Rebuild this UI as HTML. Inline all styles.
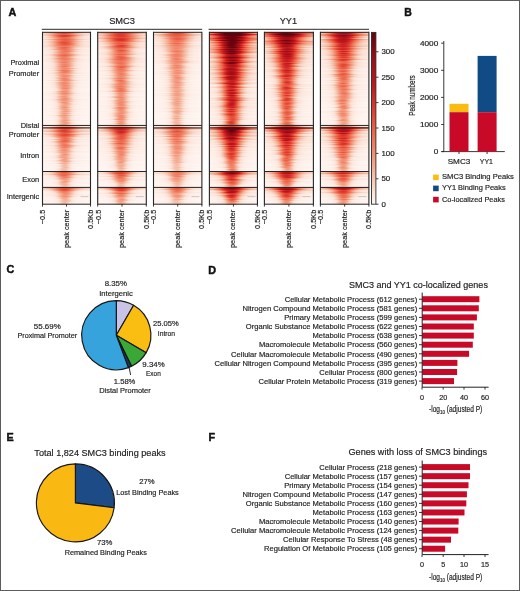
<!DOCTYPE html><html><head><meta charset="utf-8"><style>html,body{margin:0;padding:0;background:#fff;}svg{display:block;will-change:transform}</style></head><body><svg width="520" height="591" viewBox="0 0 520 591" font-family="Liberation Sans, sans-serif"><style>text{stroke:#1e1e1e;stroke-width:0.18px;paint-order:stroke}</style><defs><linearGradient id="g0" x1="0" x2="1" y1="0" y2="0"><stop offset="0.000" stop-color="#fff" stop-opacity="0.007"/><stop offset="0.050" stop-color="#fff" stop-opacity="0.018"/><stop offset="0.100" stop-color="#fff" stop-opacity="0.043"/><stop offset="0.150" stop-color="#fff" stop-opacity="0.093"/><stop offset="0.200" stop-color="#fff" stop-opacity="0.179"/><stop offset="0.250" stop-color="#fff" stop-opacity="0.310"/><stop offset="0.300" stop-color="#fff" stop-opacity="0.480"/><stop offset="0.350" stop-color="#fff" stop-opacity="0.670"/><stop offset="0.400" stop-color="#fff" stop-opacity="0.843"/><stop offset="0.450" stop-color="#fff" stop-opacity="0.961"/><stop offset="0.500" stop-color="#fff" stop-opacity="1.000"/><stop offset="0.550" stop-color="#fff" stop-opacity="0.961"/><stop offset="0.600" stop-color="#fff" stop-opacity="0.843"/><stop offset="0.650" stop-color="#fff" stop-opacity="0.670"/><stop offset="0.700" stop-color="#fff" stop-opacity="0.480"/><stop offset="0.750" stop-color="#fff" stop-opacity="0.310"/><stop offset="0.800" stop-color="#fff" stop-opacity="0.179"/><stop offset="0.850" stop-color="#fff" stop-opacity="0.093"/><stop offset="0.900" stop-color="#fff" stop-opacity="0.043"/><stop offset="0.950" stop-color="#fff" stop-opacity="0.018"/><stop offset="1.000" stop-color="#fff" stop-opacity="0.007"/></linearGradient><linearGradient id="g1" x1="0" x2="1" y1="0" y2="0"><stop offset="0.000" stop-color="#fff" stop-opacity="0.008"/><stop offset="0.050" stop-color="#fff" stop-opacity="0.022"/><stop offset="0.100" stop-color="#fff" stop-opacity="0.054"/><stop offset="0.150" stop-color="#fff" stop-opacity="0.116"/><stop offset="0.200" stop-color="#fff" stop-opacity="0.224"/><stop offset="0.250" stop-color="#fff" stop-opacity="0.387"/><stop offset="0.300" stop-color="#fff" stop-opacity="0.600"/><stop offset="0.350" stop-color="#fff" stop-opacity="0.837"/><stop offset="0.400" stop-color="#fff" stop-opacity="1.000"/><stop offset="0.450" stop-color="#fff" stop-opacity="1.000"/><stop offset="0.500" stop-color="#fff" stop-opacity="1.000"/><stop offset="0.550" stop-color="#fff" stop-opacity="1.000"/><stop offset="0.600" stop-color="#fff" stop-opacity="1.000"/><stop offset="0.650" stop-color="#fff" stop-opacity="0.837"/><stop offset="0.700" stop-color="#fff" stop-opacity="0.600"/><stop offset="0.750" stop-color="#fff" stop-opacity="0.387"/><stop offset="0.800" stop-color="#fff" stop-opacity="0.224"/><stop offset="0.850" stop-color="#fff" stop-opacity="0.116"/><stop offset="0.900" stop-color="#fff" stop-opacity="0.054"/><stop offset="0.950" stop-color="#fff" stop-opacity="0.022"/><stop offset="1.000" stop-color="#fff" stop-opacity="0.008"/></linearGradient><linearGradient id="g2" x1="0" x2="1" y1="0" y2="0"><stop offset="0.000" stop-color="#fff" stop-opacity="0.010"/><stop offset="0.050" stop-color="#fff" stop-opacity="0.027"/><stop offset="0.100" stop-color="#fff" stop-opacity="0.065"/><stop offset="0.150" stop-color="#fff" stop-opacity="0.140"/><stop offset="0.200" stop-color="#fff" stop-opacity="0.269"/><stop offset="0.250" stop-color="#fff" stop-opacity="0.465"/><stop offset="0.300" stop-color="#fff" stop-opacity="0.721"/><stop offset="0.350" stop-color="#fff" stop-opacity="1.000"/><stop offset="0.400" stop-color="#fff" stop-opacity="1.000"/><stop offset="0.450" stop-color="#fff" stop-opacity="1.000"/><stop offset="0.500" stop-color="#fff" stop-opacity="1.000"/><stop offset="0.550" stop-color="#fff" stop-opacity="1.000"/><stop offset="0.600" stop-color="#fff" stop-opacity="1.000"/><stop offset="0.650" stop-color="#fff" stop-opacity="1.000"/><stop offset="0.700" stop-color="#fff" stop-opacity="0.721"/><stop offset="0.750" stop-color="#fff" stop-opacity="0.465"/><stop offset="0.800" stop-color="#fff" stop-opacity="0.269"/><stop offset="0.850" stop-color="#fff" stop-opacity="0.140"/><stop offset="0.900" stop-color="#fff" stop-opacity="0.065"/><stop offset="0.950" stop-color="#fff" stop-opacity="0.027"/><stop offset="1.000" stop-color="#fff" stop-opacity="0.010"/></linearGradient><linearGradient id="g3" x1="0" x2="1" y1="0" y2="0"><stop offset="0.000" stop-color="#fff" stop-opacity="0.012"/><stop offset="0.050" stop-color="#fff" stop-opacity="0.032"/><stop offset="0.100" stop-color="#fff" stop-opacity="0.078"/><stop offset="0.150" stop-color="#fff" stop-opacity="0.167"/><stop offset="0.200" stop-color="#fff" stop-opacity="0.323"/><stop offset="0.250" stop-color="#fff" stop-opacity="0.558"/><stop offset="0.300" stop-color="#fff" stop-opacity="0.865"/><stop offset="0.350" stop-color="#fff" stop-opacity="1.000"/><stop offset="0.400" stop-color="#fff" stop-opacity="1.000"/><stop offset="0.450" stop-color="#fff" stop-opacity="1.000"/><stop offset="0.500" stop-color="#fff" stop-opacity="1.000"/><stop offset="0.550" stop-color="#fff" stop-opacity="1.000"/><stop offset="0.600" stop-color="#fff" stop-opacity="1.000"/><stop offset="0.650" stop-color="#fff" stop-opacity="1.000"/><stop offset="0.700" stop-color="#fff" stop-opacity="0.865"/><stop offset="0.750" stop-color="#fff" stop-opacity="0.558"/><stop offset="0.800" stop-color="#fff" stop-opacity="0.323"/><stop offset="0.850" stop-color="#fff" stop-opacity="0.167"/><stop offset="0.900" stop-color="#fff" stop-opacity="0.078"/><stop offset="0.950" stop-color="#fff" stop-opacity="0.032"/><stop offset="1.000" stop-color="#fff" stop-opacity="0.012"/></linearGradient><linearGradient id="g4" x1="0" x2="1" y1="0" y2="0"><stop offset="0.000" stop-color="#fff" stop-opacity="0.014"/><stop offset="0.050" stop-color="#fff" stop-opacity="0.039"/><stop offset="0.100" stop-color="#fff" stop-opacity="0.095"/><stop offset="0.150" stop-color="#fff" stop-opacity="0.205"/><stop offset="0.200" stop-color="#fff" stop-opacity="0.395"/><stop offset="0.250" stop-color="#fff" stop-opacity="0.682"/><stop offset="0.300" stop-color="#fff" stop-opacity="1.000"/><stop offset="0.350" stop-color="#fff" stop-opacity="1.000"/><stop offset="0.400" stop-color="#fff" stop-opacity="1.000"/><stop offset="0.450" stop-color="#fff" stop-opacity="1.000"/><stop offset="0.500" stop-color="#fff" stop-opacity="1.000"/><stop offset="0.550" stop-color="#fff" stop-opacity="1.000"/><stop offset="0.600" stop-color="#fff" stop-opacity="1.000"/><stop offset="0.650" stop-color="#fff" stop-opacity="1.000"/><stop offset="0.700" stop-color="#fff" stop-opacity="1.000"/><stop offset="0.750" stop-color="#fff" stop-opacity="0.682"/><stop offset="0.800" stop-color="#fff" stop-opacity="0.395"/><stop offset="0.850" stop-color="#fff" stop-opacity="0.205"/><stop offset="0.900" stop-color="#fff" stop-opacity="0.095"/><stop offset="0.950" stop-color="#fff" stop-opacity="0.039"/><stop offset="1.000" stop-color="#fff" stop-opacity="0.014"/></linearGradient><linearGradient id="g5" x1="0" x2="1" y1="0" y2="0"><stop offset="0.000" stop-color="#fff" stop-opacity="0.018"/><stop offset="0.050" stop-color="#fff" stop-opacity="0.050"/><stop offset="0.100" stop-color="#fff" stop-opacity="0.121"/><stop offset="0.150" stop-color="#fff" stop-opacity="0.260"/><stop offset="0.200" stop-color="#fff" stop-opacity="0.502"/><stop offset="0.250" stop-color="#fff" stop-opacity="0.868"/><stop offset="0.300" stop-color="#fff" stop-opacity="1.000"/><stop offset="0.350" stop-color="#fff" stop-opacity="1.000"/><stop offset="0.400" stop-color="#fff" stop-opacity="1.000"/><stop offset="0.450" stop-color="#fff" stop-opacity="1.000"/><stop offset="0.500" stop-color="#fff" stop-opacity="1.000"/><stop offset="0.550" stop-color="#fff" stop-opacity="1.000"/><stop offset="0.600" stop-color="#fff" stop-opacity="1.000"/><stop offset="0.650" stop-color="#fff" stop-opacity="1.000"/><stop offset="0.700" stop-color="#fff" stop-opacity="1.000"/><stop offset="0.750" stop-color="#fff" stop-opacity="0.868"/><stop offset="0.800" stop-color="#fff" stop-opacity="0.502"/><stop offset="0.850" stop-color="#fff" stop-opacity="0.260"/><stop offset="0.900" stop-color="#fff" stop-opacity="0.121"/><stop offset="0.950" stop-color="#fff" stop-opacity="0.050"/><stop offset="1.000" stop-color="#fff" stop-opacity="0.018"/></linearGradient><filter id="reds" color-interpolation-filters="sRGB" x="-0.1" y="-0.1" width="1.2" height="1.2"><feGaussianBlur stdDeviation="0.45 0.4"/><feComponentTransfer><feFuncR type="table" tableValues="1.000 0.984 0.965 0.949 0.925 0.878 0.757 0.620 0.404"/><feFuncG type="table" tableValues="0.965 0.878 0.729 0.561 0.404 0.227 0.094 0.055 0.008"/><feFuncB type="table" tableValues="0.949 0.831 0.639 0.455 0.298 0.173 0.118 0.082 0.051"/></feComponentTransfer></filter><clipPath id="cb0"><rect x="42.50" y="32.3" width="48.00" height="171.9"/></clipPath><clipPath id="cb1"><rect x="97.70" y="32.3" width="48.60" height="171.9"/></clipPath><clipPath id="cb2"><rect x="153.50" y="32.3" width="48.40" height="171.9"/></clipPath><clipPath id="cb3"><rect x="209.40" y="32.3" width="48.05" height="171.9"/></clipPath><clipPath id="cb4"><rect x="264.40" y="32.3" width="49.00" height="171.9"/></clipPath><clipPath id="cb5"><rect x="320.40" y="32.3" width="48.50" height="171.9"/></clipPath><linearGradient id="cbar" x1="0" y1="1" x2="0" y2="0"><stop offset="0.000" stop-color="#fff6f2"/><stop offset="0.074" stop-color="#fbe0d4"/><stop offset="0.177" stop-color="#f6baa3"/><stop offset="0.293" stop-color="#f28f74"/><stop offset="0.420" stop-color="#ec674c"/><stop offset="0.556" stop-color="#e03a2c"/><stop offset="0.698" stop-color="#c1181e"/><stop offset="0.846" stop-color="#9e0e15"/><stop offset="1.000" stop-color="#67020d"/></linearGradient></defs><rect width="520" height="591" fill="#fff"/><text x="8.50" y="15.90" font-size="10.80" font-weight="bold" style="stroke-width:0.45px;stroke:#111" fill="#111">A</text><text x="122.10" y="24.10" font-size="9.30" text-anchor="middle" fill="#1e1e1e">SMC3</text><text x="288.40" y="23.70" font-size="9.20" text-anchor="middle" fill="#1e1e1e">YY1</text><path d="M41.8 29.3H202.2M208.6 29.3H369" stroke="#2a2a2a" stroke-width="1.00" fill="none"/><g clip-path="url(#cb0)"><g filter="url(#reds)"><rect x="40.5" y="30.3" width="52.0" height="175.9" fill="#000"/><rect x="42.5" y="32" width="48.0" height="1" fill="#fff" opacity="0.0312"/><rect x="0.0" y="32" width="129.4" height="1" fill="url(#g0)" opacity="0.1"/><rect x="34.6" y="32" width="58.8" height="1" fill="url(#g0)" opacity="0.517"/><rect x="42.5" y="33" width="48.0" height="1" fill="#fff" opacity="0.0687"/><rect x="3.6" y="33" width="122.3" height="1" fill="url(#g0)" opacity="0.093"/><rect x="36.2" y="33" width="55.6" height="1" fill="url(#g0)" opacity="0.493"/><rect x="42.5" y="34" width="48.0" height="1" fill="#fff" opacity="0.101"/><rect x="4.4" y="34" width="120.5" height="1" fill="url(#g0)" opacity="0.091"/><rect x="36.6" y="34" width="54.8" height="1" fill="url(#g0)" opacity="0.41"/><rect x="42.5" y="35" width="48.0" height="1" fill="#fff" opacity="0.02"/><rect x="-4.8" y="35" width="139.1" height="1" fill="url(#g0)" opacity="0.1"/><rect x="33.2" y="35" width="63.2" height="1" fill="url(#g0)" opacity="0.578"/><rect x="42.5" y="36" width="48.0" height="1" fill="#fff" opacity="0.0354"/><rect x="8.2" y="36" width="113.1" height="1" fill="url(#g0)" opacity="0.083"/><rect x="38.7" y="36" width="51.4" height="1" fill="url(#g0)" opacity="0.571"/><rect x="42.5" y="37" width="48.0" height="1" fill="#fff" opacity="0.034"/><rect x="4.1" y="37" width="121.2" height="1" fill="url(#g0)" opacity="0.088"/><rect x="36.5" y="37" width="55.1" height="1" fill="url(#g0)" opacity="0.43"/><rect x="42.5" y="38" width="48.0" height="1" fill="#fff" opacity="0.0245"/><rect x="9.2" y="38" width="111.0" height="1" fill="url(#g0)" opacity="0.091"/><rect x="39.6" y="38" width="50.5" height="1" fill="url(#g0)" opacity="0.438"/><rect x="42.5" y="39" width="48.0" height="1" fill="#fff" opacity="0.0509"/><rect x="2.1" y="39" width="125.2" height="1" fill="url(#g0)" opacity="0.11"/><rect x="36.2" y="39" width="56.9" height="1" fill="url(#g0)" opacity="0.45"/><rect x="42.5" y="40" width="48.0" height="1" fill="#fff" opacity="0.03"/><rect x="8.5" y="40" width="112.5" height="1" fill="url(#g0)" opacity="0.074"/><rect x="39.5" y="40" width="51.1" height="1" fill="url(#g0)" opacity="0.459"/><rect x="42.5" y="41" width="48.0" height="1" fill="#fff" opacity="0.0465"/><rect x="4.6" y="41" width="120.3" height="1" fill="url(#g0)" opacity="0.079"/><rect x="37.7" y="41" width="54.7" height="1" fill="url(#g0)" opacity="0.471"/><rect x="42.5" y="42" width="48.0" height="1" fill="#fff" opacity="0.058"/><rect x="12.9" y="42" width="103.6" height="1" fill="url(#g0)" opacity="0.089"/><rect x="40.6" y="42" width="47.1" height="1" fill="url(#g0)" opacity="0.512"/><rect x="42.5" y="43" width="48.0" height="1" fill="#fff" opacity="0.0195"/><rect x="8.7" y="43" width="112.1" height="1" fill="url(#g0)" opacity="0.1"/><rect x="39.7" y="43" width="50.9" height="1" fill="url(#g0)" opacity="0.511"/><rect x="42.5" y="44" width="48.0" height="1" fill="#fff" opacity="0.04"/><rect x="11.6" y="44" width="106.2" height="1" fill="url(#g0)" opacity="0.099"/><rect x="40.7" y="44" width="48.3" height="1" fill="url(#g0)" opacity="0.486"/><rect x="42.5" y="45" width="48.0" height="1" fill="#fff" opacity="0.0291"/><rect x="4.0" y="45" width="121.4" height="1" fill="url(#g0)" opacity="0.093"/><rect x="37.1" y="45" width="55.2" height="1" fill="url(#g0)" opacity="0.429"/><rect x="42.5" y="46" width="48.0" height="1" fill="#fff" opacity="0.0603"/><rect x="7.5" y="46" width="114.3" height="1" fill="url(#g0)" opacity="0.07"/><rect x="38.4" y="46" width="52.0" height="1" fill="url(#g0)" opacity="0.363"/><rect x="42.5" y="47" width="48.0" height="1" fill="#fff" opacity="0.0566"/><rect x="19.5" y="47" width="90.4" height="1" fill="url(#g0)" opacity="0.093"/><rect x="43.9" y="47" width="41.1" height="1" fill="url(#g0)" opacity="0.429"/><rect x="42.5" y="48" width="48.0" height="1" fill="#fff" opacity="0.024"/><rect x="17.5" y="48" width="94.5" height="1" fill="url(#g0)" opacity="0.07"/><rect x="42.6" y="48" width="42.9" height="1" fill="url(#g0)" opacity="0.431"/><rect x="42.5" y="49" width="48.0" height="1" fill="#fff" opacity="0.0134"/><rect x="8.6" y="49" width="112.2" height="1" fill="url(#g0)" opacity="0.075"/><rect x="38.7" y="49" width="51.0" height="1" fill="url(#g0)" opacity="0.415"/><rect x="42.5" y="50" width="48.0" height="1" fill="#fff" opacity="0.0351"/><rect x="20.8" y="50" width="87.9" height="1" fill="url(#g0)" opacity="0.066"/><rect x="45.3" y="50" width="39.9" height="1" fill="url(#g0)" opacity="0.386"/><rect x="42.5" y="51" width="48.0" height="1" fill="#fff" opacity="0.0336"/><rect x="18.2" y="51" width="93.1" height="1" fill="url(#g0)" opacity="0.062"/><rect x="44.3" y="51" width="42.3" height="1" fill="url(#g0)" opacity="0.403"/><rect x="42.5" y="52" width="48.0" height="1" fill="#fff" opacity="0.0194"/><rect x="20.4" y="52" width="88.6" height="1" fill="url(#g0)" opacity="0.087"/><rect x="43.8" y="52" width="40.3" height="1" fill="url(#g0)" opacity="0.362"/><rect x="42.5" y="53" width="48.0" height="1" fill="#fff" opacity="0.0153"/><rect x="20.0" y="53" width="89.3" height="1" fill="url(#g0)" opacity="0.067"/><rect x="44.3" y="53" width="40.6" height="1" fill="url(#g0)" opacity="0.376"/><rect x="42.5" y="54" width="48.0" height="1" fill="#fff" opacity="0.00748"/><rect x="10.9" y="54" width="107.7" height="1" fill="url(#g0)" opacity="0.097"/><rect x="40.2" y="54" width="48.9" height="1" fill="url(#g0)" opacity="0.406"/><rect x="42.5" y="55" width="48.0" height="1" fill="#fff" opacity="0.0312"/><rect x="15.2" y="55" width="99.1" height="1" fill="url(#g0)" opacity="0.081"/><rect x="42.0" y="55" width="45.0" height="1" fill="url(#g0)" opacity="0.448"/><rect x="42.5" y="56" width="48.0" height="1" fill="#fff" opacity="0.018"/><rect x="19.5" y="56" width="90.4" height="1" fill="url(#g0)" opacity="0.063"/><rect x="43.5" y="56" width="41.1" height="1" fill="url(#g0)" opacity="0.405"/><rect x="42.5" y="57" width="48.0" height="1" fill="#fff" opacity="0.00705"/><rect x="20.7" y="57" width="87.9" height="1" fill="url(#g0)" opacity="0.073"/><rect x="44.1" y="57" width="40.0" height="1" fill="url(#g0)" opacity="0.364"/><rect x="42.5" y="58" width="48.0" height="1" fill="#fff" opacity="0.00691"/><rect x="12.7" y="58" width="103.9" height="1" fill="url(#g0)" opacity="0.064"/><rect x="40.4" y="58" width="47.2" height="1" fill="url(#g0)" opacity="0.412"/><rect x="42.5" y="59" width="48.0" height="1" fill="#fff" opacity="0.022"/><rect x="17.5" y="59" width="94.4" height="1" fill="url(#g0)" opacity="0.072"/><rect x="43.4" y="59" width="42.9" height="1" fill="url(#g0)" opacity="0.375"/><rect x="42.5" y="60" width="48.0" height="1" fill="#fff" opacity="0.0364"/><rect x="19.9" y="60" width="89.6" height="1" fill="url(#g0)" opacity="0.061"/><rect x="44.3" y="60" width="40.7" height="1" fill="url(#g0)" opacity="0.339"/><rect x="42.5" y="61" width="48.0" height="1" fill="#fff" opacity="0.0162"/><rect x="16.8" y="61" width="95.8" height="1" fill="url(#g0)" opacity="0.076"/><rect x="42.9" y="61" width="43.6" height="1" fill="url(#g0)" opacity="0.342"/><rect x="42.5" y="62" width="48.0" height="1" fill="#fff" opacity="0.0206"/><rect x="24.4" y="62" width="80.5" height="1" fill="url(#g0)" opacity="0.077"/><rect x="45.8" y="62" width="36.6" height="1" fill="url(#g0)" opacity="0.38"/><rect x="42.5" y="63" width="48.0" height="1" fill="#fff" opacity="0.00929"/><rect x="20.6" y="63" width="88.3" height="1" fill="url(#g0)" opacity="0.056"/><rect x="44.9" y="63" width="40.1" height="1" fill="url(#g0)" opacity="0.342"/><rect x="42.5" y="64" width="48.0" height="1" fill="#fff" opacity="0.0151"/><rect x="25.7" y="64" width="78.1" height="1" fill="url(#g0)" opacity="0.083"/><rect x="47.0" y="64" width="35.5" height="1" fill="url(#g0)" opacity="0.356"/><rect x="42.5" y="65" width="48.0" height="1" fill="#fff" opacity="0.0148"/><rect x="25.3" y="65" width="78.8" height="1" fill="url(#g0)" opacity="0.083"/><rect x="47.3" y="65" width="35.8" height="1" fill="url(#g0)" opacity="0.348"/><rect x="42.5" y="66" width="48.0" height="1" fill="#fff" opacity="0.0317"/><rect x="25.6" y="66" width="78.2" height="1" fill="url(#g0)" opacity="0.055"/><rect x="46.7" y="66" width="35.5" height="1" fill="url(#g0)" opacity="0.401"/><rect x="42.5" y="67" width="48.0" height="1" fill="#fff" opacity="0.0141"/><rect x="25.3" y="67" width="78.7" height="1" fill="url(#g0)" opacity="0.068"/><rect x="46.3" y="67" width="35.8" height="1" fill="url(#g0)" opacity="0.32"/><rect x="42.5" y="68" width="48.0" height="1" fill="#fff" opacity="0.0178"/><rect x="19.1" y="68" width="91.3" height="1" fill="url(#g0)" opacity="0.063"/><rect x="44.7" y="68" width="41.5" height="1" fill="url(#g0)" opacity="0.353"/><rect x="42.5" y="69" width="48.0" height="1" fill="#fff" opacity="0.0133"/><rect x="26.7" y="69" width="75.9" height="1" fill="url(#g0)" opacity="0.066"/><rect x="47.2" y="69" width="34.5" height="1" fill="url(#g0)" opacity="0.338"/><rect x="42.5" y="70" width="48.0" height="1" fill="#fff" opacity="0.00519"/><rect x="22.4" y="70" width="84.6" height="1" fill="url(#g0)" opacity="0.086"/><rect x="45.4" y="70" width="38.5" height="1" fill="url(#g0)" opacity="0.411"/><rect x="42.5" y="71" width="48.0" height="1" fill="#fff" opacity="0.00757"/><rect x="29.2" y="71" width="71.0" height="1" fill="url(#g0)" opacity="0.088"/><rect x="49.2" y="71" width="32.3" height="1" fill="url(#g0)" opacity="0.384"/><rect x="42.5" y="72" width="48.0" height="1" fill="#fff" opacity="0.00981"/><rect x="24.8" y="72" width="79.8" height="1" fill="url(#g0)" opacity="0.08"/><rect x="46.5" y="72" width="36.3" height="1" fill="url(#g0)" opacity="0.38"/><rect x="42.5" y="73" width="48.0" height="1" fill="#fff" opacity="0.0202"/><rect x="19.6" y="73" width="90.1" height="1" fill="url(#g0)" opacity="0.071"/><rect x="44.2" y="73" width="41.0" height="1" fill="url(#g0)" opacity="0.303"/><rect x="42.5" y="74" width="48.0" height="1" fill="#fff" opacity="0.00923"/><rect x="29.4" y="74" width="70.6" height="1" fill="url(#g0)" opacity="0.065"/><rect x="47.9" y="74" width="32.1" height="1" fill="url(#g0)" opacity="0.312"/><rect x="42.5" y="75" width="48.0" height="1" fill="#fff" opacity="0.0246"/><rect x="23.9" y="75" width="81.5" height="1" fill="url(#g0)" opacity="0.062"/><rect x="46.4" y="75" width="37.1" height="1" fill="url(#g0)" opacity="0.342"/><rect x="42.5" y="76" width="48.0" height="1" fill="#fff" opacity="0.00433"/><rect x="30.4" y="76" width="68.6" height="1" fill="url(#g0)" opacity="0.078"/><rect x="49.6" y="76" width="31.2" height="1" fill="url(#g0)" opacity="0.35"/><rect x="42.5" y="77" width="48.0" height="1" fill="#fff" opacity="0.00837"/><rect x="23.7" y="77" width="82.0" height="1" fill="url(#g0)" opacity="0.074"/><rect x="46.0" y="77" width="37.3" height="1" fill="url(#g0)" opacity="0.3"/><rect x="42.5" y="78" width="48.0" height="1" fill="#fff" opacity="0.0101"/><rect x="30.2" y="78" width="68.9" height="1" fill="url(#g0)" opacity="0.072"/><rect x="48.6" y="78" width="31.3" height="1" fill="url(#g0)" opacity="0.373"/><rect x="42.5" y="79" width="48.0" height="1" fill="#fff" opacity="0.0169"/><rect x="29.2" y="79" width="71.0" height="1" fill="url(#g0)" opacity="0.052"/><rect x="49.1" y="79" width="32.3" height="1" fill="url(#g0)" opacity="0.374"/><rect x="42.5" y="80" width="48.0" height="1" fill="#fff" opacity="0.0168"/><rect x="23.0" y="80" width="83.5" height="1" fill="url(#g0)" opacity="0.086"/><rect x="46.3" y="80" width="37.9" height="1" fill="url(#g0)" opacity="0.346"/><rect x="31.5" y="81" width="66.4" height="1" fill="url(#g0)" opacity="0.07"/><rect x="50.2" y="81" width="30.2" height="1" fill="url(#g0)" opacity="0.302"/><rect x="42.5" y="82" width="48.0" height="1" fill="#fff" opacity="0.00775"/><rect x="24.8" y="82" width="79.9" height="1" fill="url(#g0)" opacity="0.066"/><rect x="46.0" y="82" width="36.3" height="1" fill="url(#g0)" opacity="0.349"/><rect x="42.5" y="83" width="48.0" height="1" fill="#fff" opacity="0.0125"/><rect x="27.4" y="83" width="74.6" height="1" fill="url(#g0)" opacity="0.07"/><rect x="48.0" y="83" width="33.9" height="1" fill="url(#g0)" opacity="0.353"/><rect x="25.2" y="84" width="79.0" height="1" fill="url(#g0)" opacity="0.056"/><rect x="46.3" y="84" width="35.9" height="1" fill="url(#g0)" opacity="0.343"/><rect x="28.3" y="85" width="72.7" height="1" fill="url(#g0)" opacity="0.086"/><rect x="48.6" y="85" width="33.1" height="1" fill="url(#g0)" opacity="0.349"/><rect x="42.5" y="86" width="48.0" height="1" fill="#fff" opacity="0.00934"/><rect x="27.4" y="86" width="74.6" height="1" fill="url(#g0)" opacity="0.062"/><rect x="48.1" y="86" width="33.9" height="1" fill="url(#g0)" opacity="0.328"/><rect x="42.5" y="87" width="48.0" height="1" fill="#fff" opacity="0.00925"/><rect x="29.0" y="87" width="71.3" height="1" fill="url(#g0)" opacity="0.08"/><rect x="48.8" y="87" width="32.4" height="1" fill="url(#g0)" opacity="0.323"/><rect x="42.5" y="88" width="48.0" height="1" fill="#fff" opacity="0.00917"/><rect x="31.6" y="88" width="66.2" height="1" fill="url(#g0)" opacity="0.056"/><rect x="50.2" y="88" width="30.1" height="1" fill="url(#g0)" opacity="0.379"/><rect x="42.5" y="89" width="48.0" height="1" fill="#fff" opacity="0.00545"/><rect x="29.8" y="89" width="69.8" height="1" fill="url(#g0)" opacity="0.056"/><rect x="49.1" y="89" width="31.7" height="1" fill="url(#g0)" opacity="0.299"/><rect x="42.5" y="90" width="48.0" height="1" fill="#fff" opacity="0.0054"/><rect x="31.5" y="90" width="66.4" height="1" fill="url(#g0)" opacity="0.047"/><rect x="50.2" y="90" width="30.2" height="1" fill="url(#g0)" opacity="0.313"/><rect x="42.5" y="91" width="48.0" height="1" fill="#fff" opacity="0.00713"/><rect x="27.9" y="91" width="73.6" height="1" fill="url(#g0)" opacity="0.052"/><rect x="47.6" y="91" width="33.4" height="1" fill="url(#g0)" opacity="0.355"/><rect x="42.5" y="92" width="48.0" height="1" fill="#fff" opacity="0.00529"/><rect x="27.2" y="92" width="75.0" height="1" fill="url(#g0)" opacity="0.062"/><rect x="47.5" y="92" width="34.1" height="1" fill="url(#g0)" opacity="0.323"/><rect x="42.5" y="93" width="48.0" height="1" fill="#fff" opacity="0.00699"/><rect x="26.5" y="93" width="76.3" height="1" fill="url(#g0)" opacity="0.091"/><rect x="47.7" y="93" width="34.7" height="1" fill="url(#g0)" opacity="0.351"/><rect x="42.5" y="94" width="48.0" height="1" fill="#fff" opacity="0.0112"/><rect x="31.0" y="94" width="67.4" height="1" fill="url(#g0)" opacity="0.069"/><rect x="49.1" y="94" width="30.6" height="1" fill="url(#g0)" opacity="0.305"/><rect x="42.5" y="95" width="48.0" height="1" fill="#fff" opacity="0.0188"/><rect x="29.8" y="95" width="69.7" height="1" fill="url(#g0)" opacity="0.051"/><rect x="49.2" y="95" width="31.7" height="1" fill="url(#g0)" opacity="0.274"/><rect x="42.5" y="96" width="48.0" height="1" fill="#fff" opacity="0.00509"/><rect x="32.7" y="96" width="64.0" height="1" fill="url(#g0)" opacity="0.078"/><rect x="49.5" y="96" width="29.1" height="1" fill="url(#g0)" opacity="0.31"/><rect x="42.5" y="97" width="48.0" height="1" fill="#fff" opacity="0.00503"/><rect x="27.0" y="97" width="75.5" height="1" fill="url(#g0)" opacity="0.042"/><rect x="47.2" y="97" width="34.3" height="1" fill="url(#g0)" opacity="0.308"/><rect x="42.5" y="98" width="48.0" height="1" fill="#fff" opacity="0.00664"/><rect x="33.3" y="98" width="62.8" height="1" fill="url(#g0)" opacity="0.08"/><rect x="50.9" y="98" width="28.5" height="1" fill="url(#g0)" opacity="0.33"/><rect x="42.5" y="99" width="48.0" height="1" fill="#fff" opacity="0.014"/><rect x="26.7" y="99" width="76.0" height="1" fill="url(#g0)" opacity="0.08"/><rect x="46.9" y="99" width="34.5" height="1" fill="url(#g0)" opacity="0.313"/><rect x="42.5" y="100" width="48.0" height="1" fill="#fff" opacity="0.00488"/><rect x="29.4" y="100" width="70.6" height="1" fill="url(#g0)" opacity="0.073"/><rect x="48.3" y="100" width="32.1" height="1" fill="url(#g0)" opacity="0.313"/><rect x="42.5" y="101" width="48.0" height="1" fill="#fff" opacity="0.00805"/><rect x="27.7" y="101" width="74.1" height="1" fill="url(#g0)" opacity="0.061"/><rect x="48.6" y="101" width="33.7" height="1" fill="url(#g0)" opacity="0.282"/><rect x="42.5" y="102" width="48.0" height="1" fill="#fff" opacity="0.00796"/><rect x="35.9" y="102" width="57.6" height="1" fill="url(#g0)" opacity="0.079"/><rect x="50.9" y="102" width="26.2" height="1" fill="url(#g0)" opacity="0.325"/><rect x="42.5" y="103" width="48.0" height="1" fill="#fff" opacity="0.0134"/><rect x="33.6" y="103" width="62.3" height="1" fill="url(#g0)" opacity="0.051"/><rect x="51.2" y="103" width="28.3" height="1" fill="url(#g0)" opacity="0.307"/><rect x="42.5" y="104" width="48.0" height="1" fill="#fff" opacity="0.00779"/><rect x="31.9" y="104" width="65.6" height="1" fill="url(#g0)" opacity="0.07"/><rect x="50.5" y="104" width="29.8" height="1" fill="url(#g0)" opacity="0.265"/><rect x="42.5" y="105" width="48.0" height="1" fill="#fff" opacity="0.0077"/><rect x="35.5" y="105" width="58.4" height="1" fill="url(#g0)" opacity="0.058"/><rect x="51.6" y="105" width="26.6" height="1" fill="url(#g0)" opacity="0.286"/><rect x="42.5" y="106" width="48.0" height="1" fill="#fff" opacity="0.00609"/><rect x="33.1" y="106" width="63.2" height="1" fill="url(#g0)" opacity="0.065"/><rect x="50.0" y="106" width="28.7" height="1" fill="url(#g0)" opacity="0.274"/><rect x="37.2" y="107" width="55.0" height="1" fill="url(#g0)" opacity="0.069"/><rect x="52.6" y="107" width="25.0" height="1" fill="url(#g0)" opacity="0.345"/><rect x="42.5" y="108" width="48.0" height="1" fill="#fff" opacity="0.0164"/><rect x="33.2" y="108" width="63.0" height="1" fill="url(#g0)" opacity="0.065"/><rect x="49.8" y="108" width="28.6" height="1" fill="url(#g0)" opacity="0.262"/><rect x="42.5" y="109" width="48.0" height="1" fill="#fff" opacity="0.0125"/><rect x="33.2" y="109" width="62.9" height="1" fill="url(#g0)" opacity="0.051"/><rect x="51.1" y="109" width="28.6" height="1" fill="url(#g0)" opacity="0.297"/><rect x="42.5" y="110" width="48.0" height="1" fill="#fff" opacity="0.00727"/><rect x="35.9" y="110" width="57.6" height="1" fill="url(#g0)" opacity="0.061"/><rect x="52.1" y="110" width="26.2" height="1" fill="url(#g0)" opacity="0.271"/><rect x="42.5" y="111" width="48.0" height="1" fill="#fff" opacity="0.00934"/><rect x="34.5" y="111" width="60.5" height="1" fill="url(#g0)" opacity="0.073"/><rect x="51.7" y="111" width="27.5" height="1" fill="url(#g0)" opacity="0.298"/><rect x="42.5" y="112" width="48.0" height="1" fill="#fff" opacity="0.0071"/><rect x="32.6" y="112" width="64.2" height="1" fill="url(#g0)" opacity="0.038"/><rect x="50.0" y="112" width="29.2" height="1" fill="url(#g0)" opacity="0.269"/><rect x="42.5" y="113" width="48.0" height="1" fill="#fff" opacity="0.00702"/><rect x="35.1" y="113" width="59.3" height="1" fill="url(#g0)" opacity="0.067"/><rect x="51.4" y="113" width="26.9" height="1" fill="url(#g0)" opacity="0.303"/><rect x="42.5" y="114" width="48.0" height="1" fill="#fff" opacity="0.00693"/><rect x="37.1" y="114" width="55.3" height="1" fill="url(#g0)" opacity="0.044"/><rect x="52.0" y="114" width="25.1" height="1" fill="url(#g0)" opacity="0.264"/><rect x="42.5" y="115" width="48.0" height="1" fill="#fff" opacity="0.0089"/><rect x="30.1" y="115" width="69.3" height="1" fill="url(#g0)" opacity="0.082"/><rect x="48.6" y="115" width="31.5" height="1" fill="url(#g0)" opacity="0.314"/><rect x="35.9" y="116" width="57.7" height="1" fill="url(#g0)" opacity="0.041"/><rect x="51.3" y="116" width="26.2" height="1" fill="url(#g0)" opacity="0.29"/><rect x="42.5" y="117" width="48.0" height="1" fill="#fff" opacity="0.00667"/><rect x="33.4" y="117" width="62.7" height="1" fill="url(#g0)" opacity="0.038"/><rect x="50.5" y="117" width="28.5" height="1" fill="url(#g0)" opacity="0.285"/><rect x="42.5" y="118" width="48.0" height="1" fill="#fff" opacity="0.0112"/><rect x="38.6" y="118" width="52.1" height="1" fill="url(#g0)" opacity="0.05"/><rect x="53.0" y="118" width="23.7" height="1" fill="url(#g0)" opacity="0.27"/><rect x="34.0" y="119" width="61.4" height="1" fill="url(#g0)" opacity="0.055"/><rect x="50.9" y="119" width="27.9" height="1" fill="url(#g0)" opacity="0.273"/><rect x="42.5" y="120" width="48.0" height="1" fill="#fff" opacity="0.0109"/><rect x="34.0" y="120" width="61.4" height="1" fill="url(#g0)" opacity="0.068"/><rect x="51.2" y="120" width="27.9" height="1" fill="url(#g0)" opacity="0.296"/><rect x="42.5" y="121" width="48.0" height="1" fill="#fff" opacity="0.00506"/><rect x="37.5" y="121" width="54.5" height="1" fill="url(#g0)" opacity="0.067"/><rect x="51.6" y="121" width="24.8" height="1" fill="url(#g0)" opacity="0.277"/><rect x="42.5" y="122" width="48.0" height="1" fill="#fff" opacity="0.00499"/><rect x="34.7" y="122" width="60.1" height="1" fill="url(#g0)" opacity="0.07"/><rect x="51.7" y="122" width="27.3" height="1" fill="url(#g0)" opacity="0.307"/><rect x="33.3" y="123" width="62.9" height="1" fill="url(#g0)" opacity="0.059"/><rect x="50.9" y="123" width="28.6" height="1" fill="url(#g0)" opacity="0.288"/><rect x="42.5" y="124" width="48.0" height="1" fill="#fff" opacity="0.00607"/><rect x="34.6" y="124" width="60.2" height="1" fill="url(#g0)" opacity="0.044"/><rect x="50.4" y="124" width="27.4" height="1" fill="url(#g0)" opacity="0.322"/><rect x="42.5" y="125" width="48.0" height="1" fill="#fff" opacity="0.0102"/><rect x="32.4" y="125" width="64.6" height="1" fill="url(#g0)" opacity="0.059"/><rect x="50.6" y="125" width="29.4" height="1" fill="url(#g0)" opacity="0.285"/><rect x="42.5" y="125" width="48.0" height="1" fill="#fff" opacity="0.013"/><rect x="10.8" y="125" width="107.8" height="1" fill="url(#g0)" opacity="0.041"/><rect x="40.2" y="125" width="49.0" height="1" fill="url(#g0)" opacity="0.305"/><rect x="42.5" y="126" width="48.0" height="1" fill="#fff" opacity="0.00782"/><rect x="8.9" y="126" width="111.6" height="1" fill="url(#g0)" opacity="0.045"/><rect x="39.6" y="126" width="50.7" height="1" fill="url(#g0)" opacity="0.321"/><rect x="42.5" y="127" width="48.0" height="1" fill="#fff" opacity="0.00782"/><rect x="16.6" y="127" width="96.2" height="1" fill="url(#g0)" opacity="0.05"/><rect x="43.4" y="127" width="43.7" height="1" fill="url(#g0)" opacity="0.311"/><rect x="42.5" y="127" width="48.0" height="1" fill="#fff" opacity="0.264"/><rect x="10.1" y="127" width="109.2" height="1" fill="url(#g0)" opacity="0.12"/><rect x="39.9" y="127" width="49.6" height="1" fill="url(#g0)" opacity="0.624"/><rect x="42.5" y="128" width="48.0" height="1" fill="#fff" opacity="0.0404"/><rect x="4.7" y="128" width="120.1" height="1" fill="url(#g0)" opacity="0.12"/><rect x="37.6" y="128" width="54.6" height="1" fill="url(#g0)" opacity="0.609"/><rect x="42.5" y="129" width="48.0" height="1" fill="#fff" opacity="0.0821"/><rect x="16.1" y="129" width="97.3" height="1" fill="url(#g0)" opacity="0.11"/><rect x="42.8" y="129" width="44.2" height="1" fill="url(#g0)" opacity="0.477"/><rect x="42.5" y="130" width="48.0" height="1" fill="#fff" opacity="0.15"/><rect x="18.1" y="130" width="93.2" height="1" fill="url(#g0)" opacity="0.092"/><rect x="42.8" y="130" width="42.4" height="1" fill="url(#g0)" opacity="0.517"/><rect x="42.5" y="131" width="48.0" height="1" fill="#fff" opacity="0.138"/><rect x="10.7" y="131" width="108.1" height="1" fill="url(#g0)" opacity="0.11"/><rect x="39.8" y="131" width="49.1" height="1" fill="url(#g0)" opacity="0.506"/><rect x="42.5" y="132" width="48.0" height="1" fill="#fff" opacity="0.0344"/><rect x="15.4" y="132" width="98.6" height="1" fill="url(#g0)" opacity="0.1"/><rect x="43.1" y="132" width="44.8" height="1" fill="url(#g0)" opacity="0.51"/><rect x="42.5" y="133" width="48.0" height="1" fill="#fff" opacity="0.114"/><rect x="22.2" y="133" width="85.0" height="1" fill="url(#g0)" opacity="0.089"/><rect x="44.6" y="133" width="38.7" height="1" fill="url(#g0)" opacity="0.428"/><rect x="42.5" y="134" width="48.0" height="1" fill="#fff" opacity="0.102"/><rect x="10.8" y="134" width="107.9" height="1" fill="url(#g0)" opacity="0.094"/><rect x="41.0" y="134" width="49.0" height="1" fill="url(#g0)" opacity="0.5"/><rect x="42.5" y="135" width="48.0" height="1" fill="#fff" opacity="0.0247"/><rect x="12.7" y="135" width="103.9" height="1" fill="url(#g0)" opacity="0.079"/><rect x="41.2" y="135" width="47.2" height="1" fill="url(#g0)" opacity="0.544"/><rect x="42.5" y="136" width="48.0" height="1" fill="#fff" opacity="0.0286"/><rect x="13.9" y="136" width="101.7" height="1" fill="url(#g0)" opacity="0.096"/><rect x="41.8" y="136" width="46.2" height="1" fill="url(#g0)" opacity="0.458"/><rect x="42.5" y="137" width="48.0" height="1" fill="#fff" opacity="0.0395"/><rect x="26.3" y="137" width="76.9" height="1" fill="url(#g0)" opacity="0.1"/><rect x="46.8" y="137" width="35.0" height="1" fill="url(#g0)" opacity="0.397"/><rect x="42.5" y="138" width="48.0" height="1" fill="#fff" opacity="0.01"/><rect x="28.5" y="138" width="72.4" height="1" fill="url(#g0)" opacity="0.092"/><rect x="49.0" y="138" width="32.9" height="1" fill="url(#g0)" opacity="0.432"/><rect x="42.5" y="139" width="48.0" height="1" fill="#fff" opacity="0.0408"/><rect x="20.3" y="139" width="88.8" height="1" fill="url(#g0)" opacity="0.071"/><rect x="44.3" y="139" width="40.4" height="1" fill="url(#g0)" opacity="0.407"/><rect x="42.5" y="140" width="48.0" height="1" fill="#fff" opacity="0.03"/><rect x="29.9" y="140" width="69.5" height="1" fill="url(#g0)" opacity="0.067"/><rect x="49.4" y="140" width="31.6" height="1" fill="url(#g0)" opacity="0.462"/><rect x="42.5" y="141" width="48.0" height="1" fill="#fff" opacity="0.0221"/><rect x="21.9" y="141" width="85.5" height="1" fill="url(#g0)" opacity="0.065"/><rect x="44.9" y="141" width="38.9" height="1" fill="url(#g0)" opacity="0.468"/><rect x="42.5" y="142" width="48.0" height="1" fill="#fff" opacity="0.0127"/><rect x="20.8" y="142" width="87.8" height="1" fill="url(#g0)" opacity="0.072"/><rect x="44.5" y="142" width="39.9" height="1" fill="url(#g0)" opacity="0.393"/><rect x="42.5" y="143" width="48.0" height="1" fill="#fff" opacity="0.0121"/><rect x="31.1" y="143" width="67.1" height="1" fill="url(#g0)" opacity="0.079"/><rect x="48.7" y="143" width="30.5" height="1" fill="url(#g0)" opacity="0.366"/><rect x="42.5" y="144" width="48.0" height="1" fill="#fff" opacity="0.0192"/><rect x="30.6" y="144" width="68.2" height="1" fill="url(#g0)" opacity="0.069"/><rect x="49.1" y="144" width="31.0" height="1" fill="url(#g0)" opacity="0.401"/><rect x="42.5" y="145" width="48.0" height="1" fill="#fff" opacity="0.0309"/><rect x="24.1" y="145" width="81.3" height="1" fill="url(#g0)" opacity="0.093"/><rect x="46.8" y="145" width="36.9" height="1" fill="url(#g0)" opacity="0.384"/><rect x="42.5" y="146" width="48.0" height="1" fill="#fff" opacity="0.0172"/><rect x="23.4" y="146" width="82.6" height="1" fill="url(#g0)" opacity="0.054"/><rect x="46.3" y="146" width="37.6" height="1" fill="url(#g0)" opacity="0.392"/><rect x="42.5" y="147" width="48.0" height="1" fill="#fff" opacity="0.013"/><rect x="29.2" y="147" width="71.1" height="1" fill="url(#g0)" opacity="0.065"/><rect x="48.8" y="147" width="32.3" height="1" fill="url(#g0)" opacity="0.389"/><rect x="42.5" y="148" width="48.0" height="1" fill="#fff" opacity="0.0122"/><rect x="24.8" y="148" width="79.8" height="1" fill="url(#g0)" opacity="0.058"/><rect x="46.0" y="148" width="36.3" height="1" fill="url(#g0)" opacity="0.311"/><rect x="42.5" y="149" width="48.0" height="1" fill="#fff" opacity="0.0143"/><rect x="32.5" y="149" width="64.3" height="1" fill="url(#g0)" opacity="0.054"/><rect x="49.9" y="149" width="29.2" height="1" fill="url(#g0)" opacity="0.328"/><rect x="42.5" y="150" width="48.0" height="1" fill="#fff" opacity="0.00799"/><rect x="29.0" y="150" width="71.5" height="1" fill="url(#g0)" opacity="0.052"/><rect x="47.9" y="150" width="32.5" height="1" fill="url(#g0)" opacity="0.345"/><rect x="42.5" y="151" width="48.0" height="1" fill="#fff" opacity="0.0271"/><rect x="27.3" y="151" width="74.8" height="1" fill="url(#g0)" opacity="0.058"/><rect x="47.8" y="151" width="34.0" height="1" fill="url(#g0)" opacity="0.291"/><rect x="42.5" y="152" width="48.0" height="1" fill="#fff" opacity="0.0193"/><rect x="29.5" y="152" width="70.4" height="1" fill="url(#g0)" opacity="0.049"/><rect x="48.1" y="152" width="32.0" height="1" fill="url(#g0)" opacity="0.306"/><rect x="42.5" y="153" width="48.0" height="1" fill="#fff" opacity="0.00623"/><rect x="34.3" y="153" width="60.9" height="1" fill="url(#g0)" opacity="0.051"/><rect x="50.6" y="153" width="27.7" height="1" fill="url(#g0)" opacity="0.283"/><rect x="36.1" y="154" width="57.2" height="1" fill="url(#g0)" opacity="0.061"/><rect x="52.1" y="154" width="26.0" height="1" fill="url(#g0)" opacity="0.335"/><rect x="42.5" y="155" width="48.0" height="1" fill="#fff" opacity="0.0162"/><rect x="33.5" y="155" width="62.5" height="1" fill="url(#g0)" opacity="0.066"/><rect x="50.1" y="155" width="28.4" height="1" fill="url(#g0)" opacity="0.279"/><rect x="42.5" y="156" width="48.0" height="1" fill="#fff" opacity="0.012"/><rect x="33.4" y="156" width="62.6" height="1" fill="url(#g0)" opacity="0.057"/><rect x="49.9" y="156" width="28.4" height="1" fill="url(#g0)" opacity="0.288"/><rect x="42.5" y="157" width="48.0" height="1" fill="#fff" opacity="0.00898"/><rect x="31.2" y="157" width="67.0" height="1" fill="url(#g0)" opacity="0.072"/><rect x="48.8" y="157" width="30.4" height="1" fill="url(#g0)" opacity="0.284"/><rect x="42.5" y="158" width="48.0" height="1" fill="#fff" opacity="0.0148"/><rect x="33.6" y="158" width="62.2" height="1" fill="url(#g0)" opacity="0.065"/><rect x="51.3" y="158" width="28.3" height="1" fill="url(#g0)" opacity="0.256"/><rect x="39.5" y="159" width="50.3" height="1" fill="url(#g0)" opacity="0.068"/><rect x="53.1" y="159" width="22.9" height="1" fill="url(#g0)" opacity="0.295"/><rect x="42.5" y="160" width="48.0" height="1" fill="#fff" opacity="0.0179"/><rect x="31.7" y="160" width="66.1" height="1" fill="url(#g0)" opacity="0.053"/><rect x="48.9" y="160" width="30.0" height="1" fill="url(#g0)" opacity="0.283"/><rect x="42.5" y="161" width="48.0" height="1" fill="#fff" opacity="0.0173"/><rect x="33.4" y="161" width="62.7" height="1" fill="url(#g0)" opacity="0.048"/><rect x="51.2" y="161" width="28.5" height="1" fill="url(#g0)" opacity="0.288"/><rect x="42.5" y="162" width="48.0" height="1" fill="#fff" opacity="0.00453"/><rect x="39.5" y="162" width="50.4" height="1" fill="url(#g0)" opacity="0.052"/><rect x="53.9" y="162" width="22.9" height="1" fill="url(#g0)" opacity="0.224"/><rect x="42.5" y="163" width="48.0" height="1" fill="#fff" opacity="0.016"/><rect x="34.8" y="163" width="59.8" height="1" fill="url(#g0)" opacity="0.059"/><rect x="50.4" y="163" width="27.2" height="1" fill="url(#g0)" opacity="0.243"/><rect x="40.5" y="164" width="48.5" height="1" fill="url(#g0)" opacity="0.037"/><rect x="53.9" y="164" width="22.0" height="1" fill="url(#g0)" opacity="0.216"/><rect x="42.5" y="165" width="48.0" height="1" fill="#fff" opacity="0.0114"/><rect x="39.8" y="165" width="49.8" height="1" fill="url(#g0)" opacity="0.033"/><rect x="53.7" y="165" width="22.6" height="1" fill="url(#g0)" opacity="0.216"/><rect x="42.5" y="166" width="48.0" height="1" fill="#fff" opacity="0.00642"/><rect x="38.0" y="166" width="53.4" height="1" fill="url(#g0)" opacity="0.034"/><rect x="52.4" y="166" width="24.3" height="1" fill="url(#g0)" opacity="0.208"/><rect x="42.5" y="167" width="48.0" height="1" fill="#fff" opacity="0.00614"/><rect x="42.5" y="167" width="44.5" height="1" fill="url(#g0)" opacity="0.039"/><rect x="55.4" y="167" width="20.2" height="1" fill="url(#g0)" opacity="0.232"/><rect x="42.5" y="168" width="48.0" height="1" fill="#fff" opacity="0.00585"/><rect x="36.4" y="168" width="56.5" height="1" fill="url(#g0)" opacity="0.035"/><rect x="51.8" y="168" width="25.7" height="1" fill="url(#g0)" opacity="0.211"/><rect x="42.5" y="169" width="48.0" height="1" fill="#fff" opacity="0.00557"/><rect x="36.0" y="169" width="57.5" height="1" fill="url(#g0)" opacity="0.032"/><rect x="50.9" y="169" width="26.1" height="1" fill="url(#g0)" opacity="0.202"/><rect x="38.8" y="170" width="51.9" height="1" fill="url(#g0)" opacity="0.049"/><rect x="52.5" y="170" width="23.6" height="1" fill="url(#g0)" opacity="0.222"/><rect x="42.3" y="171" width="44.8" height="1" fill="url(#g0)" opacity="0.049"/><rect x="54.8" y="171" width="20.4" height="1" fill="url(#g0)" opacity="0.217"/><rect x="42.5" y="171" width="48.0" height="1" fill="#fff" opacity="0.048"/><rect x="7.1" y="171" width="115.1" height="1" fill="url(#g0)" opacity="0.12"/><rect x="39.0" y="171" width="52.3" height="1" fill="url(#g0)" opacity="0.56"/><rect x="42.5" y="172" width="48.0" height="1" fill="#fff" opacity="0.0693"/><rect x="16.7" y="172" width="96.0" height="1" fill="url(#g0)" opacity="0.11"/><rect x="42.6" y="172" width="43.6" height="1" fill="url(#g0)" opacity="0.471"/><rect x="42.5" y="173" width="48.0" height="1" fill="#fff" opacity="0.0544"/><rect x="19.7" y="173" width="90.1" height="1" fill="url(#g0)" opacity="0.09"/><rect x="43.6" y="173" width="40.9" height="1" fill="url(#g0)" opacity="0.409"/><rect x="42.5" y="174" width="48.0" height="1" fill="#fff" opacity="0.087"/><rect x="13.6" y="174" width="102.2" height="1" fill="url(#g0)" opacity="0.094"/><rect x="41.4" y="174" width="46.4" height="1" fill="url(#g0)" opacity="0.398"/><rect x="42.5" y="175" width="48.0" height="1" fill="#fff" opacity="0.0424"/><rect x="27.0" y="175" width="75.4" height="1" fill="url(#g0)" opacity="0.061"/><rect x="46.8" y="175" width="34.3" height="1" fill="url(#g0)" opacity="0.445"/><rect x="42.5" y="176" width="48.0" height="1" fill="#fff" opacity="0.00889"/><rect x="25.4" y="176" width="78.5" height="1" fill="url(#g0)" opacity="0.072"/><rect x="46.3" y="176" width="35.7" height="1" fill="url(#g0)" opacity="0.39"/><rect x="42.5" y="177" width="48.0" height="1" fill="#fff" opacity="0.0117"/><rect x="28.4" y="177" width="72.5" height="1" fill="url(#g0)" opacity="0.092"/><rect x="49.0" y="177" width="33.0" height="1" fill="url(#g0)" opacity="0.363"/><rect x="42.5" y="178" width="48.0" height="1" fill="#fff" opacity="0.0371"/><rect x="31.6" y="178" width="66.1" height="1" fill="url(#g0)" opacity="0.069"/><rect x="48.9" y="178" width="30.1" height="1" fill="url(#g0)" opacity="0.295"/><rect x="42.5" y="179" width="48.0" height="1" fill="#fff" opacity="0.0184"/><rect x="31.4" y="179" width="66.6" height="1" fill="url(#g0)" opacity="0.046"/><rect x="49.5" y="179" width="30.3" height="1" fill="url(#g0)" opacity="0.307"/><rect x="42.5" y="180" width="48.0" height="1" fill="#fff" opacity="0.0195"/><rect x="36.1" y="180" width="57.2" height="1" fill="url(#g0)" opacity="0.04"/><rect x="52.4" y="180" width="26.0" height="1" fill="url(#g0)" opacity="0.261"/><rect x="42.5" y="181" width="48.0" height="1" fill="#fff" opacity="0.0125"/><rect x="36.3" y="181" width="56.8" height="1" fill="url(#g0)" opacity="0.053"/><rect x="52.2" y="181" width="25.8" height="1" fill="url(#g0)" opacity="0.31"/><rect x="42.5" y="182" width="48.0" height="1" fill="#fff" opacity="0.0195"/><rect x="38.4" y="182" width="52.6" height="1" fill="url(#g0)" opacity="0.056"/><rect x="52.3" y="182" width="23.9" height="1" fill="url(#g0)" opacity="0.269"/><rect x="42.5" y="183" width="48.0" height="1" fill="#fff" opacity="0.0177"/><rect x="37.4" y="183" width="54.7" height="1" fill="url(#g0)" opacity="0.045"/><rect x="51.5" y="183" width="24.9" height="1" fill="url(#g0)" opacity="0.232"/><rect x="34.8" y="184" width="59.9" height="1" fill="url(#g0)" opacity="0.048"/><rect x="50.9" y="184" width="27.2" height="1" fill="url(#g0)" opacity="0.248"/><rect x="42.5" y="185" width="48.0" height="1" fill="#fff" opacity="0.00649"/><rect x="41.6" y="185" width="46.2" height="1" fill="url(#g0)" opacity="0.056"/><rect x="54.6" y="185" width="21.0" height="1" fill="url(#g0)" opacity="0.218"/><rect x="41.0" y="186" width="47.4" height="1" fill="url(#g0)" opacity="0.042"/><rect x="53.5" y="186" width="21.6" height="1" fill="url(#g0)" opacity="0.185"/><rect x="41.9" y="187" width="45.6" height="1" fill="url(#g0)" opacity="0.037"/><rect x="54.7" y="187" width="20.7" height="1" fill="url(#g0)" opacity="0.173"/><rect x="42.5" y="187" width="48.0" height="1" fill="#fff" opacity="0.069"/><rect x="-1.9" y="187" width="133.2" height="1" fill="url(#g0)" opacity="0.1"/><rect x="33.7" y="187" width="60.6" height="1" fill="url(#g0)" opacity="0.67"/><rect x="42.5" y="188" width="48.0" height="1" fill="#fff" opacity="0.117"/><rect x="5.0" y="188" width="119.4" height="1" fill="url(#g0)" opacity="0.12"/><rect x="38.0" y="188" width="54.3" height="1" fill="url(#g0)" opacity="0.461"/><rect x="42.5" y="189" width="48.0" height="1" fill="#fff" opacity="0.12"/><rect x="20.9" y="189" width="87.5" height="1" fill="url(#g0)" opacity="0.12"/><rect x="44.3" y="189" width="39.8" height="1" fill="url(#g0)" opacity="0.474"/><rect x="42.5" y="190" width="48.0" height="1" fill="#fff" opacity="0.0324"/><rect x="14.4" y="190" width="100.6" height="1" fill="url(#g0)" opacity="0.083"/><rect x="42.0" y="190" width="45.7" height="1" fill="url(#g0)" opacity="0.485"/><rect x="42.5" y="191" width="48.0" height="1" fill="#fff" opacity="0.0158"/><rect x="23.9" y="191" width="81.6" height="1" fill="url(#g0)" opacity="0.072"/><rect x="46.2" y="191" width="37.1" height="1" fill="url(#g0)" opacity="0.403"/><rect x="42.5" y="192" width="48.0" height="1" fill="#fff" opacity="0.00908"/><rect x="25.2" y="192" width="79.0" height="1" fill="url(#g0)" opacity="0.072"/><rect x="46.7" y="192" width="35.9" height="1" fill="url(#g0)" opacity="0.363"/><rect x="42.5" y="193" width="48.0" height="1" fill="#fff" opacity="0.0121"/><rect x="26.7" y="193" width="75.9" height="1" fill="url(#g0)" opacity="0.058"/><rect x="48.2" y="193" width="34.5" height="1" fill="url(#g0)" opacity="0.349"/><rect x="42.5" y="194" width="48.0" height="1" fill="#fff" opacity="0.0387"/><rect x="32.2" y="194" width="65.1" height="1" fill="url(#g0)" opacity="0.08"/><rect x="50.7" y="194" width="29.6" height="1" fill="url(#g0)" opacity="0.283"/><rect x="42.5" y="195" width="48.0" height="1" fill="#fff" opacity="0.0331"/><rect x="33.3" y="195" width="62.7" height="1" fill="url(#g0)" opacity="0.067"/><rect x="50.6" y="195" width="28.5" height="1" fill="url(#g0)" opacity="0.285"/><rect x="42.5" y="196" width="48.0" height="1" fill="#fff" opacity="0.0075"/><rect x="27.8" y="196" width="73.8" height="1" fill="url(#g0)" opacity="0.057"/><rect x="48.4" y="196" width="33.6" height="1" fill="url(#g0)" opacity="0.343"/><rect x="42.5" y="197" width="48.0" height="1" fill="#fff" opacity="0.00999"/><rect x="35.2" y="197" width="58.9" height="1" fill="url(#g0)" opacity="0.045"/><rect x="51.7" y="197" width="26.8" height="1" fill="url(#g0)" opacity="0.284"/><rect x="42.5" y="198" width="48.0" height="1" fill="#fff" opacity="0.00739"/><rect x="36.5" y="198" width="56.5" height="1" fill="url(#g0)" opacity="0.064"/><rect x="51.5" y="198" width="25.7" height="1" fill="url(#g0)" opacity="0.25"/><rect x="42.5" y="199" width="48.0" height="1" fill="#fff" opacity="0.0085"/><rect x="39.1" y="199" width="51.3" height="1" fill="url(#g0)" opacity="0.048"/><rect x="53.8" y="199" width="23.3" height="1" fill="url(#g0)" opacity="0.24"/><rect x="42.5" y="200" width="48.0" height="1" fill="#fff" opacity="0.0171"/><rect x="33.7" y="200" width="62.1" height="1" fill="url(#g0)" opacity="0.035"/><rect x="51.4" y="200" width="28.2" height="1" fill="url(#g0)" opacity="0.23"/><rect x="42.5" y="201" width="48.0" height="1" fill="#fff" opacity="0.0154"/><rect x="34.7" y="201" width="59.9" height="1" fill="url(#g0)" opacity="0.033"/><rect x="51.7" y="201" width="27.2" height="1" fill="url(#g0)" opacity="0.232"/><rect x="42.5" y="202" width="48.0" height="1" fill="#fff" opacity="0.00626"/><rect x="41.4" y="202" width="46.5" height="1" fill="url(#g0)" opacity="0.049"/><rect x="54.3" y="202" width="21.1" height="1" fill="url(#g0)" opacity="0.196"/><rect x="42.5" y="203" width="48.0" height="1" fill="#fff" opacity="0.00442"/><rect x="42.7" y="203" width="43.9" height="1" fill="url(#g0)" opacity="0.032"/><rect x="54.6" y="203" width="20.0" height="1" fill="url(#g0)" opacity="0.189"/><rect x="37.0" y="204" width="55.4" height="1" fill="url(#g0)" opacity="0.046"/><rect x="52.3" y="204" width="25.2" height="1" fill="url(#g0)" opacity="0.2"/></g></g><g clip-path="url(#cb1)"><g filter="url(#reds)"><rect x="95.7" y="30.3" width="52.6" height="175.9" fill="#000"/><rect x="97.7" y="32" width="48.6" height="1" fill="#fff" opacity="0.114"/><rect x="55.9" y="32" width="130.1" height="1" fill="url(#g0)" opacity="0.092"/><rect x="90.9" y="32" width="59.1" height="1" fill="url(#g0)" opacity="0.574"/><rect x="97.7" y="33" width="48.6" height="1" fill="#fff" opacity="0.0771"/><rect x="45.0" y="33" width="151.9" height="1" fill="url(#g0)" opacity="0.13"/><rect x="87.0" y="33" width="69.1" height="1" fill="url(#g0)" opacity="0.537"/><rect x="97.7" y="34" width="48.6" height="1" fill="#fff" opacity="0.0663"/><rect x="51.8" y="34" width="138.5" height="1" fill="url(#g0)" opacity="0.078"/><rect x="88.9" y="34" width="62.9" height="1" fill="url(#g0)" opacity="0.578"/><rect x="97.7" y="35" width="48.6" height="1" fill="#fff" opacity="0.0945"/><rect x="51.1" y="35" width="139.8" height="1" fill="url(#g0)" opacity="0.1"/><rect x="88.6" y="35" width="63.5" height="1" fill="url(#g0)" opacity="0.551"/><rect x="97.7" y="36" width="48.6" height="1" fill="#fff" opacity="0.0295"/><rect x="49.4" y="36" width="143.1" height="1" fill="url(#g0)" opacity="0.1"/><rect x="88.7" y="36" width="65.1" height="1" fill="url(#g0)" opacity="0.578"/><rect x="97.7" y="37" width="48.6" height="1" fill="#fff" opacity="0.0472"/><rect x="43.7" y="37" width="154.7" height="1" fill="url(#g0)" opacity="0.072"/><rect x="85.7" y="37" width="70.3" height="1" fill="url(#g0)" opacity="0.527"/><rect x="97.7" y="38" width="48.6" height="1" fill="#fff" opacity="0.0771"/><rect x="47.2" y="38" width="147.7" height="1" fill="url(#g0)" opacity="0.13"/><rect x="87.3" y="38" width="67.1" height="1" fill="url(#g0)" opacity="0.557"/><rect x="97.7" y="39" width="48.6" height="1" fill="#fff" opacity="0.0435"/><rect x="58.7" y="39" width="124.6" height="1" fill="url(#g0)" opacity="0.11"/><rect x="92.5" y="39" width="56.7" height="1" fill="url(#g0)" opacity="0.619"/><rect x="97.7" y="40" width="48.6" height="1" fill="#fff" opacity="0.0333"/><rect x="58.5" y="40" width="125.0" height="1" fill="url(#g0)" opacity="0.13"/><rect x="92.5" y="40" width="56.8" height="1" fill="url(#g0)" opacity="0.593"/><rect x="97.7" y="41" width="48.6" height="1" fill="#fff" opacity="0.0873"/><rect x="51.3" y="41" width="139.3" height="1" fill="url(#g0)" opacity="0.076"/><rect x="89.8" y="41" width="63.3" height="1" fill="url(#g0)" opacity="0.495"/><rect x="97.7" y="42" width="48.6" height="1" fill="#fff" opacity="0.0643"/><rect x="66.3" y="42" width="109.4" height="1" fill="url(#g0)" opacity="0.094"/><rect x="95.5" y="42" width="49.7" height="1" fill="url(#g0)" opacity="0.43"/><rect x="97.7" y="43" width="48.6" height="1" fill="#fff" opacity="0.0287"/><rect x="60.9" y="43" width="120.2" height="1" fill="url(#g0)" opacity="0.075"/><rect x="93.4" y="43" width="54.6" height="1" fill="url(#g0)" opacity="0.504"/><rect x="97.7" y="44" width="48.6" height="1" fill="#fff" opacity="0.0579"/><rect x="69.9" y="44" width="102.3" height="1" fill="url(#g0)" opacity="0.1"/><rect x="97.7" y="44" width="46.5" height="1" fill="url(#g0)" opacity="0.431"/><rect x="97.7" y="45" width="48.6" height="1" fill="#fff" opacity="0.0257"/><rect x="68.7" y="45" width="104.6" height="1" fill="url(#g0)" opacity="0.077"/><rect x="97.8" y="45" width="47.5" height="1" fill="url(#g0)" opacity="0.58"/><rect x="97.7" y="46" width="48.6" height="1" fill="#fff" opacity="0.0515"/><rect x="67.8" y="46" width="106.3" height="1" fill="url(#g0)" opacity="0.12"/><rect x="96.2" y="46" width="48.3" height="1" fill="url(#g0)" opacity="0.531"/><rect x="97.7" y="47" width="48.6" height="1" fill="#fff" opacity="0.0284"/><rect x="59.5" y="47" width="123.0" height="1" fill="url(#g0)" opacity="0.1"/><rect x="93.2" y="47" width="55.9" height="1" fill="url(#g0)" opacity="0.505"/><rect x="97.7" y="48" width="48.6" height="1" fill="#fff" opacity="0.0265"/><rect x="67.6" y="48" width="106.7" height="1" fill="url(#g0)" opacity="0.11"/><rect x="96.0" y="48" width="48.5" height="1" fill="url(#g0)" opacity="0.421"/><rect x="97.7" y="49" width="48.6" height="1" fill="#fff" opacity="0.0197"/><rect x="70.7" y="49" width="100.7" height="1" fill="url(#g0)" opacity="0.094"/><rect x="97.7" y="49" width="45.8" height="1" fill="url(#g0)" opacity="0.42"/><rect x="97.7" y="50" width="48.6" height="1" fill="#fff" opacity="0.0091"/><rect x="76.7" y="50" width="88.5" height="1" fill="url(#g0)" opacity="0.087"/><rect x="101.2" y="50" width="40.2" height="1" fill="url(#g0)" opacity="0.528"/><rect x="97.7" y="51" width="48.6" height="1" fill="#fff" opacity="0.0218"/><rect x="71.1" y="51" width="99.8" height="1" fill="url(#g0)" opacity="0.076"/><rect x="98.6" y="51" width="45.4" height="1" fill="url(#g0)" opacity="0.451"/><rect x="97.7" y="52" width="48.6" height="1" fill="#fff" opacity="0.0279"/><rect x="72.5" y="52" width="96.9" height="1" fill="url(#g0)" opacity="0.079"/><rect x="98.9" y="52" width="44.1" height="1" fill="url(#g0)" opacity="0.423"/><rect x="97.7" y="53" width="48.6" height="1" fill="#fff" opacity="0.0463"/><rect x="69.5" y="53" width="103.0" height="1" fill="url(#g0)" opacity="0.074"/><rect x="97.5" y="53" width="46.8" height="1" fill="url(#g0)" opacity="0.38"/><rect x="97.7" y="54" width="48.6" height="1" fill="#fff" opacity="0.0166"/><rect x="67.0" y="54" width="108.0" height="1" fill="url(#g0)" opacity="0.084"/><rect x="96.9" y="54" width="49.1" height="1" fill="url(#g0)" opacity="0.472"/><rect x="97.7" y="55" width="48.6" height="1" fill="#fff" opacity="0.0265"/><rect x="74.2" y="55" width="93.6" height="1" fill="url(#g0)" opacity="0.074"/><rect x="99.1" y="55" width="42.5" height="1" fill="url(#g0)" opacity="0.393"/><rect x="97.7" y="56" width="48.6" height="1" fill="#fff" opacity="0.016"/><rect x="79.2" y="56" width="83.5" height="1" fill="url(#g0)" opacity="0.098"/><rect x="101.3" y="56" width="38.0" height="1" fill="url(#g0)" opacity="0.442"/><rect x="97.7" y="57" width="48.6" height="1" fill="#fff" opacity="0.00785"/><rect x="72.8" y="57" width="96.4" height="1" fill="url(#g0)" opacity="0.11"/><rect x="99.5" y="57" width="43.8" height="1" fill="url(#g0)" opacity="0.472"/><rect x="97.7" y="58" width="48.6" height="1" fill="#fff" opacity="0.00771"/><rect x="69.4" y="58" width="103.3" height="1" fill="url(#g0)" opacity="0.11"/><rect x="98.1" y="58" width="46.9" height="1" fill="url(#g0)" opacity="0.45"/><rect x="97.7" y="59" width="48.6" height="1" fill="#fff" opacity="0.0189"/><rect x="69.4" y="59" width="103.2" height="1" fill="url(#g0)" opacity="0.11"/><rect x="96.9" y="59" width="46.9" height="1" fill="url(#g0)" opacity="0.454"/><rect x="97.7" y="60" width="48.6" height="1" fill="#fff" opacity="0.0148"/><rect x="69.9" y="60" width="102.2" height="1" fill="url(#g0)" opacity="0.09"/><rect x="98.1" y="60" width="46.4" height="1" fill="url(#g0)" opacity="0.405"/><rect x="97.7" y="61" width="48.6" height="1" fill="#fff" opacity="0.0182"/><rect x="70.1" y="61" width="101.9" height="1" fill="url(#g0)" opacity="0.096"/><rect x="97.3" y="61" width="46.3" height="1" fill="url(#g0)" opacity="0.387"/><rect x="97.7" y="62" width="48.6" height="1" fill="#fff" opacity="0.0143"/><rect x="70.8" y="62" width="100.4" height="1" fill="url(#g0)" opacity="0.1"/><rect x="97.8" y="62" width="45.7" height="1" fill="url(#g0)" opacity="0.391"/><rect x="97.7" y="63" width="48.6" height="1" fill="#fff" opacity="0.0175"/><rect x="74.3" y="63" width="93.4" height="1" fill="url(#g0)" opacity="0.059"/><rect x="99.5" y="63" width="42.5" height="1" fill="url(#g0)" opacity="0.439"/><rect x="97.7" y="64" width="48.6" height="1" fill="#fff" opacity="0.0171"/><rect x="80.5" y="64" width="80.9" height="1" fill="url(#g0)" opacity="0.093"/><rect x="102.9" y="64" width="36.8" height="1" fill="url(#g0)" opacity="0.376"/><rect x="97.7" y="65" width="48.6" height="1" fill="#fff" opacity="0.0101"/><rect x="72.6" y="65" width="96.8" height="1" fill="url(#g0)" opacity="0.054"/><rect x="99.4" y="65" width="44.0" height="1" fill="url(#g0)" opacity="0.401"/><rect x="97.7" y="66" width="48.6" height="1" fill="#fff" opacity="0.0361"/><rect x="70.6" y="66" width="100.7" height="1" fill="url(#g0)" opacity="0.092"/><rect x="98.2" y="66" width="45.8" height="1" fill="url(#g0)" opacity="0.448"/><rect x="97.7" y="67" width="48.6" height="1" fill="#fff" opacity="0.0273"/><rect x="82.4" y="67" width="77.1" height="1" fill="url(#g0)" opacity="0.081"/><rect x="103.9" y="67" width="35.1" height="1" fill="url(#g0)" opacity="0.46"/><rect x="97.7" y="68" width="48.6" height="1" fill="#fff" opacity="0.0126"/><rect x="79.4" y="68" width="83.2" height="1" fill="url(#g0)" opacity="0.09"/><rect x="101.9" y="68" width="37.8" height="1" fill="url(#g0)" opacity="0.394"/><rect x="97.7" y="69" width="48.6" height="1" fill="#fff" opacity="0.00613"/><rect x="82.3" y="69" width="77.5" height="1" fill="url(#g0)" opacity="0.079"/><rect x="103.1" y="69" width="35.2" height="1" fill="url(#g0)" opacity="0.411"/><rect x="97.7" y="70" width="48.6" height="1" fill="#fff" opacity="0.0195"/><rect x="72.6" y="70" width="96.8" height="1" fill="url(#g0)" opacity="0.086"/><rect x="99.4" y="70" width="44.0" height="1" fill="url(#g0)" opacity="0.378"/><rect x="97.7" y="71" width="48.6" height="1" fill="#fff" opacity="0.0248"/><rect x="81.6" y="71" width="78.8" height="1" fill="url(#g0)" opacity="0.067"/><rect x="103.0" y="71" width="35.8" height="1" fill="url(#g0)" opacity="0.373"/><rect x="97.7" y="72" width="48.6" height="1" fill="#fff" opacity="0.0057"/><rect x="79.5" y="72" width="83.0" height="1" fill="url(#g0)" opacity="0.049"/><rect x="101.4" y="72" width="37.7" height="1" fill="url(#g0)" opacity="0.374"/><rect x="97.7" y="73" width="48.6" height="1" fill="#fff" opacity="0.0181"/><rect x="84.7" y="73" width="72.7" height="1" fill="url(#g0)" opacity="0.071"/><rect x="104.5" y="73" width="33.0" height="1" fill="url(#g0)" opacity="0.386"/><rect x="97.7" y="74" width="48.6" height="1" fill="#fff" opacity="0.0176"/><rect x="84.7" y="74" width="72.6" height="1" fill="url(#g0)" opacity="0.072"/><rect x="104.7" y="74" width="33.0" height="1" fill="url(#g0)" opacity="0.376"/><rect x="97.7" y="75" width="48.6" height="1" fill="#fff" opacity="0.0132"/><rect x="75.4" y="75" width="91.3" height="1" fill="url(#g0)" opacity="0.068"/><rect x="100.6" y="75" width="41.5" height="1" fill="url(#g0)" opacity="0.359"/><rect x="97.7" y="76" width="48.6" height="1" fill="#fff" opacity="0.0128"/><rect x="85.3" y="76" width="71.3" height="1" fill="url(#g0)" opacity="0.058"/><rect x="104.6" y="76" width="32.4" height="1" fill="url(#g0)" opacity="0.354"/><rect x="97.7" y="77" width="48.6" height="1" fill="#fff" opacity="0.0162"/><rect x="79.8" y="77" width="82.4" height="1" fill="url(#g0)" opacity="0.07"/><rect x="102.4" y="77" width="37.5" height="1" fill="url(#g0)" opacity="0.335"/><rect x="97.7" y="78" width="48.6" height="1" fill="#fff" opacity="0.0266"/><rect x="81.7" y="78" width="78.5" height="1" fill="url(#g0)" opacity="0.096"/><rect x="102.7" y="78" width="35.7" height="1" fill="url(#g0)" opacity="0.378"/><rect x="97.7" y="79" width="48.6" height="1" fill="#fff" opacity="0.0202"/><rect x="81.8" y="79" width="78.3" height="1" fill="url(#g0)" opacity="0.053"/><rect x="102.7" y="79" width="35.6" height="1" fill="url(#g0)" opacity="0.343"/><rect x="97.7" y="80" width="48.6" height="1" fill="#fff" opacity="0.0118"/><rect x="87.0" y="80" width="68.0" height="1" fill="url(#g0)" opacity="0.067"/><rect x="105.0" y="80" width="30.9" height="1" fill="url(#g0)" opacity="0.438"/><rect x="97.7" y="81" width="48.6" height="1" fill="#fff" opacity="0.0198"/><rect x="82.6" y="81" width="76.9" height="1" fill="url(#g0)" opacity="0.061"/><rect x="104.0" y="81" width="35.0" height="1" fill="url(#g0)" opacity="0.4"/><rect x="97.7" y="82" width="48.6" height="1" fill="#fff" opacity="0.00461"/><rect x="85.1" y="82" width="71.7" height="1" fill="url(#g0)" opacity="0.08"/><rect x="105.5" y="82" width="32.6" height="1" fill="url(#g0)" opacity="0.361"/><rect x="97.7" y="83" width="48.6" height="1" fill="#fff" opacity="0.0194"/><rect x="82.6" y="83" width="76.8" height="1" fill="url(#g0)" opacity="0.084"/><rect x="104.1" y="83" width="34.9" height="1" fill="url(#g0)" opacity="0.366"/><rect x="97.7" y="84" width="48.6" height="1" fill="#fff" opacity="0.0248"/><rect x="80.5" y="84" width="80.9" height="1" fill="url(#g0)" opacity="0.094"/><rect x="102.1" y="84" width="36.8" height="1" fill="url(#g0)" opacity="0.352"/><rect x="97.7" y="85" width="48.6" height="1" fill="#fff" opacity="0.00668"/><rect x="81.9" y="85" width="78.3" height="1" fill="url(#g0)" opacity="0.079"/><rect x="102.9" y="85" width="35.6" height="1" fill="url(#g0)" opacity="0.349"/><rect x="97.7" y="86" width="48.6" height="1" fill="#fff" opacity="0.0044"/><rect x="79.8" y="86" width="82.3" height="1" fill="url(#g0)" opacity="0.079"/><rect x="101.9" y="86" width="37.4" height="1" fill="url(#g0)" opacity="0.399"/><rect x="97.7" y="87" width="48.6" height="1" fill="#fff" opacity="0.0109"/><rect x="80.7" y="87" width="80.6" height="1" fill="url(#g0)" opacity="0.09"/><rect x="102.4" y="87" width="36.6" height="1" fill="url(#g0)" opacity="0.355"/><rect x="97.7" y="88" width="48.6" height="1" fill="#fff" opacity="0.0043"/><rect x="88.7" y="88" width="64.6" height="1" fill="url(#g0)" opacity="0.098"/><rect x="105.8" y="88" width="29.4" height="1" fill="url(#g0)" opacity="0.405"/><rect x="97.7" y="89" width="48.6" height="1" fill="#fff" opacity="0.0085"/><rect x="87.6" y="89" width="66.8" height="1" fill="url(#g0)" opacity="0.07"/><rect x="106.2" y="89" width="30.4" height="1" fill="url(#g0)" opacity="0.413"/><rect x="97.7" y="90" width="48.6" height="1" fill="#fff" opacity="0.0105"/><rect x="86.4" y="90" width="69.1" height="1" fill="url(#g0)" opacity="0.095"/><rect x="105.1" y="90" width="31.4" height="1" fill="url(#g0)" opacity="0.398"/><rect x="97.7" y="91" width="48.6" height="1" fill="#fff" opacity="0.0228"/><rect x="79.5" y="91" width="82.9" height="1" fill="url(#g0)" opacity="0.08"/><rect x="102.1" y="91" width="37.7" height="1" fill="url(#g0)" opacity="0.403"/><rect x="97.7" y="92" width="48.6" height="1" fill="#fff" opacity="0.0102"/><rect x="90.1" y="92" width="61.8" height="1" fill="url(#g0)" opacity="0.055"/><rect x="107.1" y="92" width="28.1" height="1" fill="url(#g0)" opacity="0.323"/><rect x="97.7" y="93" width="48.6" height="1" fill="#fff" opacity="0.00606"/><rect x="83.9" y="93" width="74.3" height="1" fill="url(#g0)" opacity="0.053"/><rect x="104.2" y="93" width="33.8" height="1" fill="url(#g0)" opacity="0.349"/><rect x="97.7" y="94" width="48.6" height="1" fill="#fff" opacity="0.00798"/><rect x="89.5" y="94" width="62.9" height="1" fill="url(#g0)" opacity="0.049"/><rect x="106.5" y="94" width="28.6" height="1" fill="url(#g0)" opacity="0.329"/><rect x="90.5" y="95" width="61.0" height="1" fill="url(#g0)" opacity="0.071"/><rect x="107.4" y="95" width="27.7" height="1" fill="url(#g0)" opacity="0.314"/><rect x="97.7" y="96" width="48.6" height="1" fill="#fff" opacity="0.0126"/><rect x="84.9" y="96" width="72.3" height="1" fill="url(#g0)" opacity="0.08"/><rect x="104.1" y="96" width="32.8" height="1" fill="url(#g0)" opacity="0.304"/><rect x="97.7" y="97" width="48.6" height="1" fill="#fff" opacity="0.0163"/><rect x="84.3" y="97" width="73.4" height="1" fill="url(#g0)" opacity="0.058"/><rect x="103.7" y="97" width="33.3" height="1" fill="url(#g0)" opacity="0.367"/><rect x="97.7" y="98" width="48.6" height="1" fill="#fff" opacity="0.00567"/><rect x="91.1" y="98" width="59.8" height="1" fill="url(#g0)" opacity="0.068"/><rect x="107.9" y="98" width="27.2" height="1" fill="url(#g0)" opacity="0.319"/><rect x="97.7" y="99" width="48.6" height="1" fill="#fff" opacity="0.0056"/><rect x="90.6" y="99" width="60.8" height="1" fill="url(#g0)" opacity="0.071"/><rect x="107.7" y="99" width="27.6" height="1" fill="url(#g0)" opacity="0.334"/><rect x="97.7" y="100" width="48.6" height="1" fill="#fff" opacity="0.0092"/><rect x="88.4" y="100" width="65.3" height="1" fill="url(#g0)" opacity="0.056"/><rect x="105.4" y="100" width="29.7" height="1" fill="url(#g0)" opacity="0.342"/><rect x="97.7" y="101" width="48.6" height="1" fill="#fff" opacity="0.0118"/><rect x="84.7" y="101" width="72.6" height="1" fill="url(#g0)" opacity="0.075"/><rect x="105.1" y="101" width="33.0" height="1" fill="url(#g0)" opacity="0.323"/><rect x="97.7" y="102" width="48.6" height="1" fill="#fff" opacity="0.00894"/><rect x="87.3" y="102" width="67.3" height="1" fill="url(#g0)" opacity="0.05"/><rect x="105.9" y="102" width="30.6" height="1" fill="url(#g0)" opacity="0.374"/><rect x="97.7" y="103" width="48.6" height="1" fill="#fff" opacity="0.00529"/><rect x="88.0" y="103" width="66.1" height="1" fill="url(#g0)" opacity="0.075"/><rect x="105.7" y="103" width="30.0" height="1" fill="url(#g0)" opacity="0.338"/><rect x="97.7" y="104" width="48.6" height="1" fill="#fff" opacity="0.00521"/><rect x="90.4" y="104" width="61.2" height="1" fill="url(#g0)" opacity="0.06"/><rect x="107.2" y="104" width="27.8" height="1" fill="url(#g0)" opacity="0.36"/><rect x="97.7" y="105" width="48.6" height="1" fill="#fff" opacity="0.00855"/><rect x="87.5" y="105" width="67.0" height="1" fill="url(#g0)" opacity="0.085"/><rect x="106.2" y="105" width="30.4" height="1" fill="url(#g0)" opacity="0.327"/><rect x="97.7" y="106" width="48.6" height="1" fill="#fff" opacity="0.0185"/><rect x="88.0" y="106" width="65.9" height="1" fill="url(#g0)" opacity="0.07"/><rect x="106.3" y="106" width="30.0" height="1" fill="url(#g0)" opacity="0.284"/><rect x="97.7" y="107" width="48.6" height="1" fill="#fff" opacity="0.0083"/><rect x="87.3" y="107" width="67.5" height="1" fill="url(#g0)" opacity="0.059"/><rect x="105.8" y="107" width="30.7" height="1" fill="url(#g0)" opacity="0.397"/><rect x="97.7" y="108" width="48.6" height="1" fill="#fff" opacity="0.00817"/><rect x="84.1" y="108" width="73.8" height="1" fill="url(#g0)" opacity="0.055"/><rect x="104.2" y="108" width="33.6" height="1" fill="url(#g0)" opacity="0.382"/><rect x="97.7" y="109" width="48.6" height="1" fill="#fff" opacity="0.00482"/><rect x="92.7" y="109" width="56.7" height="1" fill="url(#g0)" opacity="0.062"/><rect x="108.3" y="109" width="25.8" height="1" fill="url(#g0)" opacity="0.359"/><rect x="97.7" y="110" width="48.6" height="1" fill="#fff" opacity="0.00475"/><rect x="89.8" y="110" width="62.3" height="1" fill="url(#g0)" opacity="0.07"/><rect x="106.7" y="110" width="28.3" height="1" fill="url(#g0)" opacity="0.328"/><rect x="97.7" y="111" width="48.6" height="1" fill="#fff" opacity="0.0132"/><rect x="90.9" y="111" width="60.2" height="1" fill="url(#g0)" opacity="0.064"/><rect x="108.0" y="111" width="27.4" height="1" fill="url(#g0)" opacity="0.322"/><rect x="97.7" y="112" width="48.6" height="1" fill="#fff" opacity="0.00765"/><rect x="85.6" y="112" width="70.8" height="1" fill="url(#g0)" opacity="0.049"/><rect x="105.6" y="112" width="32.2" height="1" fill="url(#g0)" opacity="0.335"/><rect x="87.7" y="113" width="66.7" height="1" fill="url(#g0)" opacity="0.06"/><rect x="105.6" y="113" width="30.3" height="1" fill="url(#g0)" opacity="0.351"/><rect x="97.7" y="114" width="48.6" height="1" fill="#fff" opacity="0.00961"/><rect x="86.4" y="114" width="69.1" height="1" fill="url(#g0)" opacity="0.057"/><rect x="104.8" y="114" width="31.4" height="1" fill="url(#g0)" opacity="0.303"/><rect x="97.7" y="115" width="48.6" height="1" fill="#fff" opacity="0.00581"/><rect x="89.1" y="115" width="63.7" height="1" fill="url(#g0)" opacity="0.075"/><rect x="106.3" y="115" width="29.0" height="1" fill="url(#g0)" opacity="0.353"/><rect x="97.7" y="116" width="48.6" height="1" fill="#fff" opacity="0.00714"/><rect x="90.0" y="116" width="62.0" height="1" fill="url(#g0)" opacity="0.075"/><rect x="106.6" y="116" width="28.2" height="1" fill="url(#g0)" opacity="0.342"/><rect x="97.7" y="117" width="48.6" height="1" fill="#fff" opacity="0.00561"/><rect x="93.5" y="117" width="55.0" height="1" fill="url(#g0)" opacity="0.079"/><rect x="109.3" y="117" width="25.0" height="1" fill="url(#g0)" opacity="0.353"/><rect x="97.7" y="118" width="48.6" height="1" fill="#fff" opacity="0.00688"/><rect x="91.9" y="118" width="58.2" height="1" fill="url(#g0)" opacity="0.053"/><rect x="107.5" y="118" width="26.5" height="1" fill="url(#g0)" opacity="0.344"/><rect x="97.7" y="119" width="48.6" height="1" fill="#fff" opacity="0.00405"/><rect x="88.6" y="119" width="64.7" height="1" fill="url(#g0)" opacity="0.077"/><rect x="105.8" y="119" width="29.4" height="1" fill="url(#g0)" opacity="0.364"/><rect x="97.7" y="120" width="48.6" height="1" fill="#fff" opacity="0.0053"/><rect x="94.1" y="120" width="53.8" height="1" fill="url(#g0)" opacity="0.066"/><rect x="109.2" y="120" width="24.5" height="1" fill="url(#g0)" opacity="0.293"/><rect x="93.9" y="121" width="54.3" height="1" fill="url(#g0)" opacity="0.076"/><rect x="108.3" y="121" width="24.7" height="1" fill="url(#g0)" opacity="0.308"/><rect x="97.7" y="122" width="48.6" height="1" fill="#fff" opacity="0.0108"/><rect x="95.7" y="122" width="50.6" height="1" fill="url(#g0)" opacity="0.062"/><rect x="109.8" y="122" width="23.0" height="1" fill="url(#g0)" opacity="0.315"/><rect x="97.7" y="123" width="48.6" height="1" fill="#fff" opacity="0.00499"/><rect x="91.9" y="123" width="58.2" height="1" fill="url(#g0)" opacity="0.073"/><rect x="107.4" y="123" width="26.5" height="1" fill="url(#g0)" opacity="0.325"/><rect x="97.7" y="124" width="48.6" height="1" fill="#fff" opacity="0.0104"/><rect x="94.0" y="124" width="53.9" height="1" fill="url(#g0)" opacity="0.057"/><rect x="109.1" y="124" width="24.5" height="1" fill="url(#g0)" opacity="0.271"/><rect x="97.7" y="125" width="48.6" height="1" fill="#fff" opacity="0.006"/><rect x="88.9" y="125" width="64.1" height="1" fill="url(#g0)" opacity="0.069"/><rect x="106.7" y="125" width="29.1" height="1" fill="url(#g0)" opacity="0.325"/><rect x="97.7" y="125" width="48.6" height="1" fill="#fff" opacity="0.00869"/><rect x="69.5" y="125" width="102.9" height="1" fill="url(#g0)" opacity="0.053"/><rect x="98.2" y="125" width="46.8" height="1" fill="url(#g0)" opacity="0.327"/><rect x="97.7" y="126" width="48.6" height="1" fill="#fff" opacity="0.0116"/><rect x="63.0" y="126" width="116.0" height="1" fill="url(#g0)" opacity="0.059"/><rect x="94.2" y="126" width="52.7" height="1" fill="url(#g0)" opacity="0.315"/><rect x="97.7" y="127" width="48.6" height="1" fill="#fff" opacity="0.0246"/><rect x="64.5" y="127" width="113.0" height="1" fill="url(#g0)" opacity="0.069"/><rect x="95.3" y="127" width="51.4" height="1" fill="url(#g0)" opacity="0.305"/><rect x="97.7" y="127" width="48.6" height="1" fill="#fff" opacity="0.156"/><rect x="54.6" y="127" width="132.9" height="1" fill="url(#g0)" opacity="0.13"/><rect x="91.2" y="127" width="60.4" height="1" fill="url(#g0)" opacity="0.791"/><rect x="97.7" y="128" width="48.6" height="1" fill="#fff" opacity="0.0404"/><rect x="56.0" y="128" width="130.0" height="1" fill="url(#g0)" opacity="0.1"/><rect x="91.1" y="128" width="59.1" height="1" fill="url(#g0)" opacity="0.691"/><rect x="97.7" y="129" width="48.6" height="1" fill="#fff" opacity="0.0821"/><rect x="59.2" y="129" width="123.5" height="1" fill="url(#g0)" opacity="0.095"/><rect x="93.0" y="129" width="56.2" height="1" fill="url(#g0)" opacity="0.678"/><rect x="97.7" y="130" width="48.6" height="1" fill="#fff" opacity="0.15"/><rect x="68.0" y="130" width="106.0" height="1" fill="url(#g0)" opacity="0.12"/><rect x="96.9" y="130" width="48.2" height="1" fill="url(#g0)" opacity="0.566"/><rect x="97.7" y="131" width="48.6" height="1" fill="#fff" opacity="0.107"/><rect x="69.6" y="131" width="102.8" height="1" fill="url(#g0)" opacity="0.12"/><rect x="98.0" y="131" width="46.7" height="1" fill="url(#g0)" opacity="0.621"/><rect x="97.7" y="132" width="48.6" height="1" fill="#fff" opacity="0.0344"/><rect x="75.9" y="132" width="90.2" height="1" fill="url(#g0)" opacity="0.13"/><rect x="100.9" y="132" width="41.0" height="1" fill="url(#g0)" opacity="0.653"/><rect x="97.7" y="133" width="48.6" height="1" fill="#fff" opacity="0.0883"/><rect x="76.1" y="133" width="89.9" height="1" fill="url(#g0)" opacity="0.077"/><rect x="100.4" y="133" width="40.9" height="1" fill="url(#g0)" opacity="0.569"/><rect x="97.7" y="134" width="48.6" height="1" fill="#fff" opacity="0.0605"/><rect x="74.8" y="134" width="92.3" height="1" fill="url(#g0)" opacity="0.077"/><rect x="100.1" y="134" width="42.0" height="1" fill="url(#g0)" opacity="0.526"/><rect x="97.7" y="135" width="48.6" height="1" fill="#fff" opacity="0.0411"/><rect x="76.3" y="135" width="89.3" height="1" fill="url(#g0)" opacity="0.12"/><rect x="101.5" y="135" width="40.6" height="1" fill="url(#g0)" opacity="0.474"/><rect x="97.7" y="136" width="48.6" height="1" fill="#fff" opacity="0.0215"/><rect x="80.7" y="136" width="80.5" height="1" fill="url(#g0)" opacity="0.1"/><rect x="103.2" y="136" width="36.6" height="1" fill="url(#g0)" opacity="0.502"/><rect x="97.7" y="137" width="48.6" height="1" fill="#fff" opacity="0.0304"/><rect x="76.7" y="137" width="88.6" height="1" fill="url(#g0)" opacity="0.073"/><rect x="101.4" y="137" width="40.3" height="1" fill="url(#g0)" opacity="0.497"/><rect x="97.7" y="138" width="48.6" height="1" fill="#fff" opacity="0.0425"/><rect x="74.6" y="138" width="92.9" height="1" fill="url(#g0)" opacity="0.083"/><rect x="99.8" y="138" width="42.2" height="1" fill="url(#g0)" opacity="0.497"/><rect x="97.7" y="139" width="48.6" height="1" fill="#fff" opacity="0.0529"/><rect x="84.1" y="139" width="73.8" height="1" fill="url(#g0)" opacity="0.11"/><rect x="104.0" y="139" width="33.5" height="1" fill="url(#g0)" opacity="0.446"/><rect x="97.7" y="140" width="48.6" height="1" fill="#fff" opacity="0.0231"/><rect x="81.6" y="140" width="78.7" height="1" fill="url(#g0)" opacity="0.092"/><rect x="103.9" y="140" width="35.8" height="1" fill="url(#g0)" opacity="0.422"/><rect x="97.7" y="141" width="48.6" height="1" fill="#fff" opacity="0.0221"/><rect x="77.1" y="141" width="87.7" height="1" fill="url(#g0)" opacity="0.094"/><rect x="100.8" y="141" width="39.9" height="1" fill="url(#g0)" opacity="0.442"/><rect x="97.7" y="142" width="48.6" height="1" fill="#fff" opacity="0.0127"/><rect x="81.7" y="142" width="78.6" height="1" fill="url(#g0)" opacity="0.074"/><rect x="103.4" y="142" width="35.7" height="1" fill="url(#g0)" opacity="0.427"/><rect x="97.7" y="143" width="48.6" height="1" fill="#fff" opacity="0.00805"/><rect x="78.1" y="143" width="85.9" height="1" fill="url(#g0)" opacity="0.095"/><rect x="100.8" y="143" width="39.0" height="1" fill="url(#g0)" opacity="0.487"/><rect x="97.7" y="144" width="48.6" height="1" fill="#fff" opacity="0.0249"/><rect x="77.8" y="144" width="86.4" height="1" fill="url(#g0)" opacity="0.055"/><rect x="101.6" y="144" width="39.3" height="1" fill="url(#g0)" opacity="0.412"/><rect x="97.7" y="145" width="48.6" height="1" fill="#fff" opacity="0.0182"/><rect x="78.5" y="145" width="85.0" height="1" fill="url(#g0)" opacity="0.053"/><rect x="101.3" y="145" width="38.6" height="1" fill="url(#g0)" opacity="0.368"/><rect x="97.7" y="146" width="48.6" height="1" fill="#fff" opacity="0.0379"/><rect x="87.2" y="146" width="67.6" height="1" fill="url(#g0)" opacity="0.056"/><rect x="105.4" y="146" width="30.7" height="1" fill="url(#g0)" opacity="0.36"/><rect x="97.7" y="147" width="48.6" height="1" fill="#fff" opacity="0.013"/><rect x="81.8" y="147" width="78.4" height="1" fill="url(#g0)" opacity="0.093"/><rect x="103.3" y="147" width="35.7" height="1" fill="url(#g0)" opacity="0.435"/><rect x="97.7" y="148" width="48.6" height="1" fill="#fff" opacity="0.0153"/><rect x="90.0" y="148" width="62.1" height="1" fill="url(#g0)" opacity="0.093"/><rect x="106.4" y="148" width="28.2" height="1" fill="url(#g0)" opacity="0.43"/><rect x="97.7" y="149" width="48.6" height="1" fill="#fff" opacity="0.0314"/><rect x="83.8" y="149" width="74.4" height="1" fill="url(#g0)" opacity="0.057"/><rect x="104.4" y="149" width="33.8" height="1" fill="url(#g0)" opacity="0.38"/><rect x="97.7" y="150" width="48.6" height="1" fill="#fff" opacity="0.0106"/><rect x="87.8" y="150" width="66.4" height="1" fill="url(#g0)" opacity="0.067"/><rect x="105.9" y="150" width="30.2" height="1" fill="url(#g0)" opacity="0.33"/><rect x="97.7" y="151" width="48.6" height="1" fill="#fff" opacity="0.0271"/><rect x="83.6" y="151" width="74.8" height="1" fill="url(#g0)" opacity="0.056"/><rect x="103.6" y="151" width="34.0" height="1" fill="url(#g0)" opacity="0.357"/><rect x="97.7" y="152" width="48.6" height="1" fill="#fff" opacity="0.00909"/><rect x="86.1" y="152" width="69.9" height="1" fill="url(#g0)" opacity="0.069"/><rect x="105.7" y="152" width="31.8" height="1" fill="url(#g0)" opacity="0.362"/><rect x="97.7" y="153" width="48.6" height="1" fill="#fff" opacity="0.0229"/><rect x="87.5" y="153" width="67.1" height="1" fill="url(#g0)" opacity="0.064"/><rect x="105.6" y="153" width="30.5" height="1" fill="url(#g0)" opacity="0.341"/><rect x="97.7" y="154" width="48.6" height="1" fill="#fff" opacity="0.0128"/><rect x="93.6" y="154" width="54.9" height="1" fill="url(#g0)" opacity="0.052"/><rect x="108.8" y="154" width="24.9" height="1" fill="url(#g0)" opacity="0.387"/><rect x="97.7" y="155" width="48.6" height="1" fill="#fff" opacity="0.0124"/><rect x="88.3" y="155" width="65.4" height="1" fill="url(#g0)" opacity="0.05"/><rect x="106.6" y="155" width="29.7" height="1" fill="url(#g0)" opacity="0.346"/><rect x="97.7" y="156" width="48.6" height="1" fill="#fff" opacity="0.00741"/><rect x="88.0" y="156" width="65.9" height="1" fill="url(#g0)" opacity="0.071"/><rect x="105.3" y="156" width="30.0" height="1" fill="url(#g0)" opacity="0.314"/><rect x="97.7" y="157" width="48.6" height="1" fill="#fff" opacity="0.0117"/><rect x="92.3" y="157" width="57.5" height="1" fill="url(#g0)" opacity="0.074"/><rect x="107.7" y="157" width="26.1" height="1" fill="url(#g0)" opacity="0.314"/><rect x="97.7" y="158" width="48.6" height="1" fill="#fff" opacity="0.00869"/><rect x="87.5" y="158" width="66.9" height="1" fill="url(#g0)" opacity="0.058"/><rect x="105.7" y="158" width="30.4" height="1" fill="url(#g0)" opacity="0.312"/><rect x="97.7" y="159" width="48.6" height="1" fill="#fff" opacity="0.00841"/><rect x="88.8" y="159" width="64.5" height="1" fill="url(#g0)" opacity="0.059"/><rect x="106.1" y="159" width="29.3" height="1" fill="url(#g0)" opacity="0.303"/><rect x="97.7" y="160" width="48.6" height="1" fill="#fff" opacity="0.0106"/><rect x="87.8" y="160" width="66.3" height="1" fill="url(#g0)" opacity="0.06"/><rect x="106.7" y="160" width="30.1" height="1" fill="url(#g0)" opacity="0.273"/><rect x="97.7" y="161" width="48.6" height="1" fill="#fff" opacity="0.0102"/><rect x="93.9" y="161" width="54.2" height="1" fill="url(#g0)" opacity="0.047"/><rect x="109.0" y="161" width="24.6" height="1" fill="url(#g0)" opacity="0.315"/><rect x="96.3" y="162" width="49.3" height="1" fill="url(#g0)" opacity="0.063"/><rect x="109.6" y="162" width="22.4" height="1" fill="url(#g0)" opacity="0.315"/><rect x="97.7" y="163" width="48.6" height="1" fill="#fff" opacity="0.0124"/><rect x="92.7" y="163" width="56.7" height="1" fill="url(#g0)" opacity="0.037"/><rect x="107.8" y="163" width="25.8" height="1" fill="url(#g0)" opacity="0.272"/><rect x="90.2" y="164" width="61.5" height="1" fill="url(#g0)" opacity="0.06"/><rect x="107.5" y="164" width="28.0" height="1" fill="url(#g0)" opacity="0.236"/><rect x="97.7" y="165" width="48.6" height="1" fill="#fff" opacity="0.00402"/><rect x="93.2" y="165" width="55.7" height="1" fill="url(#g0)" opacity="0.058"/><rect x="107.9" y="165" width="25.3" height="1" fill="url(#g0)" opacity="0.263"/><rect x="92.4" y="166" width="57.1" height="1" fill="url(#g0)" opacity="0.06"/><rect x="108.3" y="166" width="26.0" height="1" fill="url(#g0)" opacity="0.241"/><rect x="98.1" y="167" width="45.9" height="1" fill="url(#g0)" opacity="0.057"/><rect x="110.4" y="167" width="20.9" height="1" fill="url(#g0)" opacity="0.234"/><rect x="97.7" y="168" width="48.6" height="1" fill="#fff" opacity="0.00585"/><rect x="94.9" y="168" width="52.3" height="1" fill="url(#g0)" opacity="0.041"/><rect x="109.7" y="168" width="23.8" height="1" fill="url(#g0)" opacity="0.262"/><rect x="99.4" y="169" width="43.2" height="1" fill="url(#g0)" opacity="0.041"/><rect x="111.2" y="169" width="19.6" height="1" fill="url(#g0)" opacity="0.204"/><rect x="97.7" y="170" width="48.6" height="1" fill="#fff" opacity="0.00898"/><rect x="94.1" y="170" width="53.7" height="1" fill="url(#g0)" opacity="0.06"/><rect x="108.9" y="170" width="24.4" height="1" fill="url(#g0)" opacity="0.23"/><rect x="97.7" y="171" width="48.6" height="1" fill="#fff" opacity="0.0085"/><rect x="100.1" y="171" width="41.7" height="1" fill="url(#g0)" opacity="0.055"/><rect x="111.7" y="171" width="19.0" height="1" fill="url(#g0)" opacity="0.2"/><rect x="97.7" y="171" width="48.6" height="1" fill="#fff" opacity="0.204"/><rect x="67.7" y="171" width="106.5" height="1" fill="url(#g0)" opacity="0.095"/><rect x="96.9" y="171" width="48.4" height="1" fill="url(#g0)" opacity="0.642"/><rect x="97.7" y="172" width="48.6" height="1" fill="#fff" opacity="0.0277"/><rect x="62.1" y="172" width="117.8" height="1" fill="url(#g0)" opacity="0.073"/><rect x="94.1" y="172" width="53.5" height="1" fill="url(#g0)" opacity="0.568"/><rect x="97.7" y="173" width="48.6" height="1" fill="#fff" opacity="0.0327"/><rect x="64.7" y="173" width="112.6" height="1" fill="url(#g0)" opacity="0.079"/><rect x="94.9" y="173" width="51.2" height="1" fill="url(#g0)" opacity="0.549"/><rect x="97.7" y="174" width="48.6" height="1" fill="#fff" opacity="0.0395"/><rect x="78.4" y="174" width="85.1" height="1" fill="url(#g0)" opacity="0.1"/><rect x="101.6" y="174" width="38.7" height="1" fill="url(#g0)" opacity="0.454"/><rect x="97.7" y="175" width="48.6" height="1" fill="#fff" opacity="0.0199"/><rect x="80.5" y="175" width="81.0" height="1" fill="url(#g0)" opacity="0.069"/><rect x="103.0" y="175" width="36.8" height="1" fill="url(#g0)" opacity="0.5"/><rect x="97.7" y="176" width="48.6" height="1" fill="#fff" opacity="0.0489"/><rect x="78.2" y="176" width="85.6" height="1" fill="url(#g0)" opacity="0.1"/><rect x="101.8" y="176" width="38.9" height="1" fill="url(#g0)" opacity="0.395"/><rect x="97.7" y="177" width="48.6" height="1" fill="#fff" opacity="0.00782"/><rect x="87.8" y="177" width="66.5" height="1" fill="url(#g0)" opacity="0.059"/><rect x="105.1" y="177" width="30.2" height="1" fill="url(#g0)" opacity="0.452"/><rect x="97.7" y="178" width="48.6" height="1" fill="#fff" opacity="0.0101"/><rect x="81.0" y="178" width="79.9" height="1" fill="url(#g0)" opacity="0.066"/><rect x="102.7" y="178" width="36.3" height="1" fill="url(#g0)" opacity="0.389"/><rect x="97.7" y="179" width="48.6" height="1" fill="#fff" opacity="0.0311"/><rect x="81.6" y="179" width="78.7" height="1" fill="url(#g0)" opacity="0.061"/><rect x="103.3" y="179" width="35.8" height="1" fill="url(#g0)" opacity="0.345"/><rect x="97.7" y="180" width="48.6" height="1" fill="#fff" opacity="0.0252"/><rect x="86.1" y="180" width="69.9" height="1" fill="url(#g0)" opacity="0.055"/><rect x="105.4" y="180" width="31.8" height="1" fill="url(#g0)" opacity="0.361"/><rect x="97.7" y="181" width="48.6" height="1" fill="#fff" opacity="0.00771"/><rect x="91.1" y="181" width="59.8" height="1" fill="url(#g0)" opacity="0.06"/><rect x="107.6" y="181" width="27.2" height="1" fill="url(#g0)" opacity="0.328"/><rect x="97.7" y="182" width="48.6" height="1" fill="#fff" opacity="0.00885"/><rect x="88.4" y="182" width="65.2" height="1" fill="url(#g0)" opacity="0.056"/><rect x="106.6" y="182" width="29.6" height="1" fill="url(#g0)" opacity="0.272"/><rect x="97.7" y="183" width="48.6" height="1" fill="#fff" opacity="0.0105"/><rect x="95.9" y="183" width="50.1" height="1" fill="url(#g0)" opacity="0.057"/><rect x="110.2" y="183" width="22.8" height="1" fill="url(#g0)" opacity="0.243"/><rect x="97.7" y="184" width="48.6" height="1" fill="#fff" opacity="0.00728"/><rect x="96.2" y="184" width="49.7" height="1" fill="url(#g0)" opacity="0.056"/><rect x="109.9" y="184" width="22.6" height="1" fill="url(#g0)" opacity="0.206"/><rect x="97.7" y="185" width="48.6" height="1" fill="#fff" opacity="0.011"/><rect x="95.3" y="185" width="51.4" height="1" fill="url(#g0)" opacity="0.053"/><rect x="109.5" y="185" width="23.4" height="1" fill="url(#g0)" opacity="0.203"/><rect x="97.2" y="186" width="47.6" height="1" fill="url(#g0)" opacity="0.04"/><rect x="109.9" y="186" width="21.6" height="1" fill="url(#g0)" opacity="0.238"/><rect x="93.5" y="187" width="55.0" height="1" fill="url(#g0)" opacity="0.029"/><rect x="108.2" y="187" width="25.0" height="1" fill="url(#g0)" opacity="0.189"/><rect x="97.7" y="187" width="48.6" height="1" fill="#fff" opacity="0.092"/><rect x="53.6" y="187" width="134.9" height="1" fill="url(#g0)" opacity="0.17"/><rect x="90.0" y="187" width="61.3" height="1" fill="url(#g0)" opacity="0.743"/><rect x="97.7" y="188" width="48.6" height="1" fill="#fff" opacity="0.151"/><rect x="65.6" y="188" width="110.8" height="1" fill="url(#g0)" opacity="0.088"/><rect x="95.6" y="188" width="50.4" height="1" fill="url(#g0)" opacity="0.597"/><rect x="97.7" y="189" width="48.6" height="1" fill="#fff" opacity="0.0546"/><rect x="67.4" y="189" width="107.2" height="1" fill="url(#g0)" opacity="0.12"/><rect x="97.1" y="189" width="48.7" height="1" fill="url(#g0)" opacity="0.53"/><rect x="97.7" y="190" width="48.6" height="1" fill="#fff" opacity="0.0162"/><rect x="77.7" y="190" width="86.5" height="1" fill="url(#g0)" opacity="0.1"/><rect x="101.6" y="190" width="39.3" height="1" fill="url(#g0)" opacity="0.575"/><rect x="97.7" y="191" width="48.6" height="1" fill="#fff" opacity="0.0106"/><rect x="81.6" y="191" width="78.9" height="1" fill="url(#g0)" opacity="0.08"/><rect x="103.5" y="191" width="35.9" height="1" fill="url(#g0)" opacity="0.431"/><rect x="97.7" y="192" width="48.6" height="1" fill="#fff" opacity="0.0136"/><rect x="76.6" y="192" width="88.7" height="1" fill="url(#g0)" opacity="0.079"/><rect x="100.4" y="192" width="40.3" height="1" fill="url(#g0)" opacity="0.387"/><rect x="97.7" y="193" width="48.6" height="1" fill="#fff" opacity="0.0262"/><rect x="77.7" y="193" width="86.6" height="1" fill="url(#g0)" opacity="0.092"/><rect x="101.3" y="193" width="39.4" height="1" fill="url(#g0)" opacity="0.451"/><rect x="97.7" y="194" width="48.6" height="1" fill="#fff" opacity="0.0141"/><rect x="87.4" y="194" width="67.2" height="1" fill="url(#g0)" opacity="0.061"/><rect x="106.2" y="194" width="30.6" height="1" fill="url(#g0)" opacity="0.364"/><rect x="97.7" y="195" width="48.6" height="1" fill="#fff" opacity="0.012"/><rect x="87.3" y="195" width="67.5" height="1" fill="url(#g0)" opacity="0.091"/><rect x="105.3" y="195" width="30.7" height="1" fill="url(#g0)" opacity="0.363"/><rect x="97.7" y="196" width="48.6" height="1" fill="#fff" opacity="0.0162"/><rect x="83.9" y="196" width="74.2" height="1" fill="url(#g0)" opacity="0.079"/><rect x="104.3" y="196" width="33.7" height="1" fill="url(#g0)" opacity="0.333"/><rect x="97.7" y="197" width="48.6" height="1" fill="#fff" opacity="0.013"/><rect x="88.4" y="197" width="65.2" height="1" fill="url(#g0)" opacity="0.062"/><rect x="105.8" y="197" width="29.6" height="1" fill="url(#g0)" opacity="0.288"/><rect x="97.7" y="198" width="48.6" height="1" fill="#fff" opacity="0.0203"/><rect x="93.1" y="198" width="55.7" height="1" fill="url(#g0)" opacity="0.045"/><rect x="108.5" y="198" width="25.3" height="1" fill="url(#g0)" opacity="0.271"/><rect x="97.7" y="199" width="48.6" height="1" fill="#fff" opacity="0.0051"/><rect x="93.5" y="199" width="55.1" height="1" fill="url(#g0)" opacity="0.073"/><rect x="109.2" y="199" width="25.0" height="1" fill="url(#g0)" opacity="0.316"/><rect x="97.7" y="200" width="48.6" height="1" fill="#fff" opacity="0.00775"/><rect x="88.6" y="200" width="64.7" height="1" fill="url(#g0)" opacity="0.052"/><rect x="106.8" y="200" width="29.4" height="1" fill="url(#g0)" opacity="0.298"/><rect x="94.7" y="201" width="52.7" height="1" fill="url(#g0)" opacity="0.058"/><rect x="108.3" y="201" width="23.9" height="1" fill="url(#g0)" opacity="0.288"/><rect x="95.1" y="202" width="51.9" height="1" fill="url(#g0)" opacity="0.056"/><rect x="109.8" y="202" width="23.6" height="1" fill="url(#g0)" opacity="0.258"/><rect x="94.3" y="203" width="53.5" height="1" fill="url(#g0)" opacity="0.05"/><rect x="108.5" y="203" width="24.3" height="1" fill="url(#g0)" opacity="0.244"/><rect x="97.7" y="204" width="48.6" height="1" fill="#fff" opacity="0.0085"/><rect x="93.2" y="204" width="55.5" height="1" fill="url(#g0)" opacity="0.052"/><rect x="107.9" y="204" width="25.2" height="1" fill="url(#g0)" opacity="0.205"/></g></g><g clip-path="url(#cb2)"><g filter="url(#reds)"><rect x="151.5" y="30.3" width="52.4" height="175.9" fill="#000"/><rect x="153.5" y="32" width="48.4" height="1" fill="#fff" opacity="0.0684"/><rect x="110.4" y="32" width="133.0" height="1" fill="url(#g0)" opacity="0.11"/><rect x="146.1" y="32" width="60.5" height="1" fill="url(#g0)" opacity="0.429"/><rect x="153.5" y="33" width="48.4" height="1" fill="#fff" opacity="0.0241"/><rect x="115.7" y="33" width="122.3" height="1" fill="url(#g0)" opacity="0.073"/><rect x="149.6" y="33" width="55.6" height="1" fill="url(#g0)" opacity="0.547"/><rect x="153.5" y="34" width="48.4" height="1" fill="#fff" opacity="0.115"/><rect x="103.9" y="34" width="146.0" height="1" fill="url(#g0)" opacity="0.074"/><rect x="143.0" y="34" width="66.4" height="1" fill="url(#g0)" opacity="0.458"/><rect x="153.5" y="35" width="48.4" height="1" fill="#fff" opacity="0.0442"/><rect x="101.2" y="35" width="151.5" height="1" fill="url(#g0)" opacity="0.088"/><rect x="142.6" y="35" width="68.9" height="1" fill="url(#g0)" opacity="0.47"/><rect x="153.5" y="36" width="48.4" height="1" fill="#fff" opacity="0.0511"/><rect x="112.1" y="36" width="129.7" height="1" fill="url(#g0)" opacity="0.068"/><rect x="147.0" y="36" width="58.9" height="1" fill="url(#g0)" opacity="0.452"/><rect x="153.5" y="37" width="48.4" height="1" fill="#fff" opacity="0.0378"/><rect x="119.1" y="37" width="115.6" height="1" fill="url(#g0)" opacity="0.1"/><rect x="151.1" y="37" width="52.5" height="1" fill="url(#g0)" opacity="0.407"/><rect x="153.5" y="38" width="48.4" height="1" fill="#fff" opacity="0.0363"/><rect x="114.6" y="38" width="124.6" height="1" fill="url(#g0)" opacity="0.072"/><rect x="149.1" y="38" width="56.6" height="1" fill="url(#g0)" opacity="0.476"/><rect x="153.5" y="39" width="48.4" height="1" fill="#fff" opacity="0.0453"/><rect x="123.0" y="39" width="107.7" height="1" fill="url(#g0)" opacity="0.069"/><rect x="153.0" y="39" width="49.0" height="1" fill="url(#g0)" opacity="0.458"/><rect x="153.5" y="40" width="48.4" height="1" fill="#fff" opacity="0.0567"/><rect x="123.8" y="40" width="106.3" height="1" fill="url(#g0)" opacity="0.086"/><rect x="153.3" y="40" width="48.3" height="1" fill="url(#g0)" opacity="0.382"/><rect x="153.5" y="41" width="48.4" height="1" fill="#fff" opacity="0.0319"/><rect x="120.6" y="41" width="112.7" height="1" fill="url(#g0)" opacity="0.085"/><rect x="151.3" y="41" width="51.2" height="1" fill="url(#g0)" opacity="0.393"/><rect x="153.5" y="42" width="48.4" height="1" fill="#fff" opacity="0.0122"/><rect x="123.8" y="42" width="106.2" height="1" fill="url(#g0)" opacity="0.069"/><rect x="152.2" y="42" width="48.3" height="1" fill="url(#g0)" opacity="0.37"/><rect x="153.5" y="43" width="48.4" height="1" fill="#fff" opacity="0.0232"/><rect x="121.2" y="43" width="111.3" height="1" fill="url(#g0)" opacity="0.08"/><rect x="151.2" y="43" width="50.6" height="1" fill="url(#g0)" opacity="0.442"/><rect x="153.5" y="44" width="48.4" height="1" fill="#fff" opacity="0.0275"/><rect x="125.2" y="44" width="103.3" height="1" fill="url(#g0)" opacity="0.056"/><rect x="153.2" y="44" width="47.0" height="1" fill="url(#g0)" opacity="0.359"/><rect x="153.5" y="45" width="48.4" height="1" fill="#fff" opacity="0.0572"/><rect x="125.6" y="45" width="102.5" height="1" fill="url(#g0)" opacity="0.097"/><rect x="153.0" y="45" width="46.6" height="1" fill="url(#g0)" opacity="0.345"/><rect x="153.5" y="46" width="48.4" height="1" fill="#fff" opacity="0.0245"/><rect x="117.6" y="46" width="118.5" height="1" fill="url(#g0)" opacity="0.08"/><rect x="150.1" y="46" width="53.9" height="1" fill="url(#g0)" opacity="0.321"/><rect x="153.5" y="47" width="48.4" height="1" fill="#fff" opacity="0.0299"/><rect x="121.2" y="47" width="111.4" height="1" fill="url(#g0)" opacity="0.057"/><rect x="151.5" y="47" width="50.6" height="1" fill="url(#g0)" opacity="0.335"/><rect x="153.5" y="48" width="48.4" height="1" fill="#fff" opacity="0.0366"/><rect x="130.4" y="48" width="93.1" height="1" fill="url(#g0)" opacity="0.084"/><rect x="155.4" y="48" width="42.3" height="1" fill="url(#g0)" opacity="0.319"/><rect x="153.5" y="49" width="48.4" height="1" fill="#fff" opacity="0.0201"/><rect x="124.3" y="49" width="105.2" height="1" fill="url(#g0)" opacity="0.069"/><rect x="152.4" y="49" width="47.8" height="1" fill="url(#g0)" opacity="0.314"/><rect x="153.5" y="50" width="48.4" height="1" fill="#fff" opacity="0.0149"/><rect x="128.8" y="50" width="96.3" height="1" fill="url(#g0)" opacity="0.081"/><rect x="154.9" y="50" width="43.8" height="1" fill="url(#g0)" opacity="0.346"/><rect x="153.5" y="51" width="48.4" height="1" fill="#fff" opacity="0.0232"/><rect x="132.7" y="51" width="88.5" height="1" fill="url(#g0)" opacity="0.096"/><rect x="156.7" y="51" width="40.2" height="1" fill="url(#g0)" opacity="0.382"/><rect x="153.5" y="52" width="48.4" height="1" fill="#fff" opacity="0.014"/><rect x="129.0" y="52" width="95.8" height="1" fill="url(#g0)" opacity="0.065"/><rect x="155.7" y="52" width="43.5" height="1" fill="url(#g0)" opacity="0.327"/><rect x="153.5" y="53" width="48.4" height="1" fill="#fff" opacity="0.0104"/><rect x="134.9" y="53" width="83.9" height="1" fill="url(#g0)" opacity="0.079"/><rect x="158.4" y="53" width="38.1" height="1" fill="url(#g0)" opacity="0.318"/><rect x="153.5" y="54" width="48.4" height="1" fill="#fff" opacity="0.0136"/><rect x="127.2" y="54" width="99.4" height="1" fill="url(#g0)" opacity="0.077"/><rect x="153.8" y="54" width="45.2" height="1" fill="url(#g0)" opacity="0.369"/><rect x="153.5" y="55" width="48.4" height="1" fill="#fff" opacity="0.0167"/><rect x="127.0" y="55" width="99.9" height="1" fill="url(#g0)" opacity="0.053"/><rect x="153.7" y="55" width="45.4" height="1" fill="url(#g0)" opacity="0.378"/><rect x="153.5" y="56" width="48.4" height="1" fill="#fff" opacity="0.00656"/><rect x="132.9" y="56" width="88.0" height="1" fill="url(#g0)" opacity="0.065"/><rect x="156.9" y="56" width="40.0" height="1" fill="url(#g0)" opacity="0.376"/><rect x="153.5" y="57" width="48.4" height="1" fill="#fff" opacity="0.0354"/><rect x="130.2" y="57" width="93.5" height="1" fill="url(#g0)" opacity="0.06"/><rect x="155.0" y="57" width="42.5" height="1" fill="url(#g0)" opacity="0.31"/><rect x="153.5" y="58" width="48.4" height="1" fill="#fff" opacity="0.0158"/><rect x="137.3" y="58" width="79.1" height="1" fill="url(#g0)" opacity="0.074"/><rect x="158.5" y="58" width="36.0" height="1" fill="url(#g0)" opacity="0.362"/><rect x="153.5" y="59" width="48.4" height="1" fill="#fff" opacity="0.0202"/><rect x="139.0" y="59" width="75.9" height="1" fill="url(#g0)" opacity="0.09"/><rect x="159.8" y="59" width="34.5" height="1" fill="url(#g0)" opacity="0.368"/><rect x="153.5" y="60" width="48.4" height="1" fill="#fff" opacity="0.00915"/><rect x="127.6" y="60" width="98.6" height="1" fill="url(#g0)" opacity="0.072"/><rect x="153.9" y="60" width="44.8" height="1" fill="url(#g0)" opacity="0.32"/><rect x="153.5" y="61" width="48.4" height="1" fill="#fff" opacity="0.0194"/><rect x="128.9" y="61" width="96.0" height="1" fill="url(#g0)" opacity="0.086"/><rect x="155.5" y="61" width="43.6" height="1" fill="url(#g0)" opacity="0.348"/><rect x="153.5" y="62" width="48.4" height="1" fill="#fff" opacity="0.0147"/><rect x="128.9" y="62" width="95.9" height="1" fill="url(#g0)" opacity="0.084"/><rect x="155.7" y="62" width="43.6" height="1" fill="url(#g0)" opacity="0.324"/><rect x="153.5" y="63" width="48.4" height="1" fill="#fff" opacity="0.0115"/><rect x="134.3" y="63" width="85.2" height="1" fill="url(#g0)" opacity="0.083"/><rect x="156.8" y="63" width="38.7" height="1" fill="url(#g0)" opacity="0.316"/><rect x="153.5" y="64" width="48.4" height="1" fill="#fff" opacity="0.00846"/><rect x="138.9" y="64" width="76.1" height="1" fill="url(#g0)" opacity="0.062"/><rect x="159.3" y="64" width="34.6" height="1" fill="url(#g0)" opacity="0.304"/><rect x="153.5" y="65" width="48.4" height="1" fill="#fff" opacity="0.0138"/><rect x="141.3" y="65" width="71.3" height="1" fill="url(#g0)" opacity="0.085"/><rect x="160.3" y="65" width="32.4" height="1" fill="url(#g0)" opacity="0.354"/><rect x="153.5" y="66" width="48.4" height="1" fill="#fff" opacity="0.0135"/><rect x="136.1" y="66" width="81.6" height="1" fill="url(#g0)" opacity="0.05"/><rect x="158.7" y="66" width="37.1" height="1" fill="url(#g0)" opacity="0.345"/><rect x="153.5" y="67" width="48.4" height="1" fill="#fff" opacity="0.0053"/><rect x="133.4" y="67" width="87.0" height="1" fill="url(#g0)" opacity="0.067"/><rect x="156.8" y="67" width="39.5" height="1" fill="url(#g0)" opacity="0.358"/><rect x="153.5" y="68" width="48.4" height="1" fill="#fff" opacity="0.00777"/><rect x="133.3" y="68" width="87.2" height="1" fill="url(#g0)" opacity="0.06"/><rect x="156.5" y="68" width="39.6" height="1" fill="url(#g0)" opacity="0.331"/><rect x="153.5" y="69" width="48.4" height="1" fill="#fff" opacity="0.0127"/><rect x="135.8" y="69" width="82.3" height="1" fill="url(#g0)" opacity="0.059"/><rect x="157.6" y="69" width="37.4" height="1" fill="url(#g0)" opacity="0.282"/><rect x="153.5" y="70" width="48.4" height="1" fill="#fff" opacity="0.00495"/><rect x="141.3" y="70" width="71.3" height="1" fill="url(#g0)" opacity="0.061"/><rect x="161.4" y="70" width="32.4" height="1" fill="url(#g0)" opacity="0.342"/><rect x="153.5" y="71" width="48.4" height="1" fill="#fff" opacity="0.00484"/><rect x="133.7" y="71" width="86.5" height="1" fill="url(#g0)" opacity="0.076"/><rect x="157.1" y="71" width="39.3" height="1" fill="url(#g0)" opacity="0.297"/><rect x="153.5" y="72" width="48.4" height="1" fill="#fff" opacity="0.0118"/><rect x="139.9" y="72" width="73.9" height="1" fill="url(#g0)" opacity="0.073"/><rect x="160.6" y="72" width="33.6" height="1" fill="url(#g0)" opacity="0.326"/><rect x="153.5" y="73" width="48.4" height="1" fill="#fff" opacity="0.015"/><rect x="137.7" y="73" width="78.3" height="1" fill="url(#g0)" opacity="0.079"/><rect x="159.6" y="73" width="35.6" height="1" fill="url(#g0)" opacity="0.323"/><rect x="153.5" y="74" width="48.4" height="1" fill="#fff" opacity="0.0146"/><rect x="138.7" y="74" width="76.5" height="1" fill="url(#g0)" opacity="0.051"/><rect x="159.1" y="74" width="34.8" height="1" fill="url(#g0)" opacity="0.267"/><rect x="153.5" y="75" width="48.4" height="1" fill="#fff" opacity="0.00876"/><rect x="140.8" y="75" width="72.2" height="1" fill="url(#g0)" opacity="0.059"/><rect x="159.8" y="75" width="32.8" height="1" fill="url(#g0)" opacity="0.316"/><rect x="153.5" y="76" width="48.4" height="1" fill="#fff" opacity="0.00853"/><rect x="145.0" y="76" width="63.7" height="1" fill="url(#g0)" opacity="0.056"/><rect x="162.3" y="76" width="29.0" height="1" fill="url(#g0)" opacity="0.305"/><rect x="153.5" y="77" width="48.4" height="1" fill="#fff" opacity="0.00415"/><rect x="140.6" y="77" width="72.6" height="1" fill="url(#g0)" opacity="0.081"/><rect x="160.9" y="77" width="33.0" height="1" fill="url(#g0)" opacity="0.332"/><rect x="153.5" y="78" width="48.4" height="1" fill="#fff" opacity="0.0101"/><rect x="145.6" y="78" width="62.7" height="1" fill="url(#g0)" opacity="0.069"/><rect x="163.3" y="78" width="28.5" height="1" fill="url(#g0)" opacity="0.323"/><rect x="137.4" y="79" width="79.0" height="1" fill="url(#g0)" opacity="0.051"/><rect x="159.1" y="79" width="35.9" height="1" fill="url(#g0)" opacity="0.315"/><rect x="141.6" y="80" width="70.5" height="1" fill="url(#g0)" opacity="0.051"/><rect x="160.5" y="80" width="32.1" height="1" fill="url(#g0)" opacity="0.304"/><rect x="153.5" y="81" width="48.4" height="1" fill="#fff" opacity="0.00971"/><rect x="145.2" y="81" width="63.4" height="1" fill="url(#g0)" opacity="0.063"/><rect x="161.8" y="81" width="28.8" height="1" fill="url(#g0)" opacity="0.301"/><rect x="153.5" y="82" width="48.4" height="1" fill="#fff" opacity="0.00768"/><rect x="141.9" y="82" width="70.0" height="1" fill="url(#g0)" opacity="0.079"/><rect x="161.6" y="82" width="31.8" height="1" fill="url(#g0)" opacity="0.314"/><rect x="153.5" y="83" width="48.4" height="1" fill="#fff" opacity="0.0057"/><rect x="143.9" y="83" width="66.1" height="1" fill="url(#g0)" opacity="0.051"/><rect x="162.3" y="83" width="30.0" height="1" fill="url(#g0)" opacity="0.303"/><rect x="153.5" y="84" width="48.4" height="1" fill="#fff" opacity="0.00939"/><rect x="139.6" y="84" width="74.6" height="1" fill="url(#g0)" opacity="0.046"/><rect x="160.2" y="84" width="33.9" height="1" fill="url(#g0)" opacity="0.292"/><rect x="153.5" y="85" width="48.4" height="1" fill="#fff" opacity="0.00928"/><rect x="142.2" y="85" width="69.3" height="1" fill="url(#g0)" opacity="0.058"/><rect x="161.3" y="85" width="31.5" height="1" fill="url(#g0)" opacity="0.303"/><rect x="153.5" y="86" width="48.4" height="1" fill="#fff" opacity="0.00917"/><rect x="144.7" y="86" width="64.4" height="1" fill="url(#g0)" opacity="0.055"/><rect x="161.8" y="86" width="29.3" height="1" fill="url(#g0)" opacity="0.27"/><rect x="153.5" y="87" width="48.4" height="1" fill="#fff" opacity="0.0118"/><rect x="143.3" y="87" width="67.2" height="1" fill="url(#g0)" opacity="0.08"/><rect x="161.1" y="87" width="30.6" height="1" fill="url(#g0)" opacity="0.305"/><rect x="153.5" y="88" width="48.4" height="1" fill="#fff" opacity="0.00896"/><rect x="144.2" y="88" width="65.4" height="1" fill="url(#g0)" opacity="0.069"/><rect x="161.7" y="88" width="29.7" height="1" fill="url(#g0)" opacity="0.257"/><rect x="153.5" y="89" width="48.4" height="1" fill="#fff" opacity="0.00708"/><rect x="139.8" y="89" width="74.3" height="1" fill="url(#g0)" opacity="0.056"/><rect x="160.1" y="89" width="33.8" height="1" fill="url(#g0)" opacity="0.265"/><rect x="153.5" y="90" width="48.4" height="1" fill="#fff" opacity="0.0149"/><rect x="141.1" y="90" width="71.5" height="1" fill="url(#g0)" opacity="0.049"/><rect x="161.2" y="90" width="32.5" height="1" fill="url(#g0)" opacity="0.268"/><rect x="153.5" y="91" width="48.4" height="1" fill="#fff" opacity="0.00691"/><rect x="142.7" y="91" width="68.3" height="1" fill="url(#g0)" opacity="0.065"/><rect x="161.2" y="91" width="31.1" height="1" fill="url(#g0)" opacity="0.295"/><rect x="153.5" y="92" width="48.4" height="1" fill="#fff" opacity="0.00853"/><rect x="146.1" y="92" width="61.5" height="1" fill="url(#g0)" opacity="0.051"/><rect x="163.4" y="92" width="28.0" height="1" fill="url(#g0)" opacity="0.25"/><rect x="153.5" y="93" width="48.4" height="1" fill="#fff" opacity="0.0185"/><rect x="140.9" y="93" width="72.1" height="1" fill="url(#g0)" opacity="0.062"/><rect x="160.1" y="93" width="32.8" height="1" fill="url(#g0)" opacity="0.283"/><rect x="153.5" y="94" width="48.4" height="1" fill="#fff" opacity="0.0141"/><rect x="141.5" y="94" width="70.9" height="1" fill="url(#g0)" opacity="0.039"/><rect x="161.4" y="94" width="32.2" height="1" fill="url(#g0)" opacity="0.293"/><rect x="153.5" y="95" width="48.4" height="1" fill="#fff" opacity="0.018"/><rect x="142.8" y="95" width="68.1" height="1" fill="url(#g0)" opacity="0.075"/><rect x="161.2" y="95" width="31.0" height="1" fill="url(#g0)" opacity="0.273"/><rect x="153.5" y="96" width="48.4" height="1" fill="#fff" opacity="0.0081"/><rect x="140.4" y="96" width="73.0" height="1" fill="url(#g0)" opacity="0.052"/><rect x="160.9" y="96" width="33.2" height="1" fill="url(#g0)" opacity="0.244"/><rect x="153.5" y="97" width="48.4" height="1" fill="#fff" opacity="0.0176"/><rect x="144.5" y="97" width="64.8" height="1" fill="url(#g0)" opacity="0.047"/><rect x="161.8" y="97" width="29.4" height="1" fill="url(#g0)" opacity="0.259"/><rect x="153.5" y="98" width="48.4" height="1" fill="#fff" opacity="0.0134"/><rect x="144.0" y="98" width="65.8" height="1" fill="url(#g0)" opacity="0.036"/><rect x="162.2" y="98" width="29.9" height="1" fill="url(#g0)" opacity="0.267"/><rect x="153.5" y="99" width="48.4" height="1" fill="#fff" opacity="0.0132"/><rect x="139.6" y="99" width="74.5" height="1" fill="url(#g0)" opacity="0.046"/><rect x="159.9" y="99" width="33.9" height="1" fill="url(#g0)" opacity="0.29"/><rect x="153.5" y="100" width="48.4" height="1" fill="#fff" opacity="0.013"/><rect x="148.0" y="100" width="57.7" height="1" fill="url(#g0)" opacity="0.038"/><rect x="163.9" y="100" width="26.2" height="1" fill="url(#g0)" opacity="0.259"/><rect x="153.5" y="101" width="48.4" height="1" fill="#fff" opacity="0.00756"/><rect x="146.5" y="101" width="60.8" height="1" fill="url(#g0)" opacity="0.048"/><rect x="163.8" y="101" width="27.6" height="1" fill="url(#g0)" opacity="0.303"/><rect x="141.0" y="102" width="71.7" height="1" fill="url(#g0)" opacity="0.044"/><rect x="159.8" y="102" width="32.6" height="1" fill="url(#g0)" opacity="0.268"/><rect x="153.5" y="103" width="48.4" height="1" fill="#fff" opacity="0.00734"/><rect x="147.1" y="103" width="59.7" height="1" fill="url(#g0)" opacity="0.074"/><rect x="163.4" y="103" width="27.1" height="1" fill="url(#g0)" opacity="0.278"/><rect x="153.5" y="104" width="48.4" height="1" fill="#fff" opacity="0.0123"/><rect x="145.2" y="104" width="63.4" height="1" fill="url(#g0)" opacity="0.048"/><rect x="162.3" y="104" width="28.8" height="1" fill="url(#g0)" opacity="0.263"/><rect x="146.9" y="105" width="59.9" height="1" fill="url(#g0)" opacity="0.054"/><rect x="163.6" y="105" width="27.2" height="1" fill="url(#g0)" opacity="0.27"/><rect x="153.5" y="106" width="48.4" height="1" fill="#fff" opacity="0.0119"/><rect x="146.9" y="106" width="60.0" height="1" fill="url(#g0)" opacity="0.058"/><rect x="163.5" y="106" width="27.3" height="1" fill="url(#g0)" opacity="0.218"/><rect x="153.5" y="107" width="48.4" height="1" fill="#fff" opacity="0.0118"/><rect x="148.8" y="107" width="56.2" height="1" fill="url(#g0)" opacity="0.045"/><rect x="164.1" y="107" width="25.5" height="1" fill="url(#g0)" opacity="0.232"/><rect x="153.5" y="108" width="48.4" height="1" fill="#fff" opacity="0.00885"/><rect x="141.5" y="108" width="70.8" height="1" fill="url(#g0)" opacity="0.06"/><rect x="161.1" y="108" width="32.2" height="1" fill="url(#g0)" opacity="0.257"/><rect x="153.5" y="109" width="48.4" height="1" fill="#fff" opacity="0.00871"/><rect x="147.5" y="109" width="58.7" height="1" fill="url(#g0)" opacity="0.054"/><rect x="164.3" y="109" width="26.7" height="1" fill="url(#g0)" opacity="0.219"/><rect x="153.5" y="110" width="48.4" height="1" fill="#fff" opacity="0.00659"/><rect x="150.0" y="110" width="53.8" height="1" fill="url(#g0)" opacity="0.06"/><rect x="165.0" y="110" width="24.4" height="1" fill="url(#g0)" opacity="0.247"/><rect x="153.5" y="111" width="48.4" height="1" fill="#fff" opacity="0.011"/><rect x="143.1" y="111" width="67.6" height="1" fill="url(#g0)" opacity="0.057"/><rect x="161.8" y="111" width="30.7" height="1" fill="url(#g0)" opacity="0.282"/><rect x="153.5" y="112" width="48.4" height="1" fill="#fff" opacity="0.00638"/><rect x="149.5" y="112" width="54.9" height="1" fill="url(#g0)" opacity="0.04"/><rect x="164.3" y="112" width="24.9" height="1" fill="url(#g0)" opacity="0.283"/><rect x="150.5" y="113" width="52.7" height="1" fill="url(#g0)" opacity="0.036"/><rect x="165.2" y="113" width="24.0" height="1" fill="url(#g0)" opacity="0.269"/><rect x="145.3" y="114" width="63.2" height="1" fill="url(#g0)" opacity="0.041"/><rect x="163.2" y="114" width="28.7" height="1" fill="url(#g0)" opacity="0.221"/><rect x="151.7" y="115" width="50.5" height="1" fill="url(#g0)" opacity="0.044"/><rect x="164.9" y="115" width="22.9" height="1" fill="url(#g0)" opacity="0.224"/><rect x="153.5" y="116" width="48.4" height="1" fill="#fff" opacity="0.00476"/><rect x="149.6" y="116" width="54.6" height="1" fill="url(#g0)" opacity="0.047"/><rect x="164.6" y="116" width="24.8" height="1" fill="url(#g0)" opacity="0.253"/><rect x="150.7" y="117" width="52.3" height="1" fill="url(#g0)" opacity="0.033"/><rect x="164.3" y="117" width="23.8" height="1" fill="url(#g0)" opacity="0.232"/><rect x="153.5" y="118" width="48.4" height="1" fill="#fff" opacity="0.0126"/><rect x="148.0" y="118" width="57.8" height="1" fill="url(#g0)" opacity="0.064"/><rect x="163.9" y="118" width="26.3" height="1" fill="url(#g0)" opacity="0.26"/><rect x="153.5" y="119" width="48.4" height="1" fill="#fff" opacity="0.00731"/><rect x="152.3" y="119" width="49.2" height="1" fill="url(#g0)" opacity="0.036"/><rect x="165.2" y="119" width="22.3" height="1" fill="url(#g0)" opacity="0.219"/><rect x="152.3" y="120" width="49.2" height="1" fill="url(#g0)" opacity="0.057"/><rect x="166.3" y="120" width="22.4" height="1" fill="url(#g0)" opacity="0.219"/><rect x="153.5" y="121" width="48.4" height="1" fill="#fff" opacity="0.00919"/><rect x="151.1" y="121" width="51.6" height="1" fill="url(#g0)" opacity="0.035"/><rect x="164.4" y="121" width="23.4" height="1" fill="url(#g0)" opacity="0.215"/><rect x="146.4" y="122" width="60.9" height="1" fill="url(#g0)" opacity="0.049"/><rect x="163.0" y="122" width="27.7" height="1" fill="url(#g0)" opacity="0.232"/><rect x="153.5" y="123" width="48.4" height="1" fill="#fff" opacity="0.00415"/><rect x="152.7" y="123" width="48.4" height="1" fill="url(#g0)" opacity="0.055"/><rect x="165.6" y="123" width="22.0" height="1" fill="url(#g0)" opacity="0.214"/><rect x="153.5" y="124" width="48.4" height="1" fill="#fff" opacity="0.00509"/><rect x="150.7" y="124" width="52.5" height="1" fill="url(#g0)" opacity="0.05"/><rect x="165.7" y="124" width="23.8" height="1" fill="url(#g0)" opacity="0.256"/><rect x="153.5" y="125" width="48.4" height="1" fill="#fff" opacity="0.0085"/><rect x="151.3" y="125" width="51.2" height="1" fill="url(#g0)" opacity="0.054"/><rect x="165.6" y="125" width="23.3" height="1" fill="url(#g0)" opacity="0.258"/><rect x="153.5" y="125" width="48.4" height="1" fill="#fff" opacity="0.0255"/><rect x="126.6" y="125" width="100.6" height="1" fill="url(#g0)" opacity="0.06"/><rect x="153.3" y="125" width="45.7" height="1" fill="url(#g0)" opacity="0.225"/><rect x="153.5" y="126" width="48.4" height="1" fill="#fff" opacity="0.0197"/><rect x="130.2" y="126" width="93.5" height="1" fill="url(#g0)" opacity="0.058"/><rect x="155.2" y="126" width="42.5" height="1" fill="url(#g0)" opacity="0.206"/><rect x="153.5" y="127" width="48.4" height="1" fill="#fff" opacity="0.00695"/><rect x="124.1" y="127" width="105.7" height="1" fill="url(#g0)" opacity="0.058"/><rect x="152.6" y="127" width="48.0" height="1" fill="url(#g0)" opacity="0.231"/><rect x="153.5" y="127" width="48.4" height="1" fill="#fff" opacity="0.072"/><rect x="114.8" y="127" width="124.2" height="1" fill="url(#g0)" opacity="0.13"/><rect x="148.6" y="127" width="56.5" height="1" fill="url(#g0)" opacity="0.529"/><rect x="153.5" y="128" width="48.4" height="1" fill="#fff" opacity="0.222"/><rect x="121.9" y="128" width="110.0" height="1" fill="url(#g0)" opacity="0.089"/><rect x="151.6" y="128" width="50.0" height="1" fill="url(#g0)" opacity="0.466"/><rect x="153.5" y="129" width="48.4" height="1" fill="#fff" opacity="0.107"/><rect x="119.8" y="129" width="114.2" height="1" fill="url(#g0)" opacity="0.074"/><rect x="151.4" y="129" width="51.9" height="1" fill="url(#g0)" opacity="0.412"/><rect x="153.5" y="130" width="48.4" height="1" fill="#fff" opacity="0.0544"/><rect x="129.3" y="130" width="95.2" height="1" fill="url(#g0)" opacity="0.084"/><rect x="155.4" y="130" width="43.3" height="1" fill="url(#g0)" opacity="0.427"/><rect x="153.5" y="131" width="48.4" height="1" fill="#fff" opacity="0.0815"/><rect x="129.8" y="131" width="94.2" height="1" fill="url(#g0)" opacity="0.11"/><rect x="155.3" y="131" width="42.8" height="1" fill="url(#g0)" opacity="0.485"/><rect x="153.5" y="132" width="48.4" height="1" fill="#fff" opacity="0.0573"/><rect x="120.2" y="132" width="113.3" height="1" fill="url(#g0)" opacity="0.086"/><rect x="150.8" y="132" width="51.5" height="1" fill="url(#g0)" opacity="0.433"/><rect x="153.5" y="133" width="48.4" height="1" fill="#fff" opacity="0.0415"/><rect x="123.1" y="133" width="107.6" height="1" fill="url(#g0)" opacity="0.11"/><rect x="153.2" y="133" width="48.9" height="1" fill="url(#g0)" opacity="0.39"/><rect x="153.5" y="134" width="48.4" height="1" fill="#fff" opacity="0.0605"/><rect x="130.5" y="134" width="92.9" height="1" fill="url(#g0)" opacity="0.082"/><rect x="155.8" y="134" width="42.2" height="1" fill="url(#g0)" opacity="0.434"/><rect x="153.5" y="135" width="48.4" height="1" fill="#fff" opacity="0.0247"/><rect x="136.0" y="135" width="81.7" height="1" fill="url(#g0)" opacity="0.063"/><rect x="158.6" y="135" width="37.1" height="1" fill="url(#g0)" opacity="0.44"/><rect x="153.5" y="136" width="48.4" height="1" fill="#fff" opacity="0.0608"/><rect x="129.0" y="136" width="95.9" height="1" fill="url(#g0)" opacity="0.099"/><rect x="154.4" y="136" width="43.6" height="1" fill="url(#g0)" opacity="0.426"/><rect x="153.5" y="137" width="48.4" height="1" fill="#fff" opacity="0.0182"/><rect x="139.7" y="137" width="74.3" height="1" fill="url(#g0)" opacity="0.083"/><rect x="160.3" y="137" width="33.8" height="1" fill="url(#g0)" opacity="0.356"/><rect x="153.5" y="138" width="48.4" height="1" fill="#fff" opacity="0.015"/><rect x="138.6" y="138" width="76.6" height="1" fill="url(#g0)" opacity="0.089"/><rect x="158.8" y="138" width="34.8" height="1" fill="url(#g0)" opacity="0.351"/><rect x="153.5" y="139" width="48.4" height="1" fill="#fff" opacity="0.024"/><rect x="132.1" y="139" width="89.6" height="1" fill="url(#g0)" opacity="0.071"/><rect x="155.9" y="139" width="40.7" height="1" fill="url(#g0)" opacity="0.417"/><rect x="153.5" y="140" width="48.4" height="1" fill="#fff" opacity="0.0392"/><rect x="140.6" y="140" width="72.6" height="1" fill="url(#g0)" opacity="0.064"/><rect x="160.1" y="140" width="33.0" height="1" fill="url(#g0)" opacity="0.335"/><rect x="153.5" y="141" width="48.4" height="1" fill="#fff" opacity="0.0177"/><rect x="133.4" y="141" width="87.0" height="1" fill="url(#g0)" opacity="0.064"/><rect x="157.8" y="141" width="39.5" height="1" fill="url(#g0)" opacity="0.418"/><rect x="153.5" y="142" width="48.4" height="1" fill="#fff" opacity="0.0274"/><rect x="133.9" y="142" width="86.1" height="1" fill="url(#g0)" opacity="0.049"/><rect x="158.0" y="142" width="39.1" height="1" fill="url(#g0)" opacity="0.353"/><rect x="153.5" y="143" width="48.4" height="1" fill="#fff" opacity="0.0342"/><rect x="138.5" y="143" width="76.8" height="1" fill="url(#g0)" opacity="0.078"/><rect x="159.2" y="143" width="34.9" height="1" fill="url(#g0)" opacity="0.356"/><rect x="153.5" y="144" width="48.4" height="1" fill="#fff" opacity="0.0192"/><rect x="143.2" y="144" width="67.4" height="1" fill="url(#g0)" opacity="0.045"/><rect x="161.9" y="144" width="30.7" height="1" fill="url(#g0)" opacity="0.325"/><rect x="153.5" y="145" width="48.4" height="1" fill="#fff" opacity="0.0182"/><rect x="143.3" y="145" width="67.3" height="1" fill="url(#g0)" opacity="0.047"/><rect x="162.0" y="145" width="30.6" height="1" fill="url(#g0)" opacity="0.302"/><rect x="153.5" y="146" width="48.4" height="1" fill="#fff" opacity="0.0138"/><rect x="139.6" y="146" width="74.7" height="1" fill="url(#g0)" opacity="0.058"/><rect x="160.0" y="146" width="33.9" height="1" fill="url(#g0)" opacity="0.36"/><rect x="153.5" y="147" width="48.4" height="1" fill="#fff" opacity="0.0276"/><rect x="140.6" y="147" width="72.6" height="1" fill="url(#g0)" opacity="0.067"/><rect x="160.7" y="147" width="33.0" height="1" fill="url(#g0)" opacity="0.311"/><rect x="153.5" y="148" width="48.4" height="1" fill="#fff" opacity="0.0153"/><rect x="145.6" y="148" width="62.5" height="1" fill="url(#g0)" opacity="0.085"/><rect x="163.3" y="148" width="28.4" height="1" fill="url(#g0)" opacity="0.341"/><rect x="153.5" y="149" width="48.4" height="1" fill="#fff" opacity="0.0143"/><rect x="140.2" y="149" width="73.5" height="1" fill="url(#g0)" opacity="0.045"/><rect x="160.5" y="149" width="33.4" height="1" fill="url(#g0)" opacity="0.327"/><rect x="153.5" y="150" width="48.4" height="1" fill="#fff" opacity="0.0173"/><rect x="140.1" y="150" width="73.7" height="1" fill="url(#g0)" opacity="0.043"/><rect x="160.6" y="150" width="33.5" height="1" fill="url(#g0)" opacity="0.293"/><rect x="153.5" y="151" width="48.4" height="1" fill="#fff" opacity="0.0123"/><rect x="144.6" y="151" width="64.5" height="1" fill="url(#g0)" opacity="0.046"/><rect x="161.9" y="151" width="29.3" height="1" fill="url(#g0)" opacity="0.32"/><rect x="153.5" y="152" width="48.4" height="1" fill="#fff" opacity="0.0148"/><rect x="145.0" y="152" width="63.8" height="1" fill="url(#g0)" opacity="0.072"/><rect x="162.7" y="152" width="29.0" height="1" fill="url(#g0)" opacity="0.312"/><rect x="153.5" y="153" width="48.4" height="1" fill="#fff" opacity="0.0229"/><rect x="143.7" y="153" width="66.4" height="1" fill="url(#g0)" opacity="0.066"/><rect x="161.8" y="153" width="30.2" height="1" fill="url(#g0)" opacity="0.291"/><rect x="153.5" y="154" width="48.4" height="1" fill="#fff" opacity="0.00786"/><rect x="143.8" y="154" width="66.1" height="1" fill="url(#g0)" opacity="0.041"/><rect x="161.9" y="154" width="30.1" height="1" fill="url(#g0)" opacity="0.261"/><rect x="153.5" y="155" width="48.4" height="1" fill="#fff" opacity="0.00955"/><rect x="142.9" y="155" width="68.1" height="1" fill="url(#g0)" opacity="0.047"/><rect x="160.9" y="155" width="31.0" height="1" fill="url(#g0)" opacity="0.309"/><rect x="153.5" y="156" width="48.4" height="1" fill="#fff" opacity="0.00926"/><rect x="148.7" y="156" width="56.4" height="1" fill="url(#g0)" opacity="0.041"/><rect x="163.7" y="156" width="25.6" height="1" fill="url(#g0)" opacity="0.293"/><rect x="153.5" y="157" width="48.4" height="1" fill="#fff" opacity="0.00898"/><rect x="147.5" y="157" width="58.8" height="1" fill="url(#g0)" opacity="0.039"/><rect x="163.8" y="157" width="26.7" height="1" fill="url(#g0)" opacity="0.255"/><rect x="153.5" y="158" width="48.4" height="1" fill="#fff" opacity="0.0191"/><rect x="147.2" y="158" width="59.3" height="1" fill="url(#g0)" opacity="0.044"/><rect x="163.0" y="158" width="27.0" height="1" fill="url(#g0)" opacity="0.261"/><rect x="153.5" y="159" width="48.4" height="1" fill="#fff" opacity="0.0109"/><rect x="148.0" y="159" width="57.8" height="1" fill="url(#g0)" opacity="0.038"/><rect x="164.1" y="159" width="26.3" height="1" fill="url(#g0)" opacity="0.252"/><rect x="153.5" y="160" width="48.4" height="1" fill="#fff" opacity="0.00813"/><rect x="147.2" y="160" width="59.4" height="1" fill="url(#g0)" opacity="0.06"/><rect x="163.1" y="160" width="27.0" height="1" fill="url(#g0)" opacity="0.245"/><rect x="153.5" y="161" width="48.4" height="1" fill="#fff" opacity="0.00627"/><rect x="146.1" y="161" width="61.6" height="1" fill="url(#g0)" opacity="0.038"/><rect x="163.2" y="161" width="28.0" height="1" fill="url(#g0)" opacity="0.246"/><rect x="153.5" y="162" width="48.4" height="1" fill="#fff" opacity="0.0128"/><rect x="145.9" y="162" width="62.0" height="1" fill="url(#g0)" opacity="0.039"/><rect x="163.3" y="162" width="28.2" height="1" fill="url(#g0)" opacity="0.262"/><rect x="153.5" y="163" width="48.4" height="1" fill="#fff" opacity="0.00727"/><rect x="150.3" y="163" width="53.1" height="1" fill="url(#g0)" opacity="0.052"/><rect x="164.1" y="163" width="24.1" height="1" fill="url(#g0)" opacity="0.202"/><rect x="153.5" y="164" width="48.4" height="1" fill="#fff" opacity="0.00699"/><rect x="152.8" y="164" width="48.2" height="1" fill="url(#g0)" opacity="0.032"/><rect x="165.9" y="164" width="21.9" height="1" fill="url(#g0)" opacity="0.213"/><rect x="153.5" y="165" width="48.4" height="1" fill="#fff" opacity="0.00872"/><rect x="150.3" y="165" width="53.3" height="1" fill="url(#g0)" opacity="0.042"/><rect x="164.5" y="165" width="24.2" height="1" fill="url(#g0)" opacity="0.199"/><rect x="153.5" y="166" width="48.4" height="1" fill="#fff" opacity="0.0141"/><rect x="150.7" y="166" width="52.5" height="1" fill="url(#g0)" opacity="0.042"/><rect x="164.3" y="166" width="23.8" height="1" fill="url(#g0)" opacity="0.171"/><rect x="150.3" y="167" width="53.1" height="1" fill="url(#g0)" opacity="0.057"/><rect x="165.1" y="167" width="24.2" height="1" fill="url(#g0)" opacity="0.217"/><rect x="153.5" y="168" width="48.4" height="1" fill="#fff" opacity="0.00761"/><rect x="149.1" y="168" width="55.7" height="1" fill="url(#g0)" opacity="0.049"/><rect x="163.5" y="168" width="25.3" height="1" fill="url(#g0)" opacity="0.184"/><rect x="153.5" y="169" width="48.4" height="1" fill="#fff" opacity="0.00557"/><rect x="150.7" y="169" width="52.4" height="1" fill="url(#g0)" opacity="0.029"/><rect x="165.2" y="169" width="23.8" height="1" fill="url(#g0)" opacity="0.205"/><rect x="153.5" y="170" width="48.4" height="1" fill="#fff" opacity="0.00898"/><rect x="155.6" y="170" width="42.6" height="1" fill="url(#g0)" opacity="0.035"/><rect x="167.8" y="170" width="19.4" height="1" fill="url(#g0)" opacity="0.197"/><rect x="151.5" y="171" width="50.9" height="1" fill="url(#g0)" opacity="0.038"/><rect x="164.7" y="171" width="23.1" height="1" fill="url(#g0)" opacity="0.161"/><rect x="153.5" y="171" width="48.4" height="1" fill="#fff" opacity="0.204"/><rect x="115.4" y="171" width="123.0" height="1" fill="url(#g0)" opacity="0.12"/><rect x="148.4" y="171" width="55.9" height="1" fill="url(#g0)" opacity="0.386"/><rect x="153.5" y="172" width="48.4" height="1" fill="#fff" opacity="0.0901"/><rect x="126.3" y="172" width="101.1" height="1" fill="url(#g0)" opacity="0.071"/><rect x="154.5" y="172" width="46.0" height="1" fill="url(#g0)" opacity="0.396"/><rect x="153.5" y="173" width="48.4" height="1" fill="#fff" opacity="0.0925"/><rect x="133.5" y="173" width="86.7" height="1" fill="url(#g0)" opacity="0.092"/><rect x="157.8" y="173" width="39.4" height="1" fill="url(#g0)" opacity="0.304"/><rect x="153.5" y="174" width="48.4" height="1" fill="#fff" opacity="0.0316"/><rect x="131.3" y="174" width="91.3" height="1" fill="url(#g0)" opacity="0.08"/><rect x="156.9" y="174" width="41.5" height="1" fill="url(#g0)" opacity="0.376"/><rect x="153.5" y="175" width="48.4" height="1" fill="#fff" opacity="0.0249"/><rect x="139.2" y="175" width="75.3" height="1" fill="url(#g0)" opacity="0.07"/><rect x="159.2" y="175" width="34.2" height="1" fill="url(#g0)" opacity="0.364"/><rect x="153.5" y="176" width="48.4" height="1" fill="#fff" opacity="0.00889"/><rect x="141.6" y="176" width="70.7" height="1" fill="url(#g0)" opacity="0.073"/><rect x="161.4" y="176" width="32.1" height="1" fill="url(#g0)" opacity="0.385"/><rect x="153.5" y="177" width="48.4" height="1" fill="#fff" opacity="0.00782"/><rect x="140.0" y="177" width="73.9" height="1" fill="url(#g0)" opacity="0.071"/><rect x="160.7" y="177" width="33.6" height="1" fill="url(#g0)" opacity="0.289"/><rect x="153.5" y="178" width="48.4" height="1" fill="#fff" opacity="0.0168"/><rect x="141.2" y="178" width="71.4" height="1" fill="url(#g0)" opacity="0.047"/><rect x="160.0" y="178" width="32.4" height="1" fill="url(#g0)" opacity="0.332"/><rect x="153.5" y="179" width="48.4" height="1" fill="#fff" opacity="0.00849"/><rect x="138.2" y="179" width="77.3" height="1" fill="url(#g0)" opacity="0.065"/><rect x="159.2" y="179" width="35.1" height="1" fill="url(#g0)" opacity="0.295"/><rect x="153.5" y="180" width="48.4" height="1" fill="#fff" opacity="0.00916"/><rect x="140.2" y="180" width="73.3" height="1" fill="url(#g0)" opacity="0.04"/><rect x="160.0" y="180" width="33.3" height="1" fill="url(#g0)" opacity="0.299"/><rect x="153.5" y="181" width="48.4" height="1" fill="#fff" opacity="0.00964"/><rect x="144.1" y="181" width="65.6" height="1" fill="url(#g0)" opacity="0.054"/><rect x="161.9" y="181" width="29.8" height="1" fill="url(#g0)" opacity="0.265"/><rect x="153.5" y="182" width="48.4" height="1" fill="#fff" opacity="0.00708"/><rect x="147.5" y="182" width="58.7" height="1" fill="url(#g0)" opacity="0.06"/><rect x="164.3" y="182" width="26.7" height="1" fill="url(#g0)" opacity="0.224"/><rect x="145.3" y="183" width="63.1" height="1" fill="url(#g0)" opacity="0.041"/><rect x="162.9" y="183" width="28.7" height="1" fill="url(#g0)" opacity="0.232"/><rect x="153.5" y="184" width="48.4" height="1" fill="#fff" opacity="0.0124"/><rect x="148.6" y="184" width="56.5" height="1" fill="url(#g0)" opacity="0.042"/><rect x="164.8" y="184" width="25.7" height="1" fill="url(#g0)" opacity="0.208"/><rect x="153.5" y="185" width="48.4" height="1" fill="#fff" opacity="0.00844"/><rect x="151.9" y="185" width="50.0" height="1" fill="url(#g0)" opacity="0.043"/><rect x="165.6" y="185" width="22.7" height="1" fill="url(#g0)" opacity="0.192"/><rect x="153.5" y="186" width="48.4" height="1" fill="#fff" opacity="0.0126"/><rect x="153.6" y="186" width="46.7" height="1" fill="url(#g0)" opacity="0.03"/><rect x="166.6" y="186" width="21.2" height="1" fill="url(#g0)" opacity="0.193"/><rect x="153.5" y="187" width="48.4" height="1" fill="#fff" opacity="0.0085"/><rect x="152.1" y="187" width="49.6" height="1" fill="url(#g0)" opacity="0.028"/><rect x="165.4" y="187" width="22.6" height="1" fill="url(#g0)" opacity="0.168"/><rect x="153.5" y="187" width="48.4" height="1" fill="#fff" opacity="0.115"/><rect x="122.4" y="187" width="109.1" height="1" fill="url(#g0)" opacity="0.13"/><rect x="151.6" y="187" width="49.6" height="1" fill="url(#g0)" opacity="0.487"/><rect x="153.5" y="188" width="48.4" height="1" fill="#fff" opacity="0.0687"/><rect x="130.5" y="188" width="92.8" height="1" fill="url(#g0)" opacity="0.075"/><rect x="156.1" y="188" width="42.2" height="1" fill="url(#g0)" opacity="0.466"/><rect x="153.5" y="189" width="48.4" height="1" fill="#fff" opacity="0.0546"/><rect x="124.6" y="189" width="104.5" height="1" fill="url(#g0)" opacity="0.074"/><rect x="153.2" y="189" width="47.5" height="1" fill="url(#g0)" opacity="0.452"/><rect x="153.5" y="190" width="48.4" height="1" fill="#fff" opacity="0.0243"/><rect x="136.3" y="190" width="81.1" height="1" fill="url(#g0)" opacity="0.089"/><rect x="159.0" y="190" width="36.9" height="1" fill="url(#g0)" opacity="0.408"/><rect x="153.5" y="191" width="48.4" height="1" fill="#fff" opacity="0.0158"/><rect x="139.0" y="191" width="75.8" height="1" fill="url(#g0)" opacity="0.1"/><rect x="159.9" y="191" width="34.5" height="1" fill="url(#g0)" opacity="0.395"/><rect x="153.5" y="192" width="48.4" height="1" fill="#fff" opacity="0.0386"/><rect x="136.8" y="192" width="80.3" height="1" fill="url(#g0)" opacity="0.09"/><rect x="158.7" y="192" width="36.5" height="1" fill="url(#g0)" opacity="0.329"/><rect x="153.5" y="193" width="48.4" height="1" fill="#fff" opacity="0.0121"/><rect x="138.4" y="193" width="77.1" height="1" fill="url(#g0)" opacity="0.072"/><rect x="158.8" y="193" width="35.0" height="1" fill="url(#g0)" opacity="0.304"/><rect x="153.5" y="194" width="48.4" height="1" fill="#fff" opacity="0.0229"/><rect x="142.8" y="194" width="68.2" height="1" fill="url(#g0)" opacity="0.063"/><rect x="160.7" y="194" width="31.0" height="1" fill="url(#g0)" opacity="0.269"/><rect x="153.5" y="195" width="48.4" height="1" fill="#fff" opacity="0.00903"/><rect x="142.1" y="195" width="69.6" height="1" fill="url(#g0)" opacity="0.063"/><rect x="161.4" y="195" width="31.6" height="1" fill="url(#g0)" opacity="0.342"/><rect x="153.5" y="196" width="48.4" height="1" fill="#fff" opacity="0.0125"/><rect x="142.2" y="196" width="69.3" height="1" fill="url(#g0)" opacity="0.077"/><rect x="161.2" y="196" width="31.5" height="1" fill="url(#g0)" opacity="0.3"/><rect x="153.5" y="197" width="48.4" height="1" fill="#fff" opacity="0.013"/><rect x="148.4" y="197" width="57.0" height="1" fill="url(#g0)" opacity="0.066"/><rect x="164.4" y="197" width="25.9" height="1" fill="url(#g0)" opacity="0.282"/><rect x="153.5" y="198" width="48.4" height="1" fill="#fff" opacity="0.00924"/><rect x="148.6" y="198" width="56.7" height="1" fill="url(#g0)" opacity="0.05"/><rect x="163.8" y="198" width="25.8" height="1" fill="url(#g0)" opacity="0.212"/><rect x="145.4" y="199" width="62.9" height="1" fill="url(#g0)" opacity="0.048"/><rect x="163.1" y="199" width="28.6" height="1" fill="url(#g0)" opacity="0.272"/><rect x="153.5" y="200" width="48.4" height="1" fill="#fff" opacity="0.00465"/><rect x="150.0" y="200" width="53.9" height="1" fill="url(#g0)" opacity="0.054"/><rect x="163.9" y="200" width="24.5" height="1" fill="url(#g0)" opacity="0.207"/><rect x="153.5" y="201" width="48.4" height="1" fill="#fff" opacity="0.0154"/><rect x="150.8" y="201" width="52.3" height="1" fill="url(#g0)" opacity="0.051"/><rect x="164.3" y="201" width="23.8" height="1" fill="url(#g0)" opacity="0.177"/><rect x="153.5" y="202" width="48.4" height="1" fill="#fff" opacity="0.0138"/><rect x="148.3" y="202" width="57.1" height="1" fill="url(#g0)" opacity="0.046"/><rect x="163.3" y="202" width="26.0" height="1" fill="url(#g0)" opacity="0.179"/><rect x="153.5" y="203" width="48.4" height="1" fill="#fff" opacity="0.00552"/><rect x="151.3" y="203" width="51.2" height="1" fill="url(#g0)" opacity="0.037"/><rect x="165.9" y="203" width="23.3" height="1" fill="url(#g0)" opacity="0.162"/><rect x="153.5" y="204" width="48.4" height="1" fill="#fff" opacity="0.005"/><rect x="151.8" y="204" width="50.1" height="1" fill="url(#g0)" opacity="0.042"/><rect x="165.6" y="204" width="22.8" height="1" fill="url(#g0)" opacity="0.182"/></g></g><g clip-path="url(#cb3)"><g filter="url(#reds)"><rect x="207.4" y="30.3" width="52.0" height="175.9" fill="#000"/><rect x="209.4" y="32" width="48.0" height="1" fill="#fff" opacity="0.125"/><rect x="134.9" y="32" width="193.9" height="1" fill="url(#g0)" opacity="0.22"/><rect x="187.0" y="32" width="88.1" height="1" fill="url(#g2)"/><rect x="209.4" y="33" width="48.0" height="1" fill="#fff" opacity="0.11"/><rect x="148.6" y="33" width="166.5" height="1" fill="url(#g0)" opacity="0.12"/><rect x="194.5" y="33" width="75.7" height="1" fill="url(#g1)"/><rect x="209.4" y="34" width="48.0" height="1" fill="#fff" opacity="0.403"/><rect x="142.1" y="34" width="179.4" height="1" fill="url(#g0)" opacity="0.22"/><rect x="191.6" y="34" width="81.6" height="1" fill="url(#g1)"/><rect x="209.4" y="35" width="48.0" height="1" fill="#fff" opacity="0.2"/><rect x="152.9" y="35" width="157.8" height="1" fill="url(#g0)" opacity="0.18"/><rect x="196.6" y="35" width="71.7" height="1" fill="url(#g1)"/><rect x="209.4" y="36" width="48.0" height="1" fill="#fff" opacity="0.176"/><rect x="157.3" y="36" width="149.1" height="1" fill="url(#g0)" opacity="0.13"/><rect x="197.6" y="36" width="67.8" height="1" fill="url(#g0)"/><rect x="209.4" y="37" width="48.0" height="1" fill="#fff" opacity="0.217"/><rect x="161.2" y="37" width="141.2" height="1" fill="url(#g0)" opacity="0.15"/><rect x="200.1" y="37" width="64.2" height="1" fill="url(#g1)"/><rect x="209.4" y="38" width="48.0" height="1" fill="#fff" opacity="0.206"/><rect x="145.9" y="38" width="171.9" height="1" fill="url(#g0)" opacity="0.18"/><rect x="192.0" y="38" width="78.2" height="1" fill="url(#g0)"/><rect x="209.4" y="39" width="48.0" height="1" fill="#fff" opacity="0.329"/><rect x="167.9" y="39" width="127.9" height="1" fill="url(#g0)" opacity="0.18"/><rect x="203.4" y="39" width="58.1" height="1" fill="url(#g0)"/><rect x="209.4" y="40" width="48.0" height="1" fill="#fff" opacity="0.112"/><rect x="153.4" y="40" width="156.8" height="1" fill="url(#g0)" opacity="0.15"/><rect x="195.8" y="40" width="71.3" height="1" fill="url(#g1)"/><rect x="209.4" y="41" width="48.0" height="1" fill="#fff" opacity="0.105"/><rect x="164.8" y="41" width="134.0" height="1" fill="url(#g0)" opacity="0.12"/><rect x="202.2" y="41" width="60.9" height="1" fill="url(#g0)"/><rect x="209.4" y="42" width="48.0" height="1" fill="#fff" opacity="0.123"/><rect x="155.2" y="42" width="153.2" height="1" fill="url(#g0)" opacity="0.18"/><rect x="197.4" y="42" width="69.6" height="1" fill="url(#g0)"/><rect x="209.4" y="43" width="48.0" height="1" fill="#fff" opacity="0.114"/><rect x="165.1" y="43" width="133.4" height="1" fill="url(#g0)" opacity="0.14"/><rect x="202.0" y="43" width="60.6" height="1" fill="url(#g0)"/><rect x="209.4" y="44" width="48.0" height="1" fill="#fff" opacity="0.0632"/><rect x="170.9" y="44" width="121.8" height="1" fill="url(#g0)" opacity="0.2"/><rect x="203.8" y="44" width="55.4" height="1" fill="url(#g0)"/><rect x="209.4" y="45" width="48.0" height="1" fill="#fff" opacity="0.0966"/><rect x="164.7" y="45" width="134.3" height="1" fill="url(#g0)" opacity="0.18"/><rect x="201.1" y="45" width="61.0" height="1" fill="url(#g0)"/><rect x="209.4" y="46" width="48.0" height="1" fill="#fff" opacity="0.116"/><rect x="174.7" y="46" width="114.3" height="1" fill="url(#g0)" opacity="0.2"/><rect x="206.1" y="46" width="52.0" height="1" fill="url(#g0)" opacity="0.964"/><rect x="209.4" y="47" width="48.0" height="1" fill="#fff" opacity="0.0876"/><rect x="166.5" y="47" width="130.7" height="1" fill="url(#g0)" opacity="0.22"/><rect x="202.6" y="47" width="59.4" height="1" fill="url(#g0)"/><rect x="209.4" y="48" width="48.0" height="1" fill="#fff" opacity="0.188"/><rect x="172.8" y="48" width="118.0" height="1" fill="url(#g0)" opacity="0.14"/><rect x="204.9" y="48" width="53.6" height="1" fill="url(#g0)" opacity="0.855"/><rect x="209.4" y="49" width="48.0" height="1" fill="#fff" opacity="0.0502"/><rect x="159.4" y="49" width="144.8" height="1" fill="url(#g0)" opacity="0.19"/><rect x="198.3" y="49" width="65.8" height="1" fill="url(#g0)"/><rect x="209.4" y="50" width="48.0" height="1" fill="#fff" opacity="0.106"/><rect x="166.9" y="50" width="129.9" height="1" fill="url(#g0)" opacity="0.13"/><rect x="201.6" y="50" width="59.1" height="1" fill="url(#g0)" opacity="0.885"/><rect x="209.4" y="51" width="48.0" height="1" fill="#fff" opacity="0.0798"/><rect x="167.2" y="51" width="129.2" height="1" fill="url(#g0)" opacity="0.22"/><rect x="202.6" y="51" width="58.7" height="1" fill="url(#g0)"/><rect x="209.4" y="52" width="48.0" height="1" fill="#fff" opacity="0.132"/><rect x="164.2" y="52" width="135.2" height="1" fill="url(#g0)" opacity="0.2"/><rect x="201.5" y="52" width="61.4" height="1" fill="url(#g0)" opacity="0.887"/><rect x="209.4" y="53" width="48.0" height="1" fill="#fff" opacity="0.0608"/><rect x="173.3" y="53" width="117.1" height="1" fill="url(#g0)" opacity="0.15"/><rect x="204.9" y="53" width="53.2" height="1" fill="url(#g0)"/><rect x="209.4" y="54" width="48.0" height="1" fill="#fff" opacity="0.074"/><rect x="176.7" y="54" width="110.3" height="1" fill="url(#g0)" opacity="0.1"/><rect x="206.3" y="54" width="50.1" height="1" fill="url(#g0)" opacity="0.797"/><rect x="209.4" y="55" width="48.0" height="1" fill="#fff" opacity="0.0721"/><rect x="172.0" y="55" width="119.6" height="1" fill="url(#g0)" opacity="0.15"/><rect x="205.2" y="55" width="54.4" height="1" fill="url(#g0)" opacity="0.783"/><rect x="209.4" y="56" width="48.0" height="1" fill="#fff" opacity="0.0561"/><rect x="167.4" y="56" width="128.8" height="1" fill="url(#g0)" opacity="0.11"/><rect x="202.7" y="56" width="58.5" height="1" fill="url(#g0)" opacity="0.83"/><rect x="209.4" y="57" width="48.0" height="1" fill="#fff" opacity="0.0887"/><rect x="165.5" y="57" width="132.7" height="1" fill="url(#g0)" opacity="0.12"/><rect x="202.0" y="57" width="60.3" height="1" fill="url(#g0)" opacity="0.986"/><rect x="209.4" y="58" width="48.0" height="1" fill="#fff" opacity="0.0265"/><rect x="170.3" y="58" width="123.1" height="1" fill="url(#g0)" opacity="0.18"/><rect x="204.1" y="58" width="56.0" height="1" fill="url(#g0)" opacity="0.825"/><rect x="209.4" y="59" width="48.0" height="1" fill="#fff" opacity="0.0257"/><rect x="176.4" y="59" width="110.9" height="1" fill="url(#g0)" opacity="0.13"/><rect x="206.9" y="59" width="50.4" height="1" fill="url(#g0)" opacity="0.811"/><rect x="209.4" y="60" width="48.0" height="1" fill="#fff" opacity="0.025"/><rect x="176.7" y="60" width="110.2" height="1" fill="url(#g0)" opacity="0.19"/><rect x="207.4" y="60" width="50.1" height="1" fill="url(#g0)" opacity="0.92"/><rect x="209.4" y="61" width="48.0" height="1" fill="#fff" opacity="0.133"/><rect x="172.5" y="61" width="118.6" height="1" fill="url(#g0)" opacity="0.13"/><rect x="205.7" y="61" width="53.9" height="1" fill="url(#g0)" opacity="0.736"/><rect x="209.4" y="62" width="48.0" height="1" fill="#fff" opacity="0.0234"/><rect x="168.7" y="62" width="126.3" height="1" fill="url(#g0)" opacity="0.17"/><rect x="203.8" y="62" width="57.4" height="1" fill="url(#g0)" opacity="0.973"/><rect x="209.4" y="63" width="48.0" height="1" fill="#fff" opacity="0.0736"/><rect x="183.1" y="63" width="97.4" height="1" fill="url(#g0)" opacity="0.12"/><rect x="209.1" y="63" width="44.3" height="1" fill="url(#g0)" opacity="0.976"/><rect x="209.4" y="64" width="48.0" height="1" fill="#fff" opacity="0.0328"/><rect x="175.7" y="64" width="112.3" height="1" fill="url(#g0)" opacity="0.13"/><rect x="206.1" y="64" width="51.0" height="1" fill="url(#g0)" opacity="0.772"/><rect x="209.4" y="65" width="48.0" height="1" fill="#fff" opacity="0.0422"/><rect x="173.8" y="65" width="116.1" height="1" fill="url(#g0)" opacity="0.15"/><rect x="205.7" y="65" width="52.8" height="1" fill="url(#g0)" opacity="0.79"/><rect x="209.4" y="66" width="48.0" height="1" fill="#fff" opacity="0.0508"/><rect x="173.4" y="66" width="116.9" height="1" fill="url(#g0)" opacity="0.14"/><rect x="205.8" y="66" width="53.1" height="1" fill="url(#g0)" opacity="0.779"/><rect x="209.4" y="67" width="48.0" height="1" fill="#fff" opacity="0.108"/><rect x="175.5" y="67" width="112.6" height="1" fill="url(#g0)" opacity="0.12"/><rect x="206.3" y="67" width="51.2" height="1" fill="url(#g0)" opacity="0.683"/><rect x="209.4" y="68" width="48.0" height="1" fill="#fff" opacity="0.0469"/><rect x="182.1" y="68" width="99.5" height="1" fill="url(#g0)" opacity="0.14"/><rect x="208.4" y="68" width="45.2" height="1" fill="url(#g0)" opacity="0.812"/><rect x="209.4" y="69" width="48.0" height="1" fill="#fff" opacity="0.0585"/><rect x="174.7" y="69" width="114.3" height="1" fill="url(#g0)" opacity="0.16"/><rect x="205.3" y="69" width="51.9" height="1" fill="url(#g0)" opacity="0.829"/><rect x="209.4" y="70" width="48.0" height="1" fill="#fff" opacity="0.0177"/><rect x="171.8" y="70" width="120.0" height="1" fill="url(#g0)" opacity="0.11"/><rect x="204.8" y="70" width="54.5" height="1" fill="url(#g0)" opacity="0.782"/><rect x="209.4" y="71" width="48.0" height="1" fill="#fff" opacity="0.0349"/><rect x="184.3" y="71" width="95.0" height="1" fill="url(#g0)" opacity="0.15"/><rect x="209.8" y="71" width="43.2" height="1" fill="url(#g0)" opacity="0.797"/><rect x="209.4" y="72" width="48.0" height="1" fill="#fff" opacity="0.0343"/><rect x="173.8" y="72" width="116.0" height="1" fill="url(#g0)" opacity="0.13"/><rect x="205.5" y="72" width="52.7" height="1" fill="url(#g0)" opacity="0.842"/><rect x="209.4" y="73" width="48.0" height="1" fill="#fff" opacity="0.0928"/><rect x="181.3" y="73" width="101.0" height="1" fill="url(#g0)" opacity="0.18"/><rect x="208.4" y="73" width="45.9" height="1" fill="url(#g0)" opacity="0.809"/><rect x="209.4" y="74" width="48.0" height="1" fill="#fff" opacity="0.0415"/><rect x="182.4" y="74" width="98.8" height="1" fill="url(#g0)" opacity="0.19"/><rect x="209.1" y="74" width="44.9" height="1" fill="url(#g0)" opacity="0.861"/><rect x="209.4" y="75" width="48.0" height="1" fill="#fff" opacity="0.0245"/><rect x="177.5" y="75" width="108.6" height="1" fill="url(#g0)" opacity="0.15"/><rect x="207.6" y="75" width="49.3" height="1" fill="url(#g0)" opacity="0.673"/><rect x="209.4" y="76" width="48.0" height="1" fill="#fff" opacity="0.0401"/><rect x="183.7" y="76" width="96.3" height="1" fill="url(#g0)" opacity="0.13"/><rect x="210.1" y="76" width="43.8" height="1" fill="url(#g0)" opacity="0.805"/><rect x="209.4" y="77" width="48.0" height="1" fill="#fff" opacity="0.0393"/><rect x="175.1" y="77" width="113.4" height="1" fill="url(#g0)" opacity="0.11"/><rect x="205.3" y="77" width="51.6" height="1" fill="url(#g0)" opacity="0.862"/><rect x="209.4" y="78" width="48.0" height="1" fill="#fff" opacity="0.0502"/><rect x="186.0" y="78" width="91.7" height="1" fill="url(#g0)" opacity="0.16"/><rect x="210.5" y="78" width="41.7" height="1" fill="url(#g0)" opacity="0.793"/><rect x="209.4" y="79" width="48.0" height="1" fill="#fff" opacity="0.0835"/><rect x="185.5" y="79" width="92.7" height="1" fill="url(#g0)" opacity="0.14"/><rect x="210.3" y="79" width="42.2" height="1" fill="url(#g0)" opacity="0.768"/><rect x="209.4" y="80" width="48.0" height="1" fill="#fff" opacity="0.0372"/><rect x="177.5" y="80" width="108.7" height="1" fill="url(#g0)" opacity="0.096"/><rect x="207.8" y="80" width="49.4" height="1" fill="url(#g0)" opacity="0.679"/><rect x="209.4" y="81" width="48.0" height="1" fill="#fff" opacity="0.0146"/><rect x="189.2" y="81" width="85.3" height="1" fill="url(#g0)" opacity="0.16"/><rect x="212.4" y="81" width="38.8" height="1" fill="url(#g0)" opacity="0.692"/><rect x="209.4" y="82" width="48.0" height="1" fill="#fff" opacity="0.0788"/><rect x="180.9" y="82" width="101.9" height="1" fill="url(#g0)" opacity="0.089"/><rect x="208.2" y="82" width="46.3" height="1" fill="url(#g0)" opacity="0.659"/><rect x="209.4" y="83" width="48.0" height="1" fill="#fff" opacity="0.0456"/><rect x="178.8" y="83" width="106.1" height="1" fill="url(#g0)" opacity="0.16"/><rect x="207.0" y="83" width="48.2" height="1" fill="url(#g0)" opacity="0.784"/><rect x="209.4" y="84" width="48.0" height="1" fill="#fff" opacity="0.0275"/><rect x="185.1" y="84" width="93.4" height="1" fill="url(#g0)" opacity="0.11"/><rect x="211.4" y="84" width="42.5" height="1" fill="url(#g0)" opacity="0.72"/><rect x="209.4" y="85" width="48.0" height="1" fill="#fff" opacity="0.0135"/><rect x="190.1" y="85" width="83.5" height="1" fill="url(#g0)" opacity="0.1"/><rect x="212.2" y="85" width="38.0" height="1" fill="url(#g0)" opacity="0.635"/><rect x="209.4" y="86" width="48.0" height="1" fill="#fff" opacity="0.0264"/><rect x="187.0" y="86" width="89.7" height="1" fill="url(#g0)" opacity="0.12"/><rect x="211.4" y="86" width="40.8" height="1" fill="url(#g0)" opacity="0.722"/><rect x="209.4" y="87" width="48.0" height="1" fill="#fff" opacity="0.0549"/><rect x="183.2" y="87" width="97.2" height="1" fill="url(#g0)" opacity="0.16"/><rect x="210.4" y="87" width="44.2" height="1" fill="url(#g0)" opacity="0.673"/><rect x="209.4" y="88" width="48.0" height="1" fill="#fff" opacity="0.0126"/><rect x="189.3" y="88" width="85.1" height="1" fill="url(#g0)" opacity="0.11"/><rect x="211.7" y="88" width="38.7" height="1" fill="url(#g0)" opacity="0.619"/><rect x="209.4" y="89" width="48.0" height="1" fill="#fff" opacity="0.0185"/><rect x="186.9" y="89" width="89.9" height="1" fill="url(#g0)" opacity="0.087"/><rect x="211.8" y="89" width="40.9" height="1" fill="url(#g0)" opacity="0.665"/><rect x="209.4" y="90" width="48.0" height="1" fill="#fff" opacity="0.0181"/><rect x="192.2" y="90" width="79.2" height="1" fill="url(#g0)" opacity="0.14"/><rect x="213.2" y="90" width="36.0" height="1" fill="url(#g0)" opacity="0.783"/><rect x="209.4" y="91" width="48.0" height="1" fill="#fff" opacity="0.0236"/><rect x="187.6" y="91" width="88.5" height="1" fill="url(#g0)" opacity="0.12"/><rect x="211.3" y="91" width="40.2" height="1" fill="url(#g0)" opacity="0.622"/><rect x="209.4" y="92" width="48.0" height="1" fill="#fff" opacity="0.0172"/><rect x="186.3" y="92" width="91.0" height="1" fill="url(#g0)" opacity="0.16"/><rect x="211.2" y="92" width="41.3" height="1" fill="url(#g0)" opacity="0.711"/><rect x="209.4" y="93" width="48.0" height="1" fill="#fff" opacity="0.028"/><rect x="192.9" y="93" width="77.8" height="1" fill="url(#g0)" opacity="0.18"/><rect x="214.7" y="93" width="35.3" height="1" fill="url(#g0)" opacity="0.767"/><rect x="209.4" y="94" width="48.0" height="1" fill="#fff" opacity="0.0219"/><rect x="193.3" y="94" width="77.0" height="1" fill="url(#g0)" opacity="0.099"/><rect x="213.5" y="94" width="35.0" height="1" fill="url(#g0)" opacity="0.635"/><rect x="209.4" y="95" width="48.0" height="1" fill="#fff" opacity="0.0107"/><rect x="192.0" y="95" width="79.7" height="1" fill="url(#g0)" opacity="0.14"/><rect x="213.6" y="95" width="36.2" height="1" fill="url(#g0)" opacity="0.772"/><rect x="209.4" y="96" width="48.0" height="1" fill="#fff" opacity="0.0104"/><rect x="194.7" y="96" width="74.2" height="1" fill="url(#g0)" opacity="0.12"/><rect x="215.2" y="96" width="33.7" height="1" fill="url(#g0)" opacity="0.649"/><rect x="209.4" y="97" width="48.0" height="1" fill="#fff" opacity="0.0252"/><rect x="186.2" y="97" width="91.2" height="1" fill="url(#g0)" opacity="0.11"/><rect x="210.9" y="97" width="41.5" height="1" fill="url(#g0)" opacity="0.681"/><rect x="209.4" y="98" width="48.0" height="1" fill="#fff" opacity="0.0417"/><rect x="182.9" y="98" width="97.8" height="1" fill="url(#g0)" opacity="0.15"/><rect x="210.0" y="98" width="44.4" height="1" fill="url(#g0)" opacity="0.63"/><rect x="209.4" y="99" width="48.0" height="1" fill="#fff" opacity="0.00952"/><rect x="184.3" y="99" width="95.1" height="1" fill="url(#g0)" opacity="0.13"/><rect x="209.8" y="99" width="43.2" height="1" fill="url(#g0)" opacity="0.721"/><rect x="209.4" y="100" width="48.0" height="1" fill="#fff" opacity="0.0393"/><rect x="187.3" y="100" width="89.1" height="1" fill="url(#g0)" opacity="0.16"/><rect x="212.4" y="100" width="40.5" height="1" fill="url(#g0)" opacity="0.735"/><rect x="209.4" y="101" width="48.0" height="1" fill="#fff" opacity="0.00896"/><rect x="195.2" y="101" width="73.2" height="1" fill="url(#g0)" opacity="0.09"/><rect x="215.8" y="101" width="33.3" height="1" fill="url(#g0)" opacity="0.696"/><rect x="209.4" y="102" width="48.0" height="1" fill="#fff" opacity="0.0479"/><rect x="192.6" y="102" width="78.5" height="1" fill="url(#g0)" opacity="0.11"/><rect x="214.1" y="102" width="35.7" height="1" fill="url(#g0)" opacity="0.677"/><rect x="209.4" y="103" width="48.0" height="1" fill="#fff" opacity="0.0468"/><rect x="196.9" y="103" width="69.8" height="1" fill="url(#g0)" opacity="0.14"/><rect x="216.0" y="103" width="31.7" height="1" fill="url(#g0)" opacity="0.717"/><rect x="209.4" y="104" width="48.0" height="1" fill="#fff" opacity="0.0353"/><rect x="194.4" y="104" width="74.9" height="1" fill="url(#g0)" opacity="0.096"/><rect x="214.6" y="104" width="34.0" height="1" fill="url(#g0)" opacity="0.731"/><rect x="209.4" y="105" width="48.0" height="1" fill="#fff" opacity="0.0263"/><rect x="194.3" y="105" width="75.0" height="1" fill="url(#g0)" opacity="0.15"/><rect x="214.1" y="105" width="34.1" height="1" fill="url(#g0)" opacity="0.704"/><rect x="209.4" y="106" width="48.0" height="1" fill="#fff" opacity="0.0197"/><rect x="186.8" y="106" width="90.0" height="1" fill="url(#g0)" opacity="0.14"/><rect x="211.0" y="106" width="40.9" height="1" fill="url(#g0)" opacity="0.641"/><rect x="209.4" y="107" width="48.0" height="1" fill="#fff" opacity="0.0422"/><rect x="194.1" y="107" width="75.5" height="1" fill="url(#g0)" opacity="0.16"/><rect x="214.8" y="107" width="34.3" height="1" fill="url(#g0)" opacity="0.657"/><rect x="209.4" y="108" width="48.0" height="1" fill="#fff" opacity="0.0243"/><rect x="189.6" y="108" width="84.5" height="1" fill="url(#g0)" opacity="0.1"/><rect x="212.7" y="108" width="38.4" height="1" fill="url(#g0)" opacity="0.532"/><rect x="209.4" y="109" width="48.0" height="1" fill="#fff" opacity="0.0145"/><rect x="196.0" y="109" width="71.6" height="1" fill="url(#g0)" opacity="0.13"/><rect x="215.0" y="109" width="32.5" height="1" fill="url(#g0)" opacity="0.656"/><rect x="209.4" y="110" width="48.0" height="1" fill="#fff" opacity="0.00706"/><rect x="188.2" y="110" width="87.2" height="1" fill="url(#g0)" opacity="0.093"/><rect x="211.7" y="110" width="39.7" height="1" fill="url(#g0)" opacity="0.554"/><rect x="209.4" y="111" width="48.0" height="1" fill="#fff" opacity="0.0291"/><rect x="194.6" y="111" width="74.5" height="1" fill="url(#g0)" opacity="0.1"/><rect x="214.3" y="111" width="33.9" height="1" fill="url(#g0)" opacity="0.658"/><rect x="209.4" y="112" width="48.0" height="1" fill="#fff" opacity="0.0166"/><rect x="195.7" y="112" width="72.2" height="1" fill="url(#g0)" opacity="0.074"/><rect x="215.3" y="112" width="32.8" height="1" fill="url(#g0)" opacity="0.535"/><rect x="209.4" y="113" width="48.0" height="1" fill="#fff" opacity="0.00965"/><rect x="188.9" y="113" width="85.8" height="1" fill="url(#g0)" opacity="0.1"/><rect x="212.2" y="113" width="39.0" height="1" fill="url(#g0)" opacity="0.568"/><rect x="209.4" y="114" width="48.0" height="1" fill="#fff" opacity="0.0125"/><rect x="192.0" y="114" width="79.7" height="1" fill="url(#g0)" opacity="0.089"/><rect x="212.9" y="114" width="36.2" height="1" fill="url(#g0)" opacity="0.637"/><rect x="209.4" y="115" width="48.0" height="1" fill="#fff" opacity="0.0196"/><rect x="193.4" y="115" width="76.8" height="1" fill="url(#g0)" opacity="0.12"/><rect x="214.4" y="115" width="34.9" height="1" fill="url(#g0)" opacity="0.558"/><rect x="209.4" y="116" width="48.0" height="1" fill="#fff" opacity="0.00582"/><rect x="195.0" y="116" width="73.7" height="1" fill="url(#g0)" opacity="0.072"/><rect x="215.2" y="116" width="33.5" height="1" fill="url(#g0)" opacity="0.544"/><rect x="209.4" y="117" width="48.0" height="1" fill="#fff" opacity="0.014"/><rect x="193.6" y="117" width="76.5" height="1" fill="url(#g0)" opacity="0.082"/><rect x="215.1" y="117" width="34.8" height="1" fill="url(#g0)" opacity="0.517"/><rect x="209.4" y="118" width="48.0" height="1" fill="#fff" opacity="0.0297"/><rect x="197.0" y="118" width="69.7" height="1" fill="url(#g0)" opacity="0.08"/><rect x="216.6" y="118" width="31.7" height="1" fill="url(#g0)" opacity="0.519"/><rect x="209.4" y="119" width="48.0" height="1" fill="#fff" opacity="0.0169"/><rect x="193.6" y="119" width="76.4" height="1" fill="url(#g0)" opacity="0.11"/><rect x="215.1" y="119" width="34.7" height="1" fill="url(#g0)" opacity="0.528"/><rect x="209.4" y="120" width="48.0" height="1" fill="#fff" opacity="0.0125"/><rect x="201.8" y="120" width="60.0" height="1" fill="url(#g0)" opacity="0.094"/><rect x="218.9" y="120" width="27.3" height="1" fill="url(#g0)" opacity="0.527"/><rect x="209.4" y="121" width="48.0" height="1" fill="#fff" opacity="0.012"/><rect x="199.9" y="121" width="63.8" height="1" fill="url(#g0)" opacity="0.11"/><rect x="217.1" y="121" width="29.0" height="1" fill="url(#g0)" opacity="0.552"/><rect x="209.4" y="122" width="48.0" height="1" fill="#fff" opacity="0.0149"/><rect x="200.9" y="122" width="61.8" height="1" fill="url(#g0)" opacity="0.09"/><rect x="217.1" y="122" width="28.1" height="1" fill="url(#g0)" opacity="0.603"/><rect x="209.4" y="123" width="48.0" height="1" fill="#fff" opacity="0.024"/><rect x="202.4" y="123" width="58.8" height="1" fill="url(#g0)" opacity="0.11"/><rect x="218.3" y="123" width="26.7" height="1" fill="url(#g0)" opacity="0.574"/><rect x="209.4" y="124" width="48.0" height="1" fill="#fff" opacity="0.00417"/><rect x="194.5" y="124" width="74.6" height="1" fill="url(#g0)" opacity="0.1"/><rect x="214.2" y="124" width="33.9" height="1" fill="url(#g0)" opacity="0.522"/><rect x="209.4" y="125" width="48.0" height="1" fill="#fff" opacity="0.017"/><rect x="196.8" y="125" width="70.0" height="1" fill="url(#g0)" opacity="0.11"/><rect x="215.8" y="125" width="31.8" height="1" fill="url(#g0)" opacity="0.578"/><rect x="209.4" y="125" width="48.0" height="1" fill="#fff" opacity="0.113"/><rect x="170.6" y="125" width="122.5" height="1" fill="url(#g0)" opacity="0.15"/><rect x="203.4" y="125" width="55.7" height="1" fill="url(#g0)" opacity="0.685"/><rect x="209.4" y="126" width="48.0" height="1" fill="#fff" opacity="0.0515"/><rect x="174.4" y="126" width="114.8" height="1" fill="url(#g0)" opacity="0.075"/><rect x="205.6" y="126" width="52.2" height="1" fill="url(#g0)" opacity="0.558"/><rect x="209.4" y="127" width="48.0" height="1" fill="#fff" opacity="0.0876"/><rect x="168.4" y="127" width="126.8" height="1" fill="url(#g0)" opacity="0.095"/><rect x="203.4" y="127" width="57.6" height="1" fill="url(#g0)" opacity="0.669"/><rect x="209.4" y="127" width="48.0" height="1" fill="#fff" opacity="0.1"/><rect x="168.4" y="127" width="126.8" height="1" fill="url(#g0)" opacity="0.13"/><rect x="202.4" y="127" width="57.6" height="1" fill="url(#g0)"/><rect x="209.4" y="128" width="48.0" height="1" fill="#fff" opacity="0.0818"/><rect x="161.6" y="128" width="140.4" height="1" fill="url(#g0)" opacity="0.14"/><rect x="200.4" y="128" width="63.8" height="1" fill="url(#g1)"/><rect x="209.4" y="129" width="48.0" height="1" fill="#fff" opacity="0.27"/><rect x="159.6" y="129" width="144.4" height="1" fill="url(#g0)" opacity="0.13"/><rect x="199.6" y="129" width="65.6" height="1" fill="url(#g0)"/><rect x="209.4" y="130" width="48.0" height="1" fill="#fff" opacity="0.1"/><rect x="178.2" y="130" width="107.2" height="1" fill="url(#g0)" opacity="0.14"/><rect x="207.2" y="130" width="48.7" height="1" fill="url(#g0)"/><rect x="209.4" y="131" width="48.0" height="1" fill="#fff" opacity="0.113"/><rect x="177.5" y="131" width="108.6" height="1" fill="url(#g0)" opacity="0.13"/><rect x="207.2" y="131" width="49.4" height="1" fill="url(#g0)"/><rect x="209.4" y="132" width="48.0" height="1" fill="#fff" opacity="0.101"/><rect x="171.1" y="132" width="121.5" height="1" fill="url(#g0)" opacity="0.16"/><rect x="204.3" y="132" width="55.2" height="1" fill="url(#g0)" opacity="0.925"/><rect x="209.4" y="133" width="48.0" height="1" fill="#fff" opacity="0.0891"/><rect x="183.5" y="133" width="96.7" height="1" fill="url(#g0)" opacity="0.15"/><rect x="209.5" y="133" width="43.9" height="1" fill="url(#g0)" opacity="0.903"/><rect x="209.4" y="134" width="48.0" height="1" fill="#fff" opacity="0.0769"/><rect x="177.4" y="134" width="108.9" height="1" fill="url(#g0)" opacity="0.11"/><rect x="206.6" y="134" width="49.5" height="1" fill="url(#g0)" opacity="0.879"/><rect x="209.4" y="135" width="48.0" height="1" fill="#fff" opacity="0.142"/><rect x="182.0" y="135" width="99.7" height="1" fill="url(#g0)" opacity="0.17"/><rect x="209.4" y="135" width="45.3" height="1" fill="url(#g0)" opacity="0.852"/><rect x="209.4" y="136" width="48.0" height="1" fill="#fff" opacity="0.0707"/><rect x="175.4" y="136" width="112.8" height="1" fill="url(#g0)" opacity="0.17"/><rect x="205.7" y="136" width="51.3" height="1" fill="url(#g0)" opacity="0.723"/><rect x="209.4" y="137" width="48.0" height="1" fill="#fff" opacity="0.0668"/><rect x="189.4" y="137" width="84.8" height="1" fill="url(#g0)" opacity="0.11"/><rect x="211.8" y="137" width="38.6" height="1" fill="url(#g0)" opacity="0.831"/><rect x="209.4" y="138" width="48.0" height="1" fill="#fff" opacity="0.0194"/><rect x="179.1" y="138" width="105.4" height="1" fill="url(#g0)" opacity="0.19"/><rect x="207.5" y="138" width="47.9" height="1" fill="url(#g0)" opacity="0.907"/><rect x="209.4" y="139" width="48.0" height="1" fill="#fff" opacity="0.0999"/><rect x="181.8" y="139" width="100.1" height="1" fill="url(#g0)" opacity="0.15"/><rect x="208.9" y="139" width="45.5" height="1" fill="url(#g0)" opacity="0.709"/><rect x="209.4" y="140" width="48.0" height="1" fill="#fff" opacity="0.0339"/><rect x="189.8" y="140" width="84.0" height="1" fill="url(#g0)" opacity="0.14"/><rect x="212.6" y="140" width="38.2" height="1" fill="url(#g0)" opacity="0.697"/><rect x="209.4" y="141" width="48.0" height="1" fill="#fff" opacity="0.0236"/><rect x="181.7" y="141" width="100.2" height="1" fill="url(#g0)" opacity="0.12"/><rect x="209.6" y="141" width="45.5" height="1" fill="url(#g0)" opacity="0.656"/><rect x="209.4" y="142" width="48.0" height="1" fill="#fff" opacity="0.0291"/><rect x="184.7" y="142" width="94.3" height="1" fill="url(#g0)" opacity="0.13"/><rect x="210.4" y="142" width="42.9" height="1" fill="url(#g0)" opacity="0.628"/><rect x="209.4" y="143" width="48.0" height="1" fill="#fff" opacity="0.0334"/><rect x="191.2" y="143" width="81.2" height="1" fill="url(#g0)" opacity="0.11"/><rect x="213.4" y="143" width="36.9" height="1" fill="url(#g0)" opacity="0.764"/><rect x="209.4" y="144" width="48.0" height="1" fill="#fff" opacity="0.0182"/><rect x="186.8" y="144" width="90.0" height="1" fill="url(#g0)" opacity="0.11"/><rect x="211.3" y="144" width="40.9" height="1" fill="url(#g0)" opacity="0.772"/><rect x="209.4" y="145" width="48.0" height="1" fill="#fff" opacity="0.0274"/><rect x="196.1" y="145" width="71.5" height="1" fill="url(#g0)" opacity="0.096"/><rect x="215.8" y="145" width="32.5" height="1" fill="url(#g0)" opacity="0.616"/><rect x="209.4" y="146" width="48.0" height="1" fill="#fff" opacity="0.0195"/><rect x="189.2" y="146" width="85.2" height="1" fill="url(#g0)" opacity="0.17"/><rect x="213.0" y="146" width="38.7" height="1" fill="url(#g0)" opacity="0.747"/><rect x="209.4" y="147" width="48.0" height="1" fill="#fff" opacity="0.048"/><rect x="196.4" y="147" width="70.9" height="1" fill="url(#g0)" opacity="0.092"/><rect x="215.4" y="147" width="32.2" height="1" fill="url(#g0)" opacity="0.589"/><rect x="209.4" y="148" width="48.0" height="1" fill="#fff" opacity="0.0167"/><rect x="195.1" y="148" width="73.5" height="1" fill="url(#g0)" opacity="0.1"/><rect x="214.8" y="148" width="33.4" height="1" fill="url(#g0)" opacity="0.67"/><rect x="209.4" y="149" width="48.0" height="1" fill="#fff" opacity="0.02"/><rect x="196.8" y="149" width="70.0" height="1" fill="url(#g0)" opacity="0.084"/><rect x="215.7" y="149" width="31.8" height="1" fill="url(#g0)" opacity="0.655"/><rect x="209.4" y="150" width="48.0" height="1" fill="#fff" opacity="0.0191"/><rect x="192.6" y="150" width="78.5" height="1" fill="url(#g0)" opacity="0.12"/><rect x="214.2" y="150" width="35.7" height="1" fill="url(#g0)" opacity="0.592"/><rect x="209.4" y="151" width="48.0" height="1" fill="#fff" opacity="0.0145"/><rect x="198.7" y="151" width="66.3" height="1" fill="url(#g0)" opacity="0.11"/><rect x="216.6" y="151" width="30.2" height="1" fill="url(#g0)" opacity="0.55"/><rect x="209.4" y="152" width="48.0" height="1" fill="#fff" opacity="0.0104"/><rect x="191.7" y="152" width="80.2" height="1" fill="url(#g0)" opacity="0.082"/><rect x="213.9" y="152" width="36.4" height="1" fill="url(#g0)" opacity="0.54"/><rect x="209.4" y="153" width="48.0" height="1" fill="#fff" opacity="0.00982"/><rect x="195.7" y="153" width="72.3" height="1" fill="url(#g0)" opacity="0.1"/><rect x="215.1" y="153" width="32.9" height="1" fill="url(#g0)" opacity="0.611"/><rect x="209.4" y="154" width="48.0" height="1" fill="#fff" opacity="0.00927"/><rect x="196.6" y="154" width="70.5" height="1" fill="url(#g0)" opacity="0.097"/><rect x="215.3" y="154" width="32.0" height="1" fill="url(#g0)" opacity="0.614"/><rect x="209.4" y="155" width="48.0" height="1" fill="#fff" opacity="0.00873"/><rect x="196.3" y="155" width="71.1" height="1" fill="url(#g0)" opacity="0.096"/><rect x="215.2" y="155" width="32.3" height="1" fill="url(#g0)" opacity="0.525"/><rect x="209.4" y="156" width="48.0" height="1" fill="#fff" opacity="0.0136"/><rect x="195.0" y="156" width="73.6" height="1" fill="url(#g0)" opacity="0.094"/><rect x="215.2" y="156" width="33.4" height="1" fill="url(#g0)" opacity="0.585"/><rect x="209.4" y="157" width="48.0" height="1" fill="#fff" opacity="0.00509"/><rect x="202.4" y="157" width="58.9" height="1" fill="url(#g0)" opacity="0.13"/><rect x="218.2" y="157" width="26.8" height="1" fill="url(#g0)" opacity="0.526"/><rect x="209.4" y="158" width="48.0" height="1" fill="#fff" opacity="0.0154"/><rect x="203.4" y="158" width="56.9" height="1" fill="url(#g0)" opacity="0.098"/><rect x="218.7" y="158" width="25.9" height="1" fill="url(#g0)" opacity="0.533"/><rect x="209.4" y="159" width="48.0" height="1" fill="#fff" opacity="0.00655"/><rect x="200.9" y="159" width="61.9" height="1" fill="url(#g0)" opacity="0.079"/><rect x="218.2" y="159" width="28.1" height="1" fill="url(#g0)" opacity="0.484"/><rect x="209.4" y="160" width="48.0" height="1" fill="#fff" opacity="0.006"/><rect x="199.6" y="160" width="64.5" height="1" fill="url(#g0)" opacity="0.063"/><rect x="217.6" y="160" width="29.3" height="1" fill="url(#g0)" opacity="0.443"/><rect x="201.6" y="161" width="60.4" height="1" fill="url(#g0)" opacity="0.082"/><rect x="217.4" y="161" width="27.5" height="1" fill="url(#g0)" opacity="0.432"/><rect x="209.4" y="162" width="48.0" height="1" fill="#fff" opacity="0.00742"/><rect x="199.8" y="162" width="64.1" height="1" fill="url(#g0)" opacity="0.094"/><rect x="217.1" y="162" width="29.2" height="1" fill="url(#g0)" opacity="0.399"/><rect x="209.4" y="163" width="48.0" height="1" fill="#fff" opacity="0.00713"/><rect x="199.5" y="163" width="64.6" height="1" fill="url(#g0)" opacity="0.083"/><rect x="216.9" y="163" width="29.4" height="1" fill="url(#g0)" opacity="0.39"/><rect x="209.4" y="164" width="48.0" height="1" fill="#fff" opacity="0.0188"/><rect x="206.5" y="164" width="50.7" height="1" fill="url(#g0)" opacity="0.063"/><rect x="220.0" y="164" width="23.0" height="1" fill="url(#g0)" opacity="0.384"/><rect x="209.4" y="165" width="48.0" height="1" fill="#fff" opacity="0.00655"/><rect x="204.8" y="165" width="54.0" height="1" fill="url(#g0)" opacity="0.073"/><rect x="219.6" y="165" width="24.5" height="1" fill="url(#g0)" opacity="0.373"/><rect x="209.4" y="166" width="48.0" height="1" fill="#fff" opacity="0.00625"/><rect x="203.3" y="166" width="57.0" height="1" fill="url(#g0)" opacity="0.051"/><rect x="219.0" y="166" width="25.9" height="1" fill="url(#g0)" opacity="0.376"/><rect x="209.4" y="167" width="48.0" height="1" fill="#fff" opacity="0.00745"/><rect x="199.7" y="167" width="64.3" height="1" fill="url(#g0)" opacity="0.058"/><rect x="217.1" y="167" width="29.2" height="1" fill="url(#g0)" opacity="0.373"/><rect x="209.4" y="168" width="48.0" height="1" fill="#fff" opacity="0.00709"/><rect x="206.2" y="168" width="51.3" height="1" fill="url(#g0)" opacity="0.047"/><rect x="220.8" y="168" width="23.3" height="1" fill="url(#g0)" opacity="0.353"/><rect x="209.4" y="169" width="48.0" height="1" fill="#fff" opacity="0.00673"/><rect x="204.6" y="169" width="54.5" height="1" fill="url(#g0)" opacity="0.065"/><rect x="219.7" y="169" width="24.8" height="1" fill="url(#g0)" opacity="0.415"/><rect x="209.4" y="170" width="48.0" height="1" fill="#fff" opacity="0.00636"/><rect x="207.7" y="170" width="48.2" height="1" fill="url(#g0)" opacity="0.069"/><rect x="221.7" y="170" width="21.9" height="1" fill="url(#g0)" opacity="0.376"/><rect x="208.5" y="171" width="46.6" height="1" fill="url(#g0)" opacity="0.07"/><rect x="220.6" y="171" width="21.2" height="1" fill="url(#g0)" opacity="0.348"/><rect x="209.4" y="171" width="48.0" height="1" fill="#fff" opacity="0.1"/><rect x="157.1" y="171" width="149.4" height="1" fill="url(#g0)" opacity="0.13"/><rect x="198.4" y="171" width="67.9" height="1" fill="url(#g0)"/><rect x="209.4" y="172" width="48.0" height="1" fill="#fff" opacity="0.128"/><rect x="176.9" y="172" width="109.8" height="1" fill="url(#g0)" opacity="0.17"/><rect x="207.1" y="172" width="49.9" height="1" fill="url(#g0)" opacity="0.879"/><rect x="209.4" y="173" width="48.0" height="1" fill="#fff" opacity="0.208"/><rect x="177.7" y="173" width="108.2" height="1" fill="url(#g0)" opacity="0.13"/><rect x="207.4" y="173" width="49.2" height="1" fill="url(#g0)" opacity="0.923"/><rect x="209.4" y="174" width="48.0" height="1" fill="#fff" opacity="0.104"/><rect x="174.0" y="174" width="115.6" height="1" fill="url(#g0)" opacity="0.15"/><rect x="204.8" y="174" width="52.5" height="1" fill="url(#g0)" opacity="0.699"/><rect x="209.4" y="175" width="48.0" height="1" fill="#fff" opacity="0.0386"/><rect x="183.7" y="175" width="96.3" height="1" fill="url(#g0)" opacity="0.11"/><rect x="209.4" y="175" width="43.8" height="1" fill="url(#g0)" opacity="0.65"/><rect x="209.4" y="176" width="48.0" height="1" fill="#fff" opacity="0.0399"/><rect x="190.6" y="176" width="82.4" height="1" fill="url(#g0)" opacity="0.13"/><rect x="213.4" y="176" width="37.5" height="1" fill="url(#g0)" opacity="0.602"/><rect x="209.4" y="177" width="48.0" height="1" fill="#fff" opacity="0.0695"/><rect x="195.5" y="177" width="72.6" height="1" fill="url(#g0)" opacity="0.11"/><rect x="214.6" y="177" width="33.0" height="1" fill="url(#g0)" opacity="0.544"/><rect x="209.4" y="178" width="48.0" height="1" fill="#fff" opacity="0.014"/><rect x="197.0" y="178" width="69.7" height="1" fill="url(#g0)" opacity="0.12"/><rect x="215.5" y="178" width="31.7" height="1" fill="url(#g0)" opacity="0.578"/><rect x="209.4" y="179" width="48.0" height="1" fill="#fff" opacity="0.0119"/><rect x="190.3" y="179" width="83.0" height="1" fill="url(#g0)" opacity="0.15"/><rect x="213.2" y="179" width="37.7" height="1" fill="url(#g0)" opacity="0.618"/><rect x="209.4" y="180" width="48.0" height="1" fill="#fff" opacity="0.0382"/><rect x="192.0" y="180" width="79.7" height="1" fill="url(#g0)" opacity="0.12"/><rect x="214.0" y="180" width="36.2" height="1" fill="url(#g0)" opacity="0.534"/><rect x="209.4" y="181" width="48.0" height="1" fill="#fff" opacity="0.0148"/><rect x="193.5" y="181" width="76.6" height="1" fill="url(#g0)" opacity="0.099"/><rect x="215.1" y="181" width="34.8" height="1" fill="url(#g0)" opacity="0.447"/><rect x="209.4" y="182" width="48.0" height="1" fill="#fff" opacity="0.00986"/><rect x="195.6" y="182" width="72.5" height="1" fill="url(#g0)" opacity="0.12"/><rect x="215.3" y="182" width="32.9" height="1" fill="url(#g0)" opacity="0.507"/><rect x="209.4" y="183" width="48.0" height="1" fill="#fff" opacity="0.00992"/><rect x="196.7" y="183" width="70.2" height="1" fill="url(#g0)" opacity="0.095"/><rect x="216.3" y="183" width="31.9" height="1" fill="url(#g0)" opacity="0.472"/><rect x="209.4" y="184" width="48.0" height="1" fill="#fff" opacity="0.00535"/><rect x="200.4" y="184" width="62.9" height="1" fill="url(#g0)" opacity="0.094"/><rect x="218.3" y="184" width="28.6" height="1" fill="url(#g0)" opacity="0.416"/><rect x="209.4" y="185" width="48.0" height="1" fill="#fff" opacity="0.00791"/><rect x="200.0" y="185" width="63.7" height="1" fill="url(#g0)" opacity="0.071"/><rect x="216.9" y="185" width="29.0" height="1" fill="url(#g0)" opacity="0.344"/><rect x="201.1" y="186" width="61.4" height="1" fill="url(#g0)" opacity="0.078"/><rect x="217.7" y="186" width="27.9" height="1" fill="url(#g0)" opacity="0.338"/><rect x="209.4" y="187" width="48.0" height="1" fill="#fff" opacity="0.0078"/><rect x="204.0" y="187" width="55.7" height="1" fill="url(#g0)" opacity="0.061"/><rect x="219.7" y="187" width="25.3" height="1" fill="url(#g0)" opacity="0.333"/><rect x="209.4" y="187" width="48.0" height="1" fill="#fff" opacity="0.31"/><rect x="156.9" y="187" width="149.8" height="1" fill="url(#g0)" opacity="0.21"/><rect x="198.0" y="187" width="68.1" height="1" fill="url(#g0)"/><rect x="209.4" y="188" width="48.0" height="1" fill="#fff" opacity="0.127"/><rect x="173.3" y="188" width="117.1" height="1" fill="url(#g0)" opacity="0.12"/><rect x="205.2" y="188" width="53.2" height="1" fill="url(#g0)" opacity="0.963"/><rect x="209.4" y="189" width="48.0" height="1" fill="#fff" opacity="0.162"/><rect x="169.6" y="189" width="124.4" height="1" fill="url(#g0)" opacity="0.12"/><rect x="203.4" y="189" width="56.6" height="1" fill="url(#g0)" opacity="0.77"/><rect x="209.4" y="190" width="48.0" height="1" fill="#fff" opacity="0.038"/><rect x="179.6" y="190" width="104.5" height="1" fill="url(#g0)" opacity="0.16"/><rect x="207.8" y="190" width="47.5" height="1" fill="url(#g0)" opacity="0.721"/><rect x="209.4" y="191" width="48.0" height="1" fill="#fff" opacity="0.0295"/><rect x="186.5" y="191" width="90.6" height="1" fill="url(#g0)" opacity="0.11"/><rect x="212.0" y="191" width="41.2" height="1" fill="url(#g0)" opacity="0.799"/><rect x="209.4" y="192" width="48.0" height="1" fill="#fff" opacity="0.0413"/><rect x="187.3" y="192" width="89.0" height="1" fill="url(#g0)" opacity="0.16"/><rect x="211.0" y="192" width="40.5" height="1" fill="url(#g0)" opacity="0.804"/><rect x="209.4" y="193" width="48.0" height="1" fill="#fff" opacity="0.0268"/><rect x="184.4" y="193" width="94.9" height="1" fill="url(#g0)" opacity="0.1"/><rect x="210.1" y="193" width="43.1" height="1" fill="url(#g0)" opacity="0.602"/><rect x="209.4" y="194" width="48.0" height="1" fill="#fff" opacity="0.0333"/><rect x="195.1" y="194" width="73.4" height="1" fill="url(#g0)" opacity="0.12"/><rect x="215.8" y="194" width="33.4" height="1" fill="url(#g0)" opacity="0.577"/><rect x="209.4" y="195" width="48.0" height="1" fill="#fff" opacity="0.0456"/><rect x="194.3" y="195" width="75.0" height="1" fill="url(#g0)" opacity="0.15"/><rect x="214.5" y="195" width="34.1" height="1" fill="url(#g0)" opacity="0.665"/><rect x="209.4" y="196" width="48.0" height="1" fill="#fff" opacity="0.0147"/><rect x="193.5" y="196" width="76.7" height="1" fill="url(#g0)" opacity="0.081"/><rect x="214.2" y="196" width="34.9" height="1" fill="url(#g0)" opacity="0.643"/><rect x="209.4" y="197" width="48.0" height="1" fill="#fff" opacity="0.016"/><rect x="200.4" y="197" width="62.8" height="1" fill="url(#g0)" opacity="0.13"/><rect x="217.5" y="197" width="28.5" height="1" fill="url(#g0)" opacity="0.591"/><rect x="209.4" y="198" width="48.0" height="1" fill="#fff" opacity="0.00814"/><rect x="199.3" y="198" width="65.1" height="1" fill="url(#g0)" opacity="0.1"/><rect x="217.8" y="198" width="29.6" height="1" fill="url(#g0)" opacity="0.473"/><rect x="209.4" y="199" width="48.0" height="1" fill="#fff" opacity="0.00895"/><rect x="197.7" y="199" width="68.2" height="1" fill="url(#g0)" opacity="0.12"/><rect x="217.0" y="199" width="31.0" height="1" fill="url(#g0)" opacity="0.503"/><rect x="209.4" y="200" width="48.0" height="1" fill="#fff" opacity="0.0124"/><rect x="204.7" y="200" width="54.2" height="1" fill="url(#g0)" opacity="0.11"/><rect x="219.4" y="200" width="24.6" height="1" fill="url(#g0)" opacity="0.451"/><rect x="209.4" y="201" width="48.0" height="1" fill="#fff" opacity="0.0146"/><rect x="200.6" y="201" width="62.5" height="1" fill="url(#g0)" opacity="0.09"/><rect x="218.3" y="201" width="28.4" height="1" fill="url(#g0)" opacity="0.384"/><rect x="209.4" y="202" width="48.0" height="1" fill="#fff" opacity="0.0168"/><rect x="202.0" y="202" width="59.7" height="1" fill="url(#g0)" opacity="0.084"/><rect x="218.0" y="202" width="27.1" height="1" fill="url(#g0)" opacity="0.314"/><rect x="201.8" y="203" width="60.0" height="1" fill="url(#g0)" opacity="0.058"/><rect x="218.3" y="203" width="27.3" height="1" fill="url(#g0)" opacity="0.308"/><rect x="209.4" y="204" width="48.0" height="1" fill="#fff" opacity="0.0132"/><rect x="202.3" y="204" width="59.0" height="1" fill="url(#g0)" opacity="0.06"/><rect x="217.7" y="204" width="26.8" height="1" fill="url(#g0)" opacity="0.344"/></g></g><g clip-path="url(#cb4)"><g filter="url(#reds)"><rect x="262.4" y="30.3" width="53.0" height="175.9" fill="#000"/><rect x="264.4" y="32" width="49.0" height="1" fill="#fff" opacity="0.244"/><rect x="193.6" y="32" width="186.6" height="1" fill="url(#g0)" opacity="0.18"/><rect x="243.9" y="32" width="84.8" height="1" fill="url(#g0)"/><rect x="264.4" y="33" width="49.0" height="1" fill="#fff" opacity="0.365"/><rect x="217.5" y="33" width="138.9" height="1" fill="url(#g0)" opacity="0.18"/><rect x="254.8" y="33" width="63.1" height="1" fill="url(#g0)"/><rect x="264.4" y="34" width="49.0" height="1" fill="#fff" opacity="0.185"/><rect x="205.3" y="34" width="163.2" height="1" fill="url(#g0)" opacity="0.17"/><rect x="249.5" y="34" width="74.2" height="1" fill="url(#g1)"/><rect x="264.4" y="35" width="49.0" height="1" fill="#fff" opacity="0.0932"/><rect x="199.1" y="35" width="175.7" height="1" fill="url(#g0)" opacity="0.18"/><rect x="247.5" y="35" width="79.9" height="1" fill="url(#g0)" opacity="0.974"/><rect x="264.4" y="36" width="49.0" height="1" fill="#fff" opacity="0.177"/><rect x="201.3" y="36" width="171.1" height="1" fill="url(#g0)" opacity="0.14"/><rect x="248.3" y="36" width="77.8" height="1" fill="url(#g0)" opacity="0.922"/><rect x="264.4" y="37" width="49.0" height="1" fill="#fff" opacity="0.0517"/><rect x="211.7" y="37" width="150.3" height="1" fill="url(#g0)" opacity="0.14"/><rect x="253.2" y="37" width="68.3" height="1" fill="url(#g0)" opacity="0.854"/><rect x="264.4" y="38" width="49.0" height="1" fill="#fff" opacity="0.0487"/><rect x="214.7" y="38" width="144.5" height="1" fill="url(#g0)" opacity="0.17"/><rect x="253.5" y="38" width="65.7" height="1" fill="url(#g0)" opacity="0.827"/><rect x="264.4" y="39" width="49.0" height="1" fill="#fff" opacity="0.0458"/><rect x="220.6" y="39" width="132.6" height="1" fill="url(#g0)" opacity="0.19"/><rect x="256.9" y="39" width="60.3" height="1" fill="url(#g0)" opacity="0.817"/><rect x="264.4" y="40" width="49.0" height="1" fill="#fff" opacity="0.0857"/><rect x="221.1" y="40" width="131.6" height="1" fill="url(#g0)" opacity="0.21"/><rect x="256.6" y="40" width="59.8" height="1" fill="url(#g0)" opacity="0.976"/><rect x="264.4" y="41" width="49.0" height="1" fill="#fff" opacity="0.22"/><rect x="217.4" y="41" width="139.0" height="1" fill="url(#g0)" opacity="0.17"/><rect x="255.2" y="41" width="63.2" height="1" fill="url(#g0)" opacity="0.847"/><rect x="264.4" y="42" width="49.0" height="1" fill="#fff" opacity="0.203"/><rect x="225.0" y="42" width="123.8" height="1" fill="url(#g0)" opacity="0.12"/><rect x="258.4" y="42" width="56.3" height="1" fill="url(#g0)" opacity="0.804"/><rect x="264.4" y="43" width="49.0" height="1" fill="#fff" opacity="0.145"/><rect x="224.0" y="43" width="125.8" height="1" fill="url(#g0)" opacity="0.19"/><rect x="258.5" y="43" width="57.2" height="1" fill="url(#g0)" opacity="0.953"/><rect x="264.4" y="44" width="49.0" height="1" fill="#fff" opacity="0.171"/><rect x="231.2" y="44" width="111.5" height="1" fill="url(#g0)" opacity="0.17"/><rect x="261.8" y="44" width="50.7" height="1" fill="url(#g0)" opacity="0.748"/><rect x="264.4" y="45" width="49.0" height="1" fill="#fff" opacity="0.12"/><rect x="234.0" y="45" width="105.8" height="1" fill="url(#g0)" opacity="0.18"/><rect x="262.6" y="45" width="48.1" height="1" fill="url(#g0)" opacity="0.771"/><rect x="264.4" y="46" width="49.0" height="1" fill="#fff" opacity="0.0388"/><rect x="231.4" y="46" width="110.9" height="1" fill="url(#g0)" opacity="0.17"/><rect x="261.3" y="46" width="50.4" height="1" fill="url(#g0)" opacity="0.809"/><rect x="264.4" y="47" width="49.0" height="1" fill="#fff" opacity="0.063"/><rect x="222.6" y="47" width="128.6" height="1" fill="url(#g0)" opacity="0.16"/><rect x="257.4" y="47" width="58.4" height="1" fill="url(#g0)" opacity="0.67"/><rect x="264.4" y="48" width="49.0" height="1" fill="#fff" opacity="0.0369"/><rect x="233.5" y="48" width="106.8" height="1" fill="url(#g0)" opacity="0.1"/><rect x="263.2" y="48" width="48.6" height="1" fill="url(#g0)" opacity="0.744"/><rect x="264.4" y="49" width="49.0" height="1" fill="#fff" opacity="0.0359"/><rect x="224.1" y="49" width="125.6" height="1" fill="url(#g0)" opacity="0.11"/><rect x="259.0" y="49" width="57.1" height="1" fill="url(#g0)" opacity="0.811"/><rect x="264.4" y="50" width="49.0" height="1" fill="#fff" opacity="0.0349"/><rect x="226.6" y="50" width="120.6" height="1" fill="url(#g0)" opacity="0.12"/><rect x="259.9" y="50" width="54.8" height="1" fill="url(#g0)" opacity="0.702"/><rect x="264.4" y="51" width="49.0" height="1" fill="#fff" opacity="0.0736"/><rect x="227.0" y="51" width="119.8" height="1" fill="url(#g0)" opacity="0.15"/><rect x="259.5" y="51" width="54.4" height="1" fill="url(#g0)" opacity="0.86"/><rect x="264.4" y="52" width="49.0" height="1" fill="#fff" opacity="0.044"/><rect x="225.7" y="52" width="122.4" height="1" fill="url(#g0)" opacity="0.13"/><rect x="259.1" y="52" width="55.6" height="1" fill="url(#g0)" opacity="0.715"/><rect x="264.4" y="53" width="49.0" height="1" fill="#fff" opacity="0.0428"/><rect x="225.9" y="53" width="122.0" height="1" fill="url(#g0)" opacity="0.15"/><rect x="258.7" y="53" width="55.5" height="1" fill="url(#g0)" opacity="0.778"/><rect x="264.4" y="54" width="49.0" height="1" fill="#fff" opacity="0.0207"/><rect x="240.1" y="54" width="93.6" height="1" fill="url(#g0)" opacity="0.16"/><rect x="266.2" y="54" width="42.5" height="1" fill="url(#g0)" opacity="0.831"/><rect x="264.4" y="55" width="49.0" height="1" fill="#fff" opacity="0.0503"/><rect x="235.3" y="55" width="103.1" height="1" fill="url(#g0)" opacity="0.15"/><rect x="263.9" y="55" width="46.9" height="1" fill="url(#g0)" opacity="0.737"/><rect x="264.4" y="56" width="49.0" height="1" fill="#fff" opacity="0.0487"/><rect x="240.3" y="56" width="93.3" height="1" fill="url(#g0)" opacity="0.16"/><rect x="266.0" y="56" width="42.4" height="1" fill="url(#g0)" opacity="0.788"/><rect x="264.4" y="57" width="49.0" height="1" fill="#fff" opacity="0.0188"/><rect x="229.0" y="57" width="115.8" height="1" fill="url(#g0)" opacity="0.15"/><rect x="261.0" y="57" width="52.7" height="1" fill="url(#g0)" opacity="0.708"/><rect x="264.4" y="58" width="49.0" height="1" fill="#fff" opacity="0.0364"/><rect x="230.0" y="58" width="113.7" height="1" fill="url(#g0)" opacity="0.16"/><rect x="261.3" y="58" width="51.7" height="1" fill="url(#g0)" opacity="0.724"/><rect x="264.4" y="59" width="49.0" height="1" fill="#fff" opacity="0.0263"/><rect x="230.5" y="59" width="112.7" height="1" fill="url(#g0)" opacity="0.13"/><rect x="261.7" y="59" width="51.2" height="1" fill="url(#g0)" opacity="0.671"/><rect x="264.4" y="60" width="49.0" height="1" fill="#fff" opacity="0.0423"/><rect x="235.6" y="60" width="102.6" height="1" fill="url(#g0)" opacity="0.11"/><rect x="263.3" y="60" width="46.6" height="1" fill="url(#g0)" opacity="0.689"/><rect x="264.4" y="61" width="49.0" height="1" fill="#fff" opacity="0.0244"/><rect x="232.2" y="61" width="109.4" height="1" fill="url(#g0)" opacity="0.14"/><rect x="261.8" y="61" width="49.7" height="1" fill="url(#g0)" opacity="0.689"/><rect x="264.4" y="62" width="49.0" height="1" fill="#fff" opacity="0.0509"/><rect x="233.7" y="62" width="106.5" height="1" fill="url(#g0)" opacity="0.11"/><rect x="262.3" y="62" width="48.4" height="1" fill="url(#g0)" opacity="0.58"/><rect x="264.4" y="63" width="49.0" height="1" fill="#fff" opacity="0.015"/><rect x="240.0" y="63" width="93.8" height="1" fill="url(#g0)" opacity="0.14"/><rect x="266.4" y="63" width="42.6" height="1" fill="url(#g0)" opacity="0.716"/><rect x="264.4" y="64" width="49.0" height="1" fill="#fff" opacity="0.0791"/><rect x="246.5" y="64" width="80.8" height="1" fill="url(#g0)" opacity="0.1"/><rect x="267.9" y="64" width="36.7" height="1" fill="url(#g0)" opacity="0.662"/><rect x="264.4" y="65" width="49.0" height="1" fill="#fff" opacity="0.0447"/><rect x="242.8" y="65" width="88.1" height="1" fill="url(#g0)" opacity="0.1"/><rect x="266.9" y="65" width="40.1" height="1" fill="url(#g0)" opacity="0.672"/><rect x="264.4" y="66" width="49.0" height="1" fill="#fff" opacity="0.0328"/><rect x="236.9" y="66" width="100.0" height="1" fill="url(#g0)" opacity="0.14"/><rect x="264.7" y="66" width="45.4" height="1" fill="url(#g0)" opacity="0.637"/><rect x="264.4" y="67" width="49.0" height="1" fill="#fff" opacity="0.0249"/><rect x="248.3" y="67" width="77.2" height="1" fill="url(#g0)" opacity="0.12"/><rect x="268.6" y="67" width="35.1" height="1" fill="url(#g0)" opacity="0.637"/><rect x="264.4" y="68" width="49.0" height="1" fill="#fff" opacity="0.0296"/><rect x="248.5" y="68" width="76.9" height="1" fill="url(#g0)" opacity="0.12"/><rect x="269.8" y="68" width="34.9" height="1" fill="url(#g0)" opacity="0.604"/><rect x="264.4" y="69" width="49.0" height="1" fill="#fff" opacity="0.0476"/><rect x="243.2" y="69" width="87.4" height="1" fill="url(#g0)" opacity="0.13"/><rect x="266.6" y="69" width="39.7" height="1" fill="url(#g0)" opacity="0.575"/><rect x="264.4" y="70" width="49.0" height="1" fill="#fff" opacity="0.0358"/><rect x="239.7" y="70" width="94.5" height="1" fill="url(#g0)" opacity="0.11"/><rect x="265.7" y="70" width="42.9" height="1" fill="url(#g0)" opacity="0.702"/><rect x="264.4" y="71" width="49.0" height="1" fill="#fff" opacity="0.0461"/><rect x="242.9" y="71" width="87.9" height="1" fill="url(#g0)" opacity="0.13"/><rect x="266.8" y="71" width="40.0" height="1" fill="url(#g0)" opacity="0.618"/><rect x="264.4" y="72" width="49.0" height="1" fill="#fff" opacity="0.0347"/><rect x="244.8" y="72" width="84.3" height="1" fill="url(#g0)" opacity="0.09"/><rect x="267.9" y="72" width="38.3" height="1" fill="url(#g0)" opacity="0.647"/><rect x="264.4" y="73" width="49.0" height="1" fill="#fff" opacity="0.0158"/><rect x="241.2" y="73" width="91.5" height="1" fill="url(#g0)" opacity="0.1"/><rect x="266.5" y="73" width="41.6" height="1" fill="url(#g0)" opacity="0.547"/><rect x="264.4" y="74" width="49.0" height="1" fill="#fff" opacity="0.0258"/><rect x="248.6" y="74" width="76.6" height="1" fill="url(#g0)" opacity="0.089"/><rect x="269.9" y="74" width="34.8" height="1" fill="url(#g0)" opacity="0.594"/><rect x="264.4" y="75" width="49.0" height="1" fill="#fff" opacity="0.0254"/><rect x="240.8" y="75" width="92.2" height="1" fill="url(#g0)" opacity="0.15"/><rect x="266.3" y="75" width="41.9" height="1" fill="url(#g0)" opacity="0.623"/><rect x="264.4" y="76" width="49.0" height="1" fill="#fff" opacity="0.01"/><rect x="242.6" y="76" width="88.7" height="1" fill="url(#g0)" opacity="0.099"/><rect x="266.0" y="76" width="40.3" height="1" fill="url(#g0)" opacity="0.674"/><rect x="264.4" y="77" width="49.0" height="1" fill="#fff" opacity="0.0246"/><rect x="241.1" y="77" width="91.6" height="1" fill="url(#g0)" opacity="0.1"/><rect x="266.2" y="77" width="41.6" height="1" fill="url(#g0)" opacity="0.501"/><rect x="264.4" y="78" width="49.0" height="1" fill="#fff" opacity="0.0314"/><rect x="248.2" y="78" width="77.5" height="1" fill="url(#g0)" opacity="0.08"/><rect x="269.0" y="78" width="35.2" height="1" fill="url(#g0)" opacity="0.604"/><rect x="264.4" y="79" width="49.0" height="1" fill="#fff" opacity="0.00948"/><rect x="247.9" y="79" width="77.9" height="1" fill="url(#g0)" opacity="0.096"/><rect x="269.7" y="79" width="35.4" height="1" fill="url(#g0)" opacity="0.534"/><rect x="264.4" y="80" width="49.0" height="1" fill="#fff" opacity="0.0186"/><rect x="251.2" y="80" width="71.3" height="1" fill="url(#g0)" opacity="0.12"/><rect x="270.5" y="80" width="32.4" height="1" fill="url(#g0)" opacity="0.501"/><rect x="264.4" y="81" width="49.0" height="1" fill="#fff" opacity="0.0297"/><rect x="251.8" y="81" width="70.3" height="1" fill="url(#g0)" opacity="0.1"/><rect x="271.4" y="81" width="31.9" height="1" fill="url(#g0)" opacity="0.568"/><rect x="264.4" y="82" width="49.0" height="1" fill="#fff" opacity="0.0134"/><rect x="251.5" y="82" width="70.8" height="1" fill="url(#g0)" opacity="0.097"/><rect x="270.8" y="82" width="32.2" height="1" fill="url(#g0)" opacity="0.632"/><rect x="264.4" y="83" width="49.0" height="1" fill="#fff" opacity="0.00879"/><rect x="249.1" y="83" width="75.7" height="1" fill="url(#g0)" opacity="0.084"/><rect x="270.4" y="83" width="34.4" height="1" fill="url(#g0)" opacity="0.563"/><rect x="264.4" y="84" width="49.0" height="1" fill="#fff" opacity="0.0366"/><rect x="243.9" y="84" width="86.0" height="1" fill="url(#g0)" opacity="0.11"/><rect x="267.8" y="84" width="39.1" height="1" fill="url(#g0)" opacity="0.513"/><rect x="264.4" y="85" width="49.0" height="1" fill="#fff" opacity="0.0359"/><rect x="243.2" y="85" width="87.3" height="1" fill="url(#g0)" opacity="0.068"/><rect x="266.5" y="85" width="39.7" height="1" fill="url(#g0)" opacity="0.513"/><rect x="264.4" y="86" width="49.0" height="1" fill="#fff" opacity="0.0352"/><rect x="247.2" y="86" width="79.5" height="1" fill="url(#g0)" opacity="0.11"/><rect x="268.1" y="86" width="36.1" height="1" fill="url(#g0)" opacity="0.494"/><rect x="264.4" y="87" width="49.0" height="1" fill="#fff" opacity="0.0081"/><rect x="253.2" y="87" width="67.4" height="1" fill="url(#g0)" opacity="0.12"/><rect x="271.1" y="87" width="30.6" height="1" fill="url(#g0)" opacity="0.63"/><rect x="264.4" y="88" width="49.0" height="1" fill="#fff" opacity="0.0258"/><rect x="244.6" y="88" width="84.5" height="1" fill="url(#g0)" opacity="0.14"/><rect x="267.9" y="88" width="38.4" height="1" fill="url(#g0)" opacity="0.6"/><rect x="264.4" y="89" width="49.0" height="1" fill="#fff" opacity="0.0194"/><rect x="247.4" y="89" width="78.9" height="1" fill="url(#g0)" opacity="0.084"/><rect x="268.2" y="89" width="35.9" height="1" fill="url(#g0)" opacity="0.553"/><rect x="264.4" y="90" width="49.0" height="1" fill="#fff" opacity="0.0114"/><rect x="245.0" y="90" width="83.8" height="1" fill="url(#g0)" opacity="0.076"/><rect x="268.0" y="90" width="38.1" height="1" fill="url(#g0)" opacity="0.535"/><rect x="264.4" y="91" width="49.0" height="1" fill="#fff" opacity="0.0408"/><rect x="250.1" y="91" width="73.7" height="1" fill="url(#g0)" opacity="0.097"/><rect x="270.6" y="91" width="33.5" height="1" fill="url(#g0)" opacity="0.48"/><rect x="264.4" y="92" width="49.0" height="1" fill="#fff" opacity="0.0145"/><rect x="245.9" y="92" width="82.1" height="1" fill="url(#g0)" opacity="0.12"/><rect x="268.1" y="92" width="37.3" height="1" fill="url(#g0)" opacity="0.566"/><rect x="264.4" y="93" width="49.0" height="1" fill="#fff" opacity="0.0389"/><rect x="253.0" y="93" width="67.8" height="1" fill="url(#g0)" opacity="0.1"/><rect x="271.8" y="93" width="30.8" height="1" fill="url(#g0)" opacity="0.556"/><rect x="264.4" y="94" width="49.0" height="1" fill="#fff" opacity="0.0293"/><rect x="246.0" y="94" width="81.9" height="1" fill="url(#g0)" opacity="0.076"/><rect x="267.6" y="94" width="37.2" height="1" fill="url(#g0)" opacity="0.478"/><rect x="264.4" y="95" width="49.0" height="1" fill="#fff" opacity="0.0286"/><rect x="253.7" y="95" width="66.5" height="1" fill="url(#g0)" opacity="0.13"/><rect x="271.9" y="95" width="30.2" height="1" fill="url(#g0)" opacity="0.587"/><rect x="264.4" y="96" width="49.0" height="1" fill="#fff" opacity="0.00655"/><rect x="248.4" y="96" width="76.9" height="1" fill="url(#g0)" opacity="0.11"/><rect x="269.0" y="96" width="35.0" height="1" fill="url(#g0)" opacity="0.475"/><rect x="264.4" y="97" width="49.0" height="1" fill="#fff" opacity="0.0351"/><rect x="256.6" y="97" width="60.6" height="1" fill="url(#g0)" opacity="0.076"/><rect x="272.4" y="97" width="27.5" height="1" fill="url(#g0)" opacity="0.474"/><rect x="264.4" y="98" width="49.0" height="1" fill="#fff" opacity="0.00621"/><rect x="254.5" y="98" width="64.7" height="1" fill="url(#g0)" opacity="0.12"/><rect x="272.9" y="98" width="29.4" height="1" fill="url(#g0)" opacity="0.579"/><rect x="264.4" y="99" width="49.0" height="1" fill="#fff" opacity="0.0121"/><rect x="254.3" y="99" width="65.1" height="1" fill="url(#g0)" opacity="0.1"/><rect x="272.1" y="99" width="29.6" height="1" fill="url(#g0)" opacity="0.576"/><rect x="264.4" y="100" width="49.0" height="1" fill="#fff" opacity="0.0088"/><rect x="249.4" y="100" width="74.9" height="1" fill="url(#g0)" opacity="0.13"/><rect x="269.4" y="100" width="34.1" height="1" fill="url(#g0)" opacity="0.569"/><rect x="264.4" y="101" width="49.0" height="1" fill="#fff" opacity="0.00854"/><rect x="252.3" y="101" width="69.2" height="1" fill="url(#g0)" opacity="0.11"/><rect x="271.2" y="101" width="31.5" height="1" fill="url(#g0)" opacity="0.449"/><rect x="264.4" y="102" width="49.0" height="1" fill="#fff" opacity="0.00833"/><rect x="248.8" y="102" width="76.2" height="1" fill="url(#g0)" opacity="0.095"/><rect x="270.1" y="102" width="34.6" height="1" fill="url(#g0)" opacity="0.488"/><rect x="264.4" y="103" width="49.0" height="1" fill="#fff" opacity="0.00818"/><rect x="252.9" y="103" width="68.0" height="1" fill="url(#g0)" opacity="0.11"/><rect x="271.8" y="103" width="30.9" height="1" fill="url(#g0)" opacity="0.542"/><rect x="264.4" y="104" width="49.0" height="1" fill="#fff" opacity="0.00535"/><rect x="253.6" y="104" width="66.7" height="1" fill="url(#g0)" opacity="0.079"/><rect x="271.8" y="104" width="30.3" height="1" fill="url(#g0)" opacity="0.524"/><rect x="264.4" y="105" width="49.0" height="1" fill="#fff" opacity="0.0288"/><rect x="253.3" y="105" width="67.2" height="1" fill="url(#g0)" opacity="0.096"/><rect x="271.2" y="105" width="30.6" height="1" fill="url(#g0)" opacity="0.433"/><rect x="264.4" y="106" width="49.0" height="1" fill="#fff" opacity="0.00771"/><rect x="251.9" y="106" width="70.1" height="1" fill="url(#g0)" opacity="0.073"/><rect x="271.2" y="106" width="31.8" height="1" fill="url(#g0)" opacity="0.534"/><rect x="264.4" y="107" width="49.0" height="1" fill="#fff" opacity="0.00756"/><rect x="252.1" y="107" width="69.7" height="1" fill="url(#g0)" opacity="0.11"/><rect x="271.4" y="107" width="31.7" height="1" fill="url(#g0)" opacity="0.477"/><rect x="264.4" y="108" width="49.0" height="1" fill="#fff" opacity="0.016"/><rect x="258.0" y="108" width="57.9" height="1" fill="url(#g0)" opacity="0.087"/><rect x="273.4" y="108" width="26.3" height="1" fill="url(#g0)" opacity="0.529"/><rect x="264.4" y="109" width="49.0" height="1" fill="#fff" opacity="0.0157"/><rect x="254.3" y="109" width="65.1" height="1" fill="url(#g0)" opacity="0.06"/><rect x="272.5" y="109" width="29.6" height="1" fill="url(#g0)" opacity="0.461"/><rect x="264.4" y="110" width="49.0" height="1" fill="#fff" opacity="0.0118"/><rect x="258.3" y="110" width="57.3" height="1" fill="url(#g0)" opacity="0.078"/><rect x="273.9" y="110" width="26.0" height="1" fill="url(#g0)" opacity="0.417"/><rect x="264.4" y="111" width="49.0" height="1" fill="#fff" opacity="0.0116"/><rect x="253.7" y="111" width="66.5" height="1" fill="url(#g0)" opacity="0.098"/><rect x="272.5" y="111" width="30.2" height="1" fill="url(#g0)" opacity="0.447"/><rect x="264.4" y="112" width="49.0" height="1" fill="#fff" opacity="0.00452"/><rect x="251.0" y="112" width="71.8" height="1" fill="url(#g0)" opacity="0.067"/><rect x="270.9" y="112" width="32.6" height="1" fill="url(#g0)" opacity="0.517"/><rect x="264.4" y="113" width="49.0" height="1" fill="#fff" opacity="0.0188"/><rect x="251.8" y="113" width="70.1" height="1" fill="url(#g0)" opacity="0.066"/><rect x="271.4" y="113" width="31.9" height="1" fill="url(#g0)" opacity="0.49"/><rect x="264.4" y="114" width="49.0" height="1" fill="#fff" opacity="0.0108"/><rect x="257.4" y="114" width="59.1" height="1" fill="url(#g0)" opacity="0.075"/><rect x="273.8" y="114" width="26.9" height="1" fill="url(#g0)" opacity="0.476"/><rect x="264.4" y="115" width="49.0" height="1" fill="#fff" opacity="0.0137"/><rect x="257.1" y="115" width="59.7" height="1" fill="url(#g0)" opacity="0.065"/><rect x="273.1" y="115" width="27.1" height="1" fill="url(#g0)" opacity="0.433"/><rect x="264.4" y="116" width="49.0" height="1" fill="#fff" opacity="0.0226"/><rect x="251.7" y="116" width="70.4" height="1" fill="url(#g0)" opacity="0.093"/><rect x="271.3" y="116" width="32.0" height="1" fill="url(#g0)" opacity="0.387"/><rect x="264.4" y="117" width="49.0" height="1" fill="#fff" opacity="0.01"/><rect x="253.8" y="117" width="66.3" height="1" fill="url(#g0)" opacity="0.067"/><rect x="272.3" y="117" width="30.1" height="1" fill="url(#g0)" opacity="0.517"/><rect x="264.4" y="118" width="49.0" height="1" fill="#fff" opacity="0.0127"/><rect x="257.8" y="118" width="58.2" height="1" fill="url(#g0)" opacity="0.075"/><rect x="274.3" y="118" width="26.5" height="1" fill="url(#g0)" opacity="0.446"/><rect x="264.4" y="119" width="49.0" height="1" fill="#fff" opacity="0.0123"/><rect x="254.0" y="119" width="65.7" height="1" fill="url(#g0)" opacity="0.09"/><rect x="272.4" y="119" width="29.9" height="1" fill="url(#g0)" opacity="0.463"/><rect x="264.4" y="120" width="49.0" height="1" fill="#fff" opacity="0.012"/><rect x="253.8" y="120" width="66.1" height="1" fill="url(#g0)" opacity="0.067"/><rect x="271.7" y="120" width="30.1" height="1" fill="url(#g0)" opacity="0.387"/><rect x="264.4" y="121" width="49.0" height="1" fill="#fff" opacity="0.0198"/><rect x="260.4" y="121" width="53.0" height="1" fill="url(#g0)" opacity="0.074"/><rect x="274.3" y="121" width="24.1" height="1" fill="url(#g0)" opacity="0.368"/><rect x="264.4" y="122" width="49.0" height="1" fill="#fff" opacity="0.0148"/><rect x="256.9" y="122" width="60.0" height="1" fill="url(#g0)" opacity="0.084"/><rect x="273.9" y="122" width="27.3" height="1" fill="url(#g0)" opacity="0.434"/><rect x="264.4" y="123" width="49.0" height="1" fill="#fff" opacity="0.00846"/><rect x="256.3" y="123" width="61.2" height="1" fill="url(#g0)" opacity="0.098"/><rect x="272.5" y="123" width="27.8" height="1" fill="url(#g0)" opacity="0.441"/><rect x="264.4" y="124" width="49.0" height="1" fill="#fff" opacity="0.014"/><rect x="255.8" y="124" width="62.2" height="1" fill="url(#g0)" opacity="0.11"/><rect x="273.1" y="124" width="28.3" height="1" fill="url(#g0)" opacity="0.438"/><rect x="264.4" y="125" width="49.0" height="1" fill="#fff" opacity="0.0064"/><rect x="258.4" y="125" width="57.0" height="1" fill="url(#g0)" opacity="0.083"/><rect x="274.3" y="125" width="25.9" height="1" fill="url(#g0)" opacity="0.368"/><rect x="264.4" y="125" width="49.0" height="1" fill="#fff" opacity="0.04"/><rect x="231.9" y="125" width="110.1" height="1" fill="url(#g0)" opacity="0.079"/><rect x="262.6" y="125" width="50.0" height="1" fill="url(#g0)" opacity="0.566"/><rect x="264.4" y="126" width="49.0" height="1" fill="#fff" opacity="0.032"/><rect x="224.9" y="126" width="124.1" height="1" fill="url(#g0)" opacity="0.11"/><rect x="258.9" y="126" width="56.4" height="1" fill="url(#g0)" opacity="0.572"/><rect x="264.4" y="127" width="49.0" height="1" fill="#fff" opacity="0.024"/><rect x="230.9" y="127" width="112.0" height="1" fill="url(#g0)" opacity="0.11"/><rect x="261.8" y="127" width="50.9" height="1" fill="url(#g0)" opacity="0.551"/><rect x="264.4" y="127" width="49.0" height="1" fill="#fff" opacity="0.15"/><rect x="223.6" y="127" width="126.7" height="1" fill="url(#g0)" opacity="0.18"/><rect x="258.5" y="127" width="57.6" height="1" fill="url(#g0)" opacity="0.95"/><rect x="264.4" y="128" width="49.0" height="1" fill="#fff" opacity="0.45"/><rect x="210.2" y="128" width="153.3" height="1" fill="url(#g0)" opacity="0.13"/><rect x="251.5" y="128" width="69.7" height="1" fill="url(#g0)"/><rect x="264.4" y="129" width="49.0" height="1" fill="#fff" opacity="0.127"/><rect x="223.6" y="129" width="126.6" height="1" fill="url(#g0)" opacity="0.18"/><rect x="258.0" y="129" width="57.6" height="1" fill="url(#g0)" opacity="0.889"/><rect x="264.4" y="130" width="49.0" height="1" fill="#fff" opacity="0.163"/><rect x="216.9" y="130" width="140.0" height="1" fill="url(#g0)" opacity="0.12"/><rect x="254.8" y="130" width="63.6" height="1" fill="url(#g0)" opacity="0.771"/><rect x="264.4" y="131" width="49.0" height="1" fill="#fff" opacity="0.0681"/><rect x="221.9" y="131" width="130.1" height="1" fill="url(#g0)" opacity="0.18"/><rect x="257.9" y="131" width="59.1" height="1" fill="url(#g0)" opacity="0.834"/><rect x="264.4" y="132" width="49.0" height="1" fill="#fff" opacity="0.0405"/><rect x="232.9" y="132" width="108.1" height="1" fill="url(#g0)" opacity="0.11"/><rect x="262.9" y="132" width="49.1" height="1" fill="url(#g0)" opacity="0.892"/><rect x="264.4" y="133" width="49.0" height="1" fill="#fff" opacity="0.0891"/><rect x="226.3" y="133" width="121.2" height="1" fill="url(#g0)" opacity="0.1"/><rect x="259.6" y="133" width="55.1" height="1" fill="url(#g0)" opacity="0.708"/><rect x="264.4" y="134" width="49.0" height="1" fill="#fff" opacity="0.0308"/><rect x="239.6" y="134" width="94.6" height="1" fill="url(#g0)" opacity="0.14"/><rect x="265.2" y="134" width="43.0" height="1" fill="url(#g0)" opacity="0.7"/><rect x="264.4" y="135" width="49.0" height="1" fill="#fff" opacity="0.0388"/><rect x="239.4" y="135" width="95.0" height="1" fill="url(#g0)" opacity="0.12"/><rect x="265.0" y="135" width="43.2" height="1" fill="url(#g0)" opacity="0.776"/><rect x="264.4" y="136" width="49.0" height="1" fill="#fff" opacity="0.0707"/><rect x="230.4" y="136" width="113.0" height="1" fill="url(#g0)" opacity="0.16"/><rect x="261.0" y="136" width="51.4" height="1" fill="url(#g0)" opacity="0.814"/><rect x="264.4" y="137" width="49.0" height="1" fill="#fff" opacity="0.0514"/><rect x="233.7" y="137" width="106.5" height="1" fill="url(#g0)" opacity="0.094"/><rect x="262.5" y="137" width="48.4" height="1" fill="url(#g0)" opacity="0.643"/><rect x="264.4" y="138" width="49.0" height="1" fill="#fff" opacity="0.0387"/><rect x="233.5" y="138" width="106.8" height="1" fill="url(#g0)" opacity="0.12"/><rect x="262.3" y="138" width="48.6" height="1" fill="url(#g0)" opacity="0.737"/><rect x="264.4" y="139" width="49.0" height="1" fill="#fff" opacity="0.0454"/><rect x="243.7" y="139" width="86.4" height="1" fill="url(#g0)" opacity="0.15"/><rect x="267.9" y="139" width="39.3" height="1" fill="url(#g0)" opacity="0.732"/><rect x="264.4" y="140" width="49.0" height="1" fill="#fff" opacity="0.0933"/><rect x="244.4" y="140" width="85.1" height="1" fill="url(#g0)" opacity="0.094"/><rect x="267.2" y="140" width="38.7" height="1" fill="url(#g0)" opacity="0.74"/><rect x="264.4" y="141" width="49.0" height="1" fill="#fff" opacity="0.0512"/><rect x="243.4" y="141" width="87.0" height="1" fill="url(#g0)" opacity="0.078"/><rect x="266.7" y="141" width="39.6" height="1" fill="url(#g0)" opacity="0.59"/><rect x="264.4" y="142" width="49.0" height="1" fill="#fff" opacity="0.0801"/><rect x="247.8" y="142" width="78.2" height="1" fill="url(#g0)" opacity="0.12"/><rect x="269.2" y="142" width="35.6" height="1" fill="url(#g0)" opacity="0.616"/><rect x="264.4" y="143" width="49.0" height="1" fill="#fff" opacity="0.0267"/><rect x="243.8" y="143" width="86.1" height="1" fill="url(#g0)" opacity="0.11"/><rect x="268.0" y="143" width="39.1" height="1" fill="url(#g0)" opacity="0.619"/><rect x="264.4" y="144" width="49.0" height="1" fill="#fff" opacity="0.0304"/><rect x="248.5" y="144" width="76.7" height="1" fill="url(#g0)" opacity="0.1"/><rect x="269.2" y="144" width="34.9" height="1" fill="url(#g0)" opacity="0.542"/><rect x="264.4" y="145" width="49.0" height="1" fill="#fff" opacity="0.0164"/><rect x="244.9" y="145" width="84.0" height="1" fill="url(#g0)" opacity="0.12"/><rect x="267.8" y="145" width="38.2" height="1" fill="url(#g0)" opacity="0.689"/><rect x="264.4" y="146" width="49.0" height="1" fill="#fff" opacity="0.0415"/><rect x="245.2" y="146" width="83.4" height="1" fill="url(#g0)" opacity="0.13"/><rect x="267.3" y="146" width="37.9" height="1" fill="url(#g0)" opacity="0.524"/><rect x="264.4" y="147" width="49.0" height="1" fill="#fff" opacity="0.0175"/><rect x="250.5" y="147" width="72.8" height="1" fill="url(#g0)" opacity="0.097"/><rect x="270.4" y="147" width="33.1" height="1" fill="url(#g0)" opacity="0.594"/><rect x="264.4" y="148" width="49.0" height="1" fill="#fff" opacity="0.046"/><rect x="248.3" y="148" width="77.2" height="1" fill="url(#g0)" opacity="0.093"/><rect x="270.0" y="148" width="35.1" height="1" fill="url(#g0)" opacity="0.495"/><rect x="264.4" y="149" width="49.0" height="1" fill="#fff" opacity="0.044"/><rect x="253.5" y="149" width="66.8" height="1" fill="url(#g0)" opacity="0.083"/><rect x="271.9" y="149" width="30.4" height="1" fill="url(#g0)" opacity="0.597"/><rect x="264.4" y="150" width="49.0" height="1" fill="#fff" opacity="0.0115"/><rect x="246.0" y="150" width="81.9" height="1" fill="url(#g0)" opacity="0.12"/><rect x="267.7" y="150" width="37.2" height="1" fill="url(#g0)" opacity="0.501"/><rect x="264.4" y="151" width="49.0" height="1" fill="#fff" opacity="0.00727"/><rect x="253.4" y="151" width="67.0" height="1" fill="url(#g0)" opacity="0.12"/><rect x="271.9" y="151" width="30.5" height="1" fill="url(#g0)" opacity="0.527"/><rect x="264.4" y="152" width="49.0" height="1" fill="#fff" opacity="0.00691"/><rect x="248.8" y="152" width="76.1" height="1" fill="url(#g0)" opacity="0.091"/><rect x="269.7" y="152" width="34.6" height="1" fill="url(#g0)" opacity="0.595"/><rect x="264.4" y="153" width="49.0" height="1" fill="#fff" opacity="0.0213"/><rect x="249.9" y="153" width="74.0" height="1" fill="url(#g0)" opacity="0.11"/><rect x="269.5" y="153" width="33.6" height="1" fill="url(#g0)" opacity="0.499"/><rect x="264.4" y="154" width="49.0" height="1" fill="#fff" opacity="0.0201"/><rect x="249.1" y="154" width="75.6" height="1" fill="url(#g0)" opacity="0.11"/><rect x="270.0" y="154" width="34.4" height="1" fill="url(#g0)" opacity="0.555"/><rect x="264.4" y="155" width="49.0" height="1" fill="#fff" opacity="0.032"/><rect x="257.3" y="155" width="59.3" height="1" fill="url(#g0)" opacity="0.072"/><rect x="274.1" y="155" width="26.9" height="1" fill="url(#g0)" opacity="0.519"/><rect x="264.4" y="156" width="49.0" height="1" fill="#fff" opacity="0.03"/><rect x="257.6" y="156" width="58.7" height="1" fill="url(#g0)" opacity="0.1"/><rect x="274.3" y="156" width="26.7" height="1" fill="url(#g0)" opacity="0.419"/><rect x="264.4" y="157" width="49.0" height="1" fill="#fff" opacity="0.0127"/><rect x="255.3" y="157" width="63.2" height="1" fill="url(#g0)" opacity="0.079"/><rect x="273.2" y="157" width="28.7" height="1" fill="url(#g0)" opacity="0.443"/><rect x="264.4" y="158" width="49.0" height="1" fill="#fff" opacity="0.026"/><rect x="258.8" y="158" width="56.1" height="1" fill="url(#g0)" opacity="0.089"/><rect x="273.7" y="158" width="25.5" height="1" fill="url(#g0)" opacity="0.469"/><rect x="264.4" y="159" width="49.0" height="1" fill="#fff" opacity="0.024"/><rect x="250.3" y="159" width="73.2" height="1" fill="url(#g0)" opacity="0.07"/><rect x="270.5" y="159" width="33.3" height="1" fill="url(#g0)" opacity="0.445"/><rect x="264.4" y="160" width="49.0" height="1" fill="#fff" opacity="0.022"/><rect x="258.1" y="160" width="57.5" height="1" fill="url(#g0)" opacity="0.12"/><rect x="273.4" y="160" width="26.1" height="1" fill="url(#g0)" opacity="0.457"/><rect x="264.4" y="161" width="49.0" height="1" fill="#fff" opacity="0.0125"/><rect x="258.3" y="161" width="57.3" height="1" fill="url(#g0)" opacity="0.064"/><rect x="273.1" y="161" width="26.0" height="1" fill="url(#g0)" opacity="0.422"/><rect x="264.4" y="162" width="49.0" height="1" fill="#fff" opacity="0.0121"/><rect x="254.3" y="162" width="65.3" height="1" fill="url(#g0)" opacity="0.064"/><rect x="272.5" y="162" width="29.7" height="1" fill="url(#g0)" opacity="0.403"/><rect x="264.4" y="163" width="49.0" height="1" fill="#fff" opacity="0.00891"/><rect x="259.8" y="163" width="54.2" height="1" fill="url(#g0)" opacity="0.081"/><rect x="274.7" y="163" width="24.6" height="1" fill="url(#g0)" opacity="0.432"/><rect x="264.4" y="164" width="49.0" height="1" fill="#fff" opacity="0.00855"/><rect x="258.2" y="164" width="57.5" height="1" fill="url(#g0)" opacity="0.057"/><rect x="273.4" y="164" width="26.1" height="1" fill="url(#g0)" opacity="0.398"/><rect x="264.4" y="165" width="49.0" height="1" fill="#fff" opacity="0.00655"/><rect x="260.7" y="165" width="52.4" height="1" fill="url(#g0)" opacity="0.062"/><rect x="275.8" y="165" width="23.8" height="1" fill="url(#g0)" opacity="0.429"/><rect x="264.4" y="166" width="49.0" height="1" fill="#fff" opacity="0.00625"/><rect x="255.9" y="166" width="62.0" height="1" fill="url(#g0)" opacity="0.053"/><rect x="272.4" y="166" width="28.2" height="1" fill="url(#g0)" opacity="0.352"/><rect x="264.4" y="167" width="49.0" height="1" fill="#fff" opacity="0.0127"/><rect x="259.0" y="167" width="55.8" height="1" fill="url(#g0)" opacity="0.071"/><rect x="273.8" y="167" width="25.4" height="1" fill="url(#g0)" opacity="0.349"/><rect x="264.4" y="168" width="49.0" height="1" fill="#fff" opacity="0.00709"/><rect x="262.0" y="168" width="49.8" height="1" fill="url(#g0)" opacity="0.068"/><rect x="276.3" y="168" width="22.7" height="1" fill="url(#g0)" opacity="0.305"/><rect x="264.4" y="169" width="49.0" height="1" fill="#fff" opacity="0.00404"/><rect x="260.1" y="169" width="53.7" height="1" fill="url(#g0)" opacity="0.07"/><rect x="275.5" y="169" width="24.4" height="1" fill="url(#g0)" opacity="0.28"/><rect x="264.4" y="170" width="49.0" height="1" fill="#fff" opacity="0.00509"/><rect x="258.0" y="170" width="57.8" height="1" fill="url(#g0)" opacity="0.052"/><rect x="274.3" y="170" width="26.3" height="1" fill="url(#g0)" opacity="0.279"/><rect x="257.7" y="171" width="58.3" height="1" fill="url(#g0)" opacity="0.059"/><rect x="273.6" y="171" width="26.5" height="1" fill="url(#g0)" opacity="0.304"/><rect x="264.4" y="171" width="49.0" height="1" fill="#fff" opacity="0.325"/><rect x="210.4" y="171" width="153.0" height="1" fill="url(#g0)" opacity="0.22"/><rect x="252.8" y="171" width="69.6" height="1" fill="url(#g0)" opacity="0.998"/><rect x="264.4" y="172" width="49.0" height="1" fill="#fff" opacity="0.128"/><rect x="232.4" y="172" width="109.0" height="1" fill="url(#g0)" opacity="0.11"/><rect x="262.2" y="172" width="49.5" height="1" fill="url(#g0)" opacity="0.729"/><rect x="264.4" y="173" width="49.0" height="1" fill="#fff" opacity="0.0948"/><rect x="234.3" y="173" width="105.3" height="1" fill="url(#g0)" opacity="0.18"/><rect x="262.8" y="173" width="47.9" height="1" fill="url(#g0)" opacity="0.767"/><rect x="264.4" y="174" width="49.0" height="1" fill="#fff" opacity="0.0244"/><rect x="230.8" y="174" width="112.2" height="1" fill="url(#g0)" opacity="0.11"/><rect x="261.6" y="174" width="51.0" height="1" fill="url(#g0)" opacity="0.633"/><rect x="264.4" y="175" width="49.0" height="1" fill="#fff" opacity="0.0193"/><rect x="234.6" y="175" width="104.6" height="1" fill="url(#g0)" opacity="0.11"/><rect x="263.0" y="175" width="47.5" height="1" fill="url(#g0)" opacity="0.676"/><rect x="264.4" y="176" width="49.0" height="1" fill="#fff" opacity="0.0319"/><rect x="235.4" y="176" width="103.1" height="1" fill="url(#g0)" opacity="0.11"/><rect x="263.4" y="176" width="46.8" height="1" fill="url(#g0)" opacity="0.651"/><rect x="264.4" y="177" width="49.0" height="1" fill="#fff" opacity="0.019"/><rect x="238.1" y="177" width="97.6" height="1" fill="url(#g0)" opacity="0.098"/><rect x="265.5" y="177" width="44.4" height="1" fill="url(#g0)" opacity="0.657"/><rect x="264.4" y="178" width="49.0" height="1" fill="#fff" opacity="0.0233"/><rect x="241.3" y="178" width="91.1" height="1" fill="url(#g0)" opacity="0.11"/><rect x="266.0" y="178" width="41.4" height="1" fill="url(#g0)" opacity="0.515"/><rect x="264.4" y="179" width="49.0" height="1" fill="#fff" opacity="0.0258"/><rect x="248.8" y="179" width="76.3" height="1" fill="url(#g0)" opacity="0.077"/><rect x="269.0" y="179" width="34.7" height="1" fill="url(#g0)" opacity="0.494"/><rect x="264.4" y="180" width="49.0" height="1" fill="#fff" opacity="0.00694"/><rect x="252.9" y="180" width="67.9" height="1" fill="url(#g0)" opacity="0.1"/><rect x="271.5" y="180" width="30.9" height="1" fill="url(#g0)" opacity="0.432"/><rect x="264.4" y="181" width="49.0" height="1" fill="#fff" opacity="0.0327"/><rect x="250.5" y="181" width="72.8" height="1" fill="url(#g0)" opacity="0.11"/><rect x="270.5" y="181" width="33.1" height="1" fill="url(#g0)" opacity="0.437"/><rect x="264.4" y="182" width="49.0" height="1" fill="#fff" opacity="0.021"/><rect x="255.1" y="182" width="63.6" height="1" fill="url(#g0)" opacity="0.097"/><rect x="272.2" y="182" width="28.9" height="1" fill="url(#g0)" opacity="0.413"/><rect x="264.4" y="183" width="49.0" height="1" fill="#fff" opacity="0.00794"/><rect x="253.6" y="183" width="66.5" height="1" fill="url(#g0)" opacity="0.061"/><rect x="271.6" y="183" width="30.2" height="1" fill="url(#g0)" opacity="0.424"/><rect x="264.4" y="184" width="49.0" height="1" fill="#fff" opacity="0.00892"/><rect x="258.5" y="184" width="56.7" height="1" fill="url(#g0)" opacity="0.081"/><rect x="274.2" y="184" width="25.8" height="1" fill="url(#g0)" opacity="0.367"/><rect x="264.4" y="185" width="49.0" height="1" fill="#fff" opacity="0.00791"/><rect x="260.6" y="185" width="52.6" height="1" fill="url(#g0)" opacity="0.057"/><rect x="275.2" y="185" width="23.9" height="1" fill="url(#g0)" opacity="0.381"/><rect x="259.7" y="186" width="54.4" height="1" fill="url(#g0)" opacity="0.037"/><rect x="274.0" y="186" width="24.7" height="1" fill="url(#g0)" opacity="0.28"/><rect x="264.4" y="187" width="49.0" height="1" fill="#fff" opacity="0.006"/><rect x="258.7" y="187" width="56.4" height="1" fill="url(#g0)" opacity="0.064"/><rect x="273.3" y="187" width="25.6" height="1" fill="url(#g0)" opacity="0.269"/><rect x="264.4" y="187" width="49.0" height="1" fill="#fff" opacity="0.238"/><rect x="224.2" y="187" width="125.4" height="1" fill="url(#g0)" opacity="0.14"/><rect x="257.6" y="187" width="57.0" height="1" fill="url(#g0)"/><rect x="264.4" y="188" width="49.0" height="1" fill="#fff" opacity="0.127"/><rect x="220.8" y="188" width="132.3" height="1" fill="url(#g0)" opacity="0.11"/><rect x="256.1" y="188" width="60.1" height="1" fill="url(#g0)" opacity="0.791"/><rect x="264.4" y="189" width="49.0" height="1" fill="#fff" opacity="0.0761"/><rect x="222.0" y="189" width="129.8" height="1" fill="url(#g0)" opacity="0.12"/><rect x="257.4" y="189" width="59.0" height="1" fill="url(#g0)" opacity="0.893"/><rect x="264.4" y="190" width="49.0" height="1" fill="#fff" opacity="0.139"/><rect x="238.6" y="190" width="96.7" height="1" fill="url(#g0)" opacity="0.11"/><rect x="265.5" y="190" width="43.9" height="1" fill="url(#g0)" opacity="0.651"/><rect x="264.4" y="191" width="49.0" height="1" fill="#fff" opacity="0.0492"/><rect x="242.0" y="191" width="89.8" height="1" fill="url(#g0)" opacity="0.15"/><rect x="265.8" y="191" width="40.8" height="1" fill="url(#g0)" opacity="0.75"/><rect x="264.4" y="192" width="49.0" height="1" fill="#fff" opacity="0.0537"/><rect x="244.4" y="192" width="85.1" height="1" fill="url(#g0)" opacity="0.12"/><rect x="267.3" y="192" width="38.7" height="1" fill="url(#g0)" opacity="0.667"/><rect x="264.4" y="193" width="49.0" height="1" fill="#fff" opacity="0.0134"/><rect x="238.1" y="193" width="97.7" height="1" fill="url(#g0)" opacity="0.12"/><rect x="265.1" y="193" width="44.4" height="1" fill="url(#g0)" opacity="0.547"/><rect x="264.4" y="194" width="49.0" height="1" fill="#fff" opacity="0.0102"/><rect x="248.6" y="194" width="76.5" height="1" fill="url(#g0)" opacity="0.12"/><rect x="269.1" y="194" width="34.8" height="1" fill="url(#g0)" opacity="0.557"/><rect x="264.4" y="195" width="49.0" height="1" fill="#fff" opacity="0.0166"/><rect x="252.9" y="195" width="68.1" height="1" fill="url(#g0)" opacity="0.12"/><rect x="270.9" y="195" width="30.9" height="1" fill="url(#g0)" opacity="0.584"/><rect x="264.4" y="196" width="49.0" height="1" fill="#fff" opacity="0.0183"/><rect x="246.5" y="196" width="80.9" height="1" fill="url(#g0)" opacity="0.12"/><rect x="268.7" y="196" width="36.8" height="1" fill="url(#g0)" opacity="0.546"/><rect x="264.4" y="197" width="49.0" height="1" fill="#fff" opacity="0.00638"/><rect x="252.0" y="197" width="69.8" height="1" fill="url(#g0)" opacity="0.095"/><rect x="270.5" y="197" width="31.7" height="1" fill="url(#g0)" opacity="0.481"/><rect x="264.4" y="198" width="49.0" height="1" fill="#fff" opacity="0.0136"/><rect x="251.5" y="198" width="70.8" height="1" fill="url(#g0)" opacity="0.078"/><rect x="271.2" y="198" width="32.2" height="1" fill="url(#g0)" opacity="0.405"/><rect x="264.4" y="199" width="49.0" height="1" fill="#fff" opacity="0.00448"/><rect x="256.1" y="199" width="61.7" height="1" fill="url(#g0)" opacity="0.093"/><rect x="272.1" y="199" width="28.0" height="1" fill="url(#g0)" opacity="0.425"/><rect x="264.4" y="200" width="49.0" height="1" fill="#fff" opacity="0.021"/><rect x="257.8" y="200" width="58.2" height="1" fill="url(#g0)" opacity="0.088"/><rect x="273.9" y="200" width="26.5" height="1" fill="url(#g0)" opacity="0.347"/><rect x="264.4" y="201" width="49.0" height="1" fill="#fff" opacity="0.00857"/><rect x="258.8" y="201" width="56.2" height="1" fill="url(#g0)" opacity="0.048"/><rect x="273.5" y="201" width="25.6" height="1" fill="url(#g0)" opacity="0.349"/><rect x="264.4" y="202" width="49.0" height="1" fill="#fff" opacity="0.00762"/><rect x="259.7" y="202" width="54.3" height="1" fill="url(#g0)" opacity="0.066"/><rect x="274.4" y="202" width="24.7" height="1" fill="url(#g0)" opacity="0.333"/><rect x="264.4" y="203" width="49.0" height="1" fill="#fff" opacity="0.00867"/><rect x="257.4" y="203" width="59.1" height="1" fill="url(#g0)" opacity="0.042"/><rect x="272.8" y="203" width="26.8" height="1" fill="url(#g0)" opacity="0.302"/><rect x="264.4" y="204" width="49.0" height="1" fill="#fff" opacity="0.006"/><rect x="263.3" y="204" width="47.3" height="1" fill="url(#g0)" opacity="0.046"/><rect x="276.1" y="204" width="21.5" height="1" fill="url(#g0)" opacity="0.296"/></g></g><g clip-path="url(#cb5)"><g filter="url(#reds)"><rect x="318.4" y="30.3" width="52.5" height="175.9" fill="#000"/><rect x="320.4" y="32" width="48.5" height="1" fill="#fff" opacity="0.228"/><rect x="264.4" y="32" width="158.0" height="1" fill="url(#g0)" opacity="0.14"/><rect x="307.8" y="32" width="71.8" height="1" fill="url(#g0)" opacity="0.794"/><rect x="320.4" y="33" width="48.5" height="1" fill="#fff" opacity="0.0925"/><rect x="276.2" y="33" width="134.5" height="1" fill="url(#g0)" opacity="0.14"/><rect x="313.1" y="33" width="61.1" height="1" fill="url(#g0)" opacity="0.838"/><rect x="320.4" y="34" width="48.5" height="1" fill="#fff" opacity="0.133"/><rect x="261.3" y="34" width="164.3" height="1" fill="url(#g0)" opacity="0.16"/><rect x="306.0" y="34" width="74.7" height="1" fill="url(#g0)" opacity="0.706"/><rect x="320.4" y="35" width="48.5" height="1" fill="#fff" opacity="0.145"/><rect x="271.7" y="35" width="143.4" height="1" fill="url(#g0)" opacity="0.19"/><rect x="310.9" y="35" width="65.2" height="1" fill="url(#g0)" opacity="0.904"/><rect x="320.4" y="36" width="48.5" height="1" fill="#fff" opacity="0.039"/><rect x="275.6" y="36" width="135.7" height="1" fill="url(#g0)" opacity="0.14"/><rect x="312.0" y="36" width="61.7" height="1" fill="url(#g0)" opacity="0.832"/><rect x="320.4" y="37" width="48.5" height="1" fill="#fff" opacity="0.0368"/><rect x="277.9" y="37" width="131.1" height="1" fill="url(#g0)" opacity="0.18"/><rect x="314.2" y="37" width="59.6" height="1" fill="url(#g0)" opacity="0.784"/><rect x="320.4" y="38" width="48.5" height="1" fill="#fff" opacity="0.0347"/><rect x="283.8" y="38" width="119.2" height="1" fill="url(#g0)" opacity="0.1"/><rect x="316.0" y="38" width="54.2" height="1" fill="url(#g0)" opacity="0.768"/><rect x="320.4" y="39" width="48.5" height="1" fill="#fff" opacity="0.138"/><rect x="271.0" y="39" width="144.9" height="1" fill="url(#g0)" opacity="0.11"/><rect x="310.6" y="39" width="65.8" height="1" fill="url(#g0)" opacity="0.766"/><rect x="320.4" y="40" width="48.5" height="1" fill="#fff" opacity="0.0304"/><rect x="273.8" y="40" width="139.2" height="1" fill="url(#g0)" opacity="0.17"/><rect x="311.1" y="40" width="63.3" height="1" fill="url(#g0)" opacity="0.746"/><rect x="320.4" y="41" width="48.5" height="1" fill="#fff" opacity="0.0423"/><rect x="279.1" y="41" width="128.7" height="1" fill="url(#g0)" opacity="0.16"/><rect x="313.9" y="41" width="58.5" height="1" fill="url(#g0)" opacity="0.722"/><rect x="320.4" y="42" width="48.5" height="1" fill="#fff" opacity="0.0652"/><rect x="283.0" y="42" width="120.8" height="1" fill="url(#g0)" opacity="0.15"/><rect x="315.5" y="42" width="54.9" height="1" fill="url(#g0)" opacity="0.685"/><rect x="320.4" y="43" width="48.5" height="1" fill="#fff" opacity="0.0359"/><rect x="285.9" y="43" width="115.2" height="1" fill="url(#g0)" opacity="0.12"/><rect x="317.9" y="43" width="52.4" height="1" fill="url(#g0)" opacity="0.651"/><rect x="320.4" y="44" width="48.5" height="1" fill="#fff" opacity="0.0925"/><rect x="291.7" y="44" width="103.4" height="1" fill="url(#g0)" opacity="0.15"/><rect x="319.9" y="44" width="47.0" height="1" fill="url(#g0)" opacity="0.623"/><rect x="320.4" y="45" width="48.5" height="1" fill="#fff" opacity="0.108"/><rect x="289.8" y="45" width="107.4" height="1" fill="url(#g0)" opacity="0.098"/><rect x="318.9" y="45" width="48.8" height="1" fill="url(#g0)" opacity="0.633"/><rect x="320.4" y="46" width="48.5" height="1" fill="#fff" opacity="0.0984"/><rect x="283.3" y="46" width="120.2" height="1" fill="url(#g0)" opacity="0.15"/><rect x="315.5" y="46" width="54.7" height="1" fill="url(#g0)" opacity="0.639"/><rect x="320.4" y="47" width="48.5" height="1" fill="#fff" opacity="0.0437"/><rect x="292.3" y="47" width="102.2" height="1" fill="url(#g0)" opacity="0.13"/><rect x="320.2" y="47" width="46.5" height="1" fill="url(#g0)" opacity="0.569"/><rect x="320.4" y="48" width="48.5" height="1" fill="#fff" opacity="0.0554"/><rect x="281.0" y="48" width="124.9" height="1" fill="url(#g0)" opacity="0.13"/><rect x="314.8" y="48" width="56.8" height="1" fill="url(#g0)" opacity="0.623"/><rect x="320.4" y="49" width="48.5" height="1" fill="#fff" opacity="0.0706"/><rect x="286.5" y="49" width="113.9" height="1" fill="url(#g0)" opacity="0.084"/><rect x="316.9" y="49" width="51.8" height="1" fill="url(#g0)" opacity="0.658"/><rect x="320.4" y="50" width="48.5" height="1" fill="#fff" opacity="0.0404"/><rect x="292.6" y="50" width="101.7" height="1" fill="url(#g0)" opacity="0.13"/><rect x="320.5" y="50" width="46.2" height="1" fill="url(#g0)" opacity="0.526"/><rect x="320.4" y="51" width="48.5" height="1" fill="#fff" opacity="0.0512"/><rect x="293.5" y="51" width="99.9" height="1" fill="url(#g0)" opacity="0.1"/><rect x="321.3" y="51" width="45.4" height="1" fill="url(#g0)" opacity="0.658"/><rect x="320.4" y="52" width="48.5" height="1" fill="#fff" opacity="0.0498"/><rect x="293.4" y="52" width="100.1" height="1" fill="url(#g0)" opacity="0.09"/><rect x="320.5" y="52" width="45.5" height="1" fill="url(#g0)" opacity="0.55"/><rect x="320.4" y="53" width="48.5" height="1" fill="#fff" opacity="0.0632"/><rect x="299.6" y="53" width="87.7" height="1" fill="url(#g0)" opacity="0.14"/><rect x="323.9" y="53" width="39.9" height="1" fill="url(#g0)" opacity="0.619"/><rect x="320.4" y="54" width="48.5" height="1" fill="#fff" opacity="0.0145"/><rect x="286.5" y="54" width="114.0" height="1" fill="url(#g0)" opacity="0.12"/><rect x="318.3" y="54" width="51.8" height="1" fill="url(#g0)" opacity="0.57"/><rect x="320.4" y="55" width="48.5" height="1" fill="#fff" opacity="0.0351"/><rect x="288.7" y="55" width="109.5" height="1" fill="url(#g0)" opacity="0.099"/><rect x="318.6" y="55" width="49.8" height="1" fill="url(#g0)" opacity="0.595"/><rect x="320.4" y="56" width="48.5" height="1" fill="#fff" opacity="0.034"/><rect x="296.9" y="56" width="93.1" height="1" fill="url(#g0)" opacity="0.091"/><rect x="322.4" y="56" width="42.3" height="1" fill="url(#g0)" opacity="0.537"/><rect x="320.4" y="57" width="48.5" height="1" fill="#fff" opacity="0.0263"/><rect x="297.0" y="57" width="93.0" height="1" fill="url(#g0)" opacity="0.13"/><rect x="322.9" y="57" width="42.3" height="1" fill="url(#g0)" opacity="0.576"/><rect x="320.4" y="58" width="48.5" height="1" fill="#fff" opacity="0.0127"/><rect x="289.0" y="58" width="108.9" height="1" fill="url(#g0)" opacity="0.11"/><rect x="319.2" y="58" width="49.5" height="1" fill="url(#g0)" opacity="0.472"/><rect x="320.4" y="59" width="48.5" height="1" fill="#fff" opacity="0.0677"/><rect x="289.6" y="59" width="107.6" height="1" fill="url(#g0)" opacity="0.13"/><rect x="319.4" y="59" width="48.9" height="1" fill="url(#g0)" opacity="0.568"/><rect x="320.4" y="60" width="48.5" height="1" fill="#fff" opacity="0.0386"/><rect x="300.7" y="60" width="85.6" height="1" fill="url(#g0)" opacity="0.079"/><rect x="323.8" y="60" width="38.9" height="1" fill="url(#g0)" opacity="0.578"/><rect x="320.4" y="61" width="48.5" height="1" fill="#fff" opacity="0.0114"/><rect x="292.0" y="61" width="103.0" height="1" fill="url(#g0)" opacity="0.065"/><rect x="319.6" y="61" width="46.8" height="1" fill="url(#g0)" opacity="0.474"/><rect x="320.4" y="62" width="48.5" height="1" fill="#fff" opacity="0.0275"/><rect x="294.7" y="62" width="97.6" height="1" fill="url(#g0)" opacity="0.092"/><rect x="321.9" y="62" width="44.3" height="1" fill="url(#g0)" opacity="0.434"/><rect x="320.4" y="63" width="48.5" height="1" fill="#fff" opacity="0.045"/><rect x="298.9" y="63" width="89.0" height="1" fill="url(#g0)" opacity="0.097"/><rect x="322.9" y="63" width="40.5" height="1" fill="url(#g0)" opacity="0.452"/><rect x="320.4" y="64" width="48.5" height="1" fill="#fff" opacity="0.033"/><rect x="299.7" y="64" width="87.6" height="1" fill="url(#g0)" opacity="0.09"/><rect x="323.9" y="64" width="39.8" height="1" fill="url(#g0)" opacity="0.543"/><rect x="320.4" y="65" width="48.5" height="1" fill="#fff" opacity="0.0146"/><rect x="299.0" y="65" width="89.0" height="1" fill="url(#g0)" opacity="0.13"/><rect x="323.4" y="65" width="40.4" height="1" fill="url(#g0)" opacity="0.519"/><rect x="320.4" y="66" width="48.5" height="1" fill="#fff" opacity="0.0511"/><rect x="306.1" y="66" width="74.7" height="1" fill="url(#g0)" opacity="0.12"/><rect x="326.3" y="66" width="33.9" height="1" fill="url(#g0)" opacity="0.499"/><rect x="320.4" y="67" width="48.5" height="1" fill="#fff" opacity="0.0288"/><rect x="304.9" y="67" width="77.1" height="1" fill="url(#g0)" opacity="0.12"/><rect x="326.0" y="67" width="35.0" height="1" fill="url(#g0)" opacity="0.47"/><rect x="320.4" y="68" width="48.5" height="1" fill="#fff" opacity="0.00843"/><rect x="297.3" y="68" width="92.2" height="1" fill="url(#g0)" opacity="0.095"/><rect x="322.4" y="68" width="41.9" height="1" fill="url(#g0)" opacity="0.484"/><rect x="320.4" y="69" width="48.5" height="1" fill="#fff" opacity="0.012"/><rect x="307.1" y="69" width="72.8" height="1" fill="url(#g0)" opacity="0.067"/><rect x="326.4" y="69" width="33.1" height="1" fill="url(#g0)" opacity="0.404"/><rect x="320.4" y="70" width="48.5" height="1" fill="#fff" opacity="0.0118"/><rect x="299.8" y="70" width="87.3" height="1" fill="url(#g0)" opacity="0.099"/><rect x="323.2" y="70" width="39.7" height="1" fill="url(#g0)" opacity="0.448"/><rect x="320.4" y="71" width="48.5" height="1" fill="#fff" opacity="0.033"/><rect x="306.5" y="71" width="74.0" height="1" fill="url(#g0)" opacity="0.099"/><rect x="326.1" y="71" width="33.6" height="1" fill="url(#g0)" opacity="0.473"/><rect x="320.4" y="72" width="48.5" height="1" fill="#fff" opacity="0.0248"/><rect x="304.3" y="72" width="78.3" height="1" fill="url(#g0)" opacity="0.068"/><rect x="325.3" y="72" width="35.6" height="1" fill="url(#g0)" opacity="0.393"/><rect x="320.4" y="73" width="48.5" height="1" fill="#fff" opacity="0.00751"/><rect x="307.3" y="73" width="72.2" height="1" fill="url(#g0)" opacity="0.07"/><rect x="327.3" y="73" width="32.8" height="1" fill="url(#g0)" opacity="0.486"/><rect x="320.4" y="74" width="48.5" height="1" fill="#fff" opacity="0.0148"/><rect x="297.9" y="74" width="91.1" height="1" fill="url(#g0)" opacity="0.12"/><rect x="322.2" y="74" width="41.4" height="1" fill="url(#g0)" opacity="0.483"/><rect x="320.4" y="75" width="48.5" height="1" fill="#fff" opacity="0.0236"/><rect x="301.0" y="75" width="84.8" height="1" fill="url(#g0)" opacity="0.062"/><rect x="323.5" y="75" width="38.5" height="1" fill="url(#g0)" opacity="0.452"/><rect x="320.4" y="76" width="48.5" height="1" fill="#fff" opacity="0.0178"/><rect x="299.7" y="76" width="87.6" height="1" fill="url(#g0)" opacity="0.1"/><rect x="323.6" y="76" width="39.8" height="1" fill="url(#g0)" opacity="0.419"/><rect x="320.4" y="77" width="48.5" height="1" fill="#fff" opacity="0.0386"/><rect x="308.8" y="77" width="69.3" height="1" fill="url(#g0)" opacity="0.08"/><rect x="328.2" y="77" width="31.5" height="1" fill="url(#g0)" opacity="0.426"/><rect x="320.4" y="78" width="48.5" height="1" fill="#fff" opacity="0.0172"/><rect x="307.7" y="78" width="71.5" height="1" fill="url(#g0)" opacity="0.07"/><rect x="326.8" y="78" width="32.5" height="1" fill="url(#g0)" opacity="0.447"/><rect x="320.4" y="79" width="48.5" height="1" fill="#fff" opacity="0.00677"/><rect x="310.3" y="79" width="66.3" height="1" fill="url(#g0)" opacity="0.1"/><rect x="328.9" y="79" width="30.1" height="1" fill="url(#g0)" opacity="0.432"/><rect x="320.4" y="80" width="48.5" height="1" fill="#fff" opacity="0.0166"/><rect x="302.2" y="80" width="82.5" height="1" fill="url(#g0)" opacity="0.089"/><rect x="324.3" y="80" width="37.5" height="1" fill="url(#g0)" opacity="0.372"/><rect x="320.4" y="81" width="48.5" height="1" fill="#fff" opacity="0.0163"/><rect x="309.4" y="81" width="68.1" height="1" fill="url(#g0)" opacity="0.085"/><rect x="328.7" y="81" width="31.0" height="1" fill="url(#g0)" opacity="0.38"/><rect x="320.4" y="82" width="48.5" height="1" fill="#fff" opacity="0.016"/><rect x="306.4" y="82" width="74.1" height="1" fill="url(#g0)" opacity="0.087"/><rect x="326.2" y="82" width="33.7" height="1" fill="url(#g0)" opacity="0.361"/><rect x="320.4" y="83" width="48.5" height="1" fill="#fff" opacity="0.00628"/><rect x="311.2" y="83" width="64.5" height="1" fill="url(#g0)" opacity="0.066"/><rect x="328.7" y="83" width="29.3" height="1" fill="url(#g0)" opacity="0.479"/><rect x="320.4" y="84" width="48.5" height="1" fill="#fff" opacity="0.0262"/><rect x="303.2" y="84" width="80.5" height="1" fill="url(#g0)" opacity="0.069"/><rect x="324.6" y="84" width="36.6" height="1" fill="url(#g0)" opacity="0.355"/><rect x="320.4" y="85" width="48.5" height="1" fill="#fff" opacity="0.0196"/><rect x="301.3" y="85" width="84.4" height="1" fill="url(#g0)" opacity="0.092"/><rect x="324.1" y="85" width="38.3" height="1" fill="url(#g0)" opacity="0.413"/><rect x="320.4" y="86" width="48.5" height="1" fill="#fff" opacity="0.0251"/><rect x="310.0" y="86" width="66.9" height="1" fill="url(#g0)" opacity="0.084"/><rect x="328.0" y="86" width="30.4" height="1" fill="url(#g0)" opacity="0.456"/><rect x="320.4" y="87" width="48.5" height="1" fill="#fff" opacity="0.0318"/><rect x="305.8" y="87" width="75.3" height="1" fill="url(#g0)" opacity="0.06"/><rect x="325.7" y="87" width="34.2" height="1" fill="url(#g0)" opacity="0.378"/><rect x="320.4" y="88" width="48.5" height="1" fill="#fff" opacity="0.0113"/><rect x="307.5" y="88" width="71.9" height="1" fill="url(#g0)" opacity="0.088"/><rect x="327.0" y="88" width="32.7" height="1" fill="url(#g0)" opacity="0.37"/><rect x="320.4" y="89" width="48.5" height="1" fill="#fff" opacity="0.0305"/><rect x="306.8" y="89" width="73.3" height="1" fill="url(#g0)" opacity="0.08"/><rect x="327.5" y="89" width="33.3" height="1" fill="url(#g0)" opacity="0.416"/><rect x="320.4" y="90" width="48.5" height="1" fill="#fff" opacity="0.0108"/><rect x="307.1" y="90" width="72.7" height="1" fill="url(#g0)" opacity="0.059"/><rect x="326.9" y="90" width="33.1" height="1" fill="url(#g0)" opacity="0.37"/><rect x="320.4" y="91" width="48.5" height="1" fill="#fff" opacity="0.00794"/><rect x="309.6" y="91" width="67.8" height="1" fill="url(#g0)" opacity="0.066"/><rect x="327.9" y="91" width="30.8" height="1" fill="url(#g0)" opacity="0.382"/><rect x="320.4" y="92" width="48.5" height="1" fill="#fff" opacity="0.022"/><rect x="310.1" y="92" width="66.6" height="1" fill="url(#g0)" opacity="0.072"/><rect x="328.5" y="92" width="30.3" height="1" fill="url(#g0)" opacity="0.375"/><rect x="320.4" y="93" width="48.5" height="1" fill="#fff" opacity="0.00505"/><rect x="308.4" y="93" width="70.2" height="1" fill="url(#g0)" opacity="0.091"/><rect x="328.1" y="93" width="31.9" height="1" fill="url(#g0)" opacity="0.417"/><rect x="320.4" y="94" width="48.5" height="1" fill="#fff" opacity="0.0209"/><rect x="307.8" y="94" width="71.3" height="1" fill="url(#g0)" opacity="0.076"/><rect x="328.0" y="94" width="32.4" height="1" fill="url(#g0)" opacity="0.357"/><rect x="320.4" y="95" width="48.5" height="1" fill="#fff" opacity="0.0048"/><rect x="307.8" y="95" width="71.2" height="1" fill="url(#g0)" opacity="0.053"/><rect x="328.0" y="95" width="32.4" height="1" fill="url(#g0)" opacity="0.358"/><rect x="320.4" y="96" width="48.5" height="1" fill="#fff" opacity="0.0152"/><rect x="306.1" y="96" width="74.7" height="1" fill="url(#g0)" opacity="0.078"/><rect x="326.6" y="96" width="34.0" height="1" fill="url(#g0)" opacity="0.355"/><rect x="320.4" y="97" width="48.5" height="1" fill="#fff" opacity="0.0194"/><rect x="305.4" y="97" width="76.0" height="1" fill="url(#g0)" opacity="0.061"/><rect x="326.4" y="97" width="34.6" height="1" fill="url(#g0)" opacity="0.358"/><rect x="320.4" y="98" width="48.5" height="1" fill="#fff" opacity="0.00444"/><rect x="306.1" y="98" width="74.6" height="1" fill="url(#g0)" opacity="0.077"/><rect x="326.7" y="98" width="33.9" height="1" fill="url(#g0)" opacity="0.33"/><rect x="320.4" y="99" width="48.5" height="1" fill="#fff" opacity="0.00431"/><rect x="312.7" y="99" width="61.6" height="1" fill="url(#g0)" opacity="0.072"/><rect x="329.2" y="99" width="28.0" height="1" fill="url(#g0)" opacity="0.365"/><rect x="320.4" y="100" width="48.5" height="1" fill="#fff" opacity="0.023"/><rect x="309.3" y="100" width="68.2" height="1" fill="url(#g0)" opacity="0.067"/><rect x="327.3" y="100" width="31.0" height="1" fill="url(#g0)" opacity="0.408"/><rect x="320.4" y="101" width="48.5" height="1" fill="#fff" opacity="0.0102"/><rect x="310.3" y="101" width="66.2" height="1" fill="url(#g0)" opacity="0.085"/><rect x="327.6" y="101" width="30.1" height="1" fill="url(#g0)" opacity="0.364"/><rect x="308.2" y="102" width="70.5" height="1" fill="url(#g0)" opacity="0.056"/><rect x="327.1" y="102" width="32.0" height="1" fill="url(#g0)" opacity="0.326"/><rect x="320.4" y="103" width="48.5" height="1" fill="#fff" opacity="0.0166"/><rect x="314.7" y="103" width="57.5" height="1" fill="url(#g0)" opacity="0.061"/><rect x="329.6" y="103" width="26.1" height="1" fill="url(#g0)" opacity="0.392"/><rect x="320.4" y="104" width="48.5" height="1" fill="#fff" opacity="0.00766"/><rect x="308.8" y="104" width="69.4" height="1" fill="url(#g0)" opacity="0.051"/><rect x="327.4" y="104" width="31.5" height="1" fill="url(#g0)" opacity="0.319"/><rect x="320.4" y="105" width="48.5" height="1" fill="#fff" opacity="0.00564"/><rect x="315.5" y="105" width="56.0" height="1" fill="url(#g0)" opacity="0.069"/><rect x="331.4" y="105" width="25.4" height="1" fill="url(#g0)" opacity="0.344"/><rect x="320.4" y="106" width="48.5" height="1" fill="#fff" opacity="0.00739"/><rect x="316.0" y="106" width="54.9" height="1" fill="url(#g0)" opacity="0.06"/><rect x="330.9" y="106" width="25.0" height="1" fill="url(#g0)" opacity="0.395"/><rect x="320.4" y="107" width="48.5" height="1" fill="#fff" opacity="0.0154"/><rect x="309.0" y="107" width="68.9" height="1" fill="url(#g0)" opacity="0.076"/><rect x="327.7" y="107" width="31.3" height="1" fill="url(#g0)" opacity="0.357"/><rect x="320.4" y="108" width="48.5" height="1" fill="#fff" opacity="0.00711"/><rect x="315.5" y="108" width="55.8" height="1" fill="url(#g0)" opacity="0.05"/><rect x="331.5" y="108" width="25.4" height="1" fill="url(#g0)" opacity="0.371"/><rect x="316.3" y="109" width="54.4" height="1" fill="url(#g0)" opacity="0.065"/><rect x="330.8" y="109" width="24.7" height="1" fill="url(#g0)" opacity="0.294"/><rect x="320.4" y="110" width="48.5" height="1" fill="#fff" opacity="0.00513"/><rect x="313.4" y="110" width="60.2" height="1" fill="url(#g0)" opacity="0.063"/><rect x="329.3" y="110" width="27.4" height="1" fill="url(#g0)" opacity="0.301"/><rect x="320.4" y="111" width="48.5" height="1" fill="#fff" opacity="0.0109"/><rect x="309.0" y="111" width="68.9" height="1" fill="url(#g0)" opacity="0.081"/><rect x="327.2" y="111" width="31.3" height="1" fill="url(#g0)" opacity="0.331"/><rect x="320.4" y="112" width="48.5" height="1" fill="#fff" opacity="0.018"/><rect x="314.3" y="112" width="58.3" height="1" fill="url(#g0)" opacity="0.078"/><rect x="329.8" y="112" width="26.5" height="1" fill="url(#g0)" opacity="0.289"/><rect x="320.4" y="113" width="48.5" height="1" fill="#fff" opacity="0.00642"/><rect x="311.9" y="113" width="63.2" height="1" fill="url(#g0)" opacity="0.087"/><rect x="328.6" y="113" width="28.7" height="1" fill="url(#g0)" opacity="0.353"/><rect x="312.8" y="114" width="61.3" height="1" fill="url(#g0)" opacity="0.071"/><rect x="329.4" y="114" width="27.8" height="1" fill="url(#g0)" opacity="0.342"/><rect x="311.7" y="115" width="63.5" height="1" fill="url(#g0)" opacity="0.083"/><rect x="328.9" y="115" width="28.9" height="1" fill="url(#g0)" opacity="0.34"/><rect x="320.4" y="116" width="48.5" height="1" fill="#fff" opacity="0.0128"/><rect x="315.8" y="116" width="55.3" height="1" fill="url(#g0)" opacity="0.049"/><rect x="330.9" y="116" width="25.1" height="1" fill="url(#g0)" opacity="0.324"/><rect x="320.4" y="117" width="48.5" height="1" fill="#fff" opacity="0.00587"/><rect x="312.1" y="117" width="62.6" height="1" fill="url(#g0)" opacity="0.059"/><rect x="329.2" y="117" width="28.5" height="1" fill="url(#g0)" opacity="0.266"/><rect x="313.6" y="118" width="59.7" height="1" fill="url(#g0)" opacity="0.05"/><rect x="330.4" y="118" width="27.1" height="1" fill="url(#g0)" opacity="0.282"/><rect x="320.4" y="119" width="48.5" height="1" fill="#fff" opacity="0.0119"/><rect x="317.7" y="119" width="51.5" height="1" fill="url(#g0)" opacity="0.058"/><rect x="332.1" y="119" width="23.4" height="1" fill="url(#g0)" opacity="0.315"/><rect x="320.4" y="120" width="48.5" height="1" fill="#fff" opacity="0.00546"/><rect x="311.5" y="120" width="64.0" height="1" fill="url(#g0)" opacity="0.06"/><rect x="328.6" y="120" width="29.1" height="1" fill="url(#g0)" opacity="0.337"/><rect x="312.1" y="121" width="62.6" height="1" fill="url(#g0)" opacity="0.06"/><rect x="330.0" y="121" width="28.5" height="1" fill="url(#g0)" opacity="0.273"/><rect x="320.4" y="122" width="48.5" height="1" fill="#fff" opacity="0.00648"/><rect x="313.6" y="122" width="59.7" height="1" fill="url(#g0)" opacity="0.049"/><rect x="330.4" y="122" width="27.1" height="1" fill="url(#g0)" opacity="0.279"/><rect x="320.4" y="123" width="48.5" height="1" fill="#fff" opacity="0.00631"/><rect x="315.6" y="123" width="55.7" height="1" fill="url(#g0)" opacity="0.074"/><rect x="331.4" y="123" width="25.3" height="1" fill="url(#g0)" opacity="0.279"/><rect x="313.5" y="124" width="59.9" height="1" fill="url(#g0)" opacity="0.064"/><rect x="329.3" y="124" width="27.2" height="1" fill="url(#g0)" opacity="0.278"/><rect x="320.4" y="125" width="48.5" height="1" fill="#fff" opacity="0.0102"/><rect x="313.1" y="125" width="60.7" height="1" fill="url(#g0)" opacity="0.039"/><rect x="330.0" y="125" width="27.6" height="1" fill="url(#g0)" opacity="0.295"/><rect x="320.4" y="125" width="48.5" height="1" fill="#fff" opacity="0.0484"/><rect x="292.8" y="125" width="101.3" height="1" fill="url(#g0)" opacity="0.065"/><rect x="320.1" y="125" width="46.0" height="1" fill="url(#g0)" opacity="0.434"/><rect x="320.4" y="126" width="48.5" height="1" fill="#fff" opacity="0.0285"/><rect x="287.6" y="126" width="111.8" height="1" fill="url(#g0)" opacity="0.087"/><rect x="317.4" y="126" width="50.8" height="1" fill="url(#g0)" opacity="0.47"/><rect x="320.4" y="127" width="48.5" height="1" fill="#fff" opacity="0.0285"/><rect x="294.5" y="127" width="97.9" height="1" fill="url(#g0)" opacity="0.087"/><rect x="320.7" y="127" width="44.5" height="1" fill="url(#g0)" opacity="0.403"/><rect x="320.4" y="127" width="48.5" height="1" fill="#fff" opacity="0.425"/><rect x="273.7" y="127" width="139.6" height="1" fill="url(#g0)" opacity="0.17"/><rect x="312.2" y="127" width="63.4" height="1" fill="url(#g0)" opacity="0.75"/><rect x="320.4" y="128" width="48.5" height="1" fill="#fff" opacity="0.266"/><rect x="279.2" y="128" width="128.5" height="1" fill="url(#g0)" opacity="0.2"/><rect x="314.1" y="128" width="58.4" height="1" fill="url(#g0)" opacity="0.856"/><rect x="320.4" y="129" width="48.5" height="1" fill="#fff" opacity="0.127"/><rect x="285.8" y="129" width="115.3" height="1" fill="url(#g0)" opacity="0.12"/><rect x="317.7" y="129" width="52.4" height="1" fill="url(#g0)" opacity="0.777"/><rect x="320.4" y="130" width="48.5" height="1" fill="#fff" opacity="0.1"/><rect x="274.7" y="130" width="137.5" height="1" fill="url(#g0)" opacity="0.17"/><rect x="312.0" y="130" width="62.5" height="1" fill="url(#g0)" opacity="0.755"/><rect x="320.4" y="131" width="48.5" height="1" fill="#fff" opacity="0.0454"/><rect x="287.8" y="131" width="111.2" height="1" fill="url(#g0)" opacity="0.1"/><rect x="318.1" y="131" width="50.6" height="1" fill="url(#g0)" opacity="0.816"/><rect x="320.4" y="132" width="48.5" height="1" fill="#fff" opacity="0.0405"/><rect x="280.5" y="132" width="125.9" height="1" fill="url(#g0)" opacity="0.12"/><rect x="314.4" y="132" width="57.2" height="1" fill="url(#g0)" opacity="0.615"/><rect x="320.4" y="133" width="48.5" height="1" fill="#fff" opacity="0.0891"/><rect x="294.6" y="133" width="97.7" height="1" fill="url(#g0)" opacity="0.17"/><rect x="321.0" y="133" width="44.4" height="1" fill="url(#g0)" opacity="0.733"/><rect x="320.4" y="134" width="48.5" height="1" fill="#fff" opacity="0.0461"/><rect x="295.5" y="134" width="95.9" height="1" fill="url(#g0)" opacity="0.13"/><rect x="321.9" y="134" width="43.6" height="1" fill="url(#g0)" opacity="0.582"/><rect x="320.4" y="135" width="48.5" height="1" fill="#fff" opacity="0.0647"/><rect x="296.9" y="135" width="93.1" height="1" fill="url(#g0)" opacity="0.13"/><rect x="322.2" y="135" width="42.3" height="1" fill="url(#g0)" opacity="0.567"/><rect x="320.4" y="136" width="48.5" height="1" fill="#fff" opacity="0.0544"/><rect x="287.3" y="136" width="112.3" height="1" fill="url(#g0)" opacity="0.14"/><rect x="317.4" y="136" width="51.0" height="1" fill="url(#g0)" opacity="0.543"/><rect x="320.4" y="137" width="48.5" height="1" fill="#fff" opacity="0.0308"/><rect x="287.2" y="137" width="112.5" height="1" fill="url(#g0)" opacity="0.11"/><rect x="318.1" y="137" width="51.1" height="1" fill="url(#g0)" opacity="0.567"/><rect x="320.4" y="138" width="48.5" height="1" fill="#fff" opacity="0.029"/><rect x="296.2" y="138" width="94.5" height="1" fill="url(#g0)" opacity="0.12"/><rect x="321.8" y="138" width="42.9" height="1" fill="url(#g0)" opacity="0.653"/><rect x="320.4" y="139" width="48.5" height="1" fill="#fff" opacity="0.0772"/><rect x="302.6" y="139" width="81.8" height="1" fill="url(#g0)" opacity="0.1"/><rect x="324.4" y="139" width="37.2" height="1" fill="url(#g0)" opacity="0.526"/><rect x="320.4" y="140" width="48.5" height="1" fill="#fff" opacity="0.0424"/><rect x="290.9" y="140" width="105.0" height="1" fill="url(#g0)" opacity="0.13"/><rect x="319.0" y="140" width="47.7" height="1" fill="url(#g0)" opacity="0.61"/><rect x="320.4" y="141" width="48.5" height="1" fill="#fff" opacity="0.0315"/><rect x="299.6" y="141" width="87.8" height="1" fill="url(#g0)" opacity="0.13"/><rect x="324.2" y="141" width="39.9" height="1" fill="url(#g0)" opacity="0.551"/><rect x="320.4" y="142" width="48.5" height="1" fill="#fff" opacity="0.0473"/><rect x="293.5" y="142" width="99.9" height="1" fill="url(#g0)" opacity="0.1"/><rect x="320.1" y="142" width="45.4" height="1" fill="url(#g0)" opacity="0.531"/><rect x="320.4" y="143" width="48.5" height="1" fill="#fff" opacity="0.0434"/><rect x="302.4" y="143" width="82.0" height="1" fill="url(#g0)" opacity="0.1"/><rect x="325.4" y="143" width="37.3" height="1" fill="url(#g0)" opacity="0.605"/><rect x="320.4" y="144" width="48.5" height="1" fill="#fff" opacity="0.0243"/><rect x="295.1" y="144" width="96.8" height="1" fill="url(#g0)" opacity="0.096"/><rect x="321.4" y="144" width="44.0" height="1" fill="url(#g0)" opacity="0.6"/><rect x="320.4" y="145" width="48.5" height="1" fill="#fff" opacity="0.0219"/><rect x="301.2" y="145" width="84.6" height="1" fill="url(#g0)" opacity="0.067"/><rect x="323.9" y="145" width="38.4" height="1" fill="url(#g0)" opacity="0.504"/><rect x="320.4" y="146" width="48.5" height="1" fill="#fff" opacity="0.0244"/><rect x="307.6" y="146" width="71.6" height="1" fill="url(#g0)" opacity="0.081"/><rect x="327.1" y="146" width="32.6" height="1" fill="url(#g0)" opacity="0.464"/><rect x="320.4" y="147" width="48.5" height="1" fill="#fff" opacity="0.0284"/><rect x="298.8" y="147" width="89.3" height="1" fill="url(#g0)" opacity="0.13"/><rect x="323.1" y="147" width="40.6" height="1" fill="url(#g0)" opacity="0.513"/><rect x="320.4" y="148" width="48.5" height="1" fill="#fff" opacity="0.0167"/><rect x="299.2" y="148" width="88.4" height="1" fill="url(#g0)" opacity="0.09"/><rect x="323.1" y="148" width="40.2" height="1" fill="url(#g0)" opacity="0.44"/><rect x="320.4" y="149" width="48.5" height="1" fill="#fff" opacity="0.02"/><rect x="299.8" y="149" width="87.3" height="1" fill="url(#g0)" opacity="0.09"/><rect x="323.9" y="149" width="39.7" height="1" fill="url(#g0)" opacity="0.443"/><rect x="320.4" y="150" width="48.5" height="1" fill="#fff" opacity="0.0115"/><rect x="309.1" y="150" width="68.8" height="1" fill="url(#g0)" opacity="0.087"/><rect x="327.3" y="150" width="31.3" height="1" fill="url(#g0)" opacity="0.456"/><rect x="320.4" y="151" width="48.5" height="1" fill="#fff" opacity="0.0109"/><rect x="302.6" y="151" width="81.7" height="1" fill="url(#g0)" opacity="0.098"/><rect x="325.2" y="151" width="37.1" height="1" fill="url(#g0)" opacity="0.396"/><rect x="320.4" y="152" width="48.5" height="1" fill="#fff" opacity="0.00691"/><rect x="305.0" y="152" width="76.9" height="1" fill="url(#g0)" opacity="0.12"/><rect x="325.6" y="152" width="34.9" height="1" fill="url(#g0)" opacity="0.494"/><rect x="320.4" y="153" width="48.5" height="1" fill="#fff" opacity="0.00655"/><rect x="309.9" y="153" width="67.0" height="1" fill="url(#g0)" opacity="0.068"/><rect x="328.2" y="153" width="30.5" height="1" fill="url(#g0)" opacity="0.394"/><rect x="320.4" y="154" width="48.5" height="1" fill="#fff" opacity="0.0124"/><rect x="307.8" y="154" width="71.3" height="1" fill="url(#g0)" opacity="0.07"/><rect x="326.5" y="154" width="32.4" height="1" fill="url(#g0)" opacity="0.458"/><rect x="320.4" y="155" width="48.5" height="1" fill="#fff" opacity="0.00873"/><rect x="305.3" y="155" width="76.3" height="1" fill="url(#g0)" opacity="0.057"/><rect x="325.7" y="155" width="34.7" height="1" fill="url(#g0)" opacity="0.392"/><rect x="320.4" y="156" width="48.5" height="1" fill="#fff" opacity="0.0177"/><rect x="306.9" y="156" width="73.1" height="1" fill="url(#g0)" opacity="0.074"/><rect x="327.1" y="156" width="33.2" height="1" fill="url(#g0)" opacity="0.414"/><rect x="320.4" y="157" width="48.5" height="1" fill="#fff" opacity="0.0216"/><rect x="314.7" y="157" width="57.5" height="1" fill="url(#g0)" opacity="0.098"/><rect x="329.8" y="157" width="26.1" height="1" fill="url(#g0)" opacity="0.435"/><rect x="320.4" y="158" width="48.5" height="1" fill="#fff" opacity="0.0154"/><rect x="314.0" y="158" width="58.8" height="1" fill="url(#g0)" opacity="0.05"/><rect x="330.7" y="158" width="26.7" height="1" fill="url(#g0)" opacity="0.372"/><rect x="320.4" y="159" width="48.5" height="1" fill="#fff" opacity="0.0185"/><rect x="315.5" y="159" width="55.9" height="1" fill="url(#g0)" opacity="0.07"/><rect x="330.9" y="159" width="25.4" height="1" fill="url(#g0)" opacity="0.318"/><rect x="320.4" y="160" width="48.5" height="1" fill="#fff" opacity="0.008"/><rect x="309.6" y="160" width="67.7" height="1" fill="url(#g0)" opacity="0.081"/><rect x="327.8" y="160" width="30.8" height="1" fill="url(#g0)" opacity="0.323"/><rect x="320.4" y="161" width="48.5" height="1" fill="#fff" opacity="0.00771"/><rect x="315.6" y="161" width="55.7" height="1" fill="url(#g0)" opacity="0.05"/><rect x="330.2" y="161" width="25.3" height="1" fill="url(#g0)" opacity="0.344"/><rect x="320.4" y="162" width="48.5" height="1" fill="#fff" opacity="0.00927"/><rect x="316.2" y="162" width="54.5" height="1" fill="url(#g0)" opacity="0.075"/><rect x="331.1" y="162" width="24.8" height="1" fill="url(#g0)" opacity="0.371"/><rect x="314.0" y="163" width="58.9" height="1" fill="url(#g0)" opacity="0.056"/><rect x="330.4" y="163" width="26.8" height="1" fill="url(#g0)" opacity="0.352"/><rect x="309.9" y="164" width="67.1" height="1" fill="url(#g0)" opacity="0.069"/><rect x="327.8" y="164" width="30.5" height="1" fill="url(#g0)" opacity="0.289"/><rect x="320.4" y="165" width="48.5" height="1" fill="#fff" opacity="0.018"/><rect x="317.7" y="165" width="51.4" height="1" fill="url(#g0)" opacity="0.055"/><rect x="331.9" y="165" width="23.4" height="1" fill="url(#g0)" opacity="0.288"/><rect x="318.6" y="166" width="49.7" height="1" fill="url(#g0)" opacity="0.06"/><rect x="332.1" y="166" width="22.6" height="1" fill="url(#g0)" opacity="0.307"/><rect x="320.4" y="167" width="48.5" height="1" fill="#fff" opacity="0.00596"/><rect x="314.2" y="167" width="58.4" height="1" fill="url(#g0)" opacity="0.055"/><rect x="329.7" y="167" width="26.5" height="1" fill="url(#g0)" opacity="0.337"/><rect x="320.4" y="168" width="48.5" height="1" fill="#fff" opacity="0.00922"/><rect x="313.5" y="168" width="59.9" height="1" fill="url(#g0)" opacity="0.057"/><rect x="330.1" y="168" width="27.2" height="1" fill="url(#g0)" opacity="0.307"/><rect x="320.4" y="169" width="48.5" height="1" fill="#fff" opacity="0.0148"/><rect x="316.0" y="169" width="54.9" height="1" fill="url(#g0)" opacity="0.041"/><rect x="330.6" y="169" width="25.0" height="1" fill="url(#g0)" opacity="0.264"/><rect x="318.0" y="170" width="50.9" height="1" fill="url(#g0)" opacity="0.048"/><rect x="332.2" y="170" width="23.1" height="1" fill="url(#g0)" opacity="0.256"/><rect x="320.7" y="171" width="45.6" height="1" fill="url(#g0)" opacity="0.053"/><rect x="333.9" y="171" width="20.7" height="1" fill="url(#g0)" opacity="0.23"/><rect x="320.4" y="171" width="48.5" height="1" fill="#fff" opacity="0.1"/><rect x="263.9" y="171" width="159.1" height="1" fill="url(#g0)" opacity="0.11"/><rect x="307.0" y="171" width="72.3" height="1" fill="url(#g0)" opacity="0.884"/><rect x="320.4" y="172" width="48.5" height="1" fill="#fff" opacity="0.128"/><rect x="280.6" y="172" width="125.7" height="1" fill="url(#g0)" opacity="0.089"/><rect x="314.9" y="172" width="57.1" height="1" fill="url(#g0)" opacity="0.566"/><rect x="320.4" y="173" width="48.5" height="1" fill="#fff" opacity="0.208"/><rect x="287.8" y="173" width="111.3" height="1" fill="url(#g0)" opacity="0.15"/><rect x="317.5" y="173" width="50.6" height="1" fill="url(#g0)" opacity="0.57"/><rect x="320.4" y="174" width="48.5" height="1" fill="#fff" opacity="0.104"/><rect x="296.5" y="174" width="93.8" height="1" fill="url(#g0)" opacity="0.088"/><rect x="321.5" y="174" width="42.7" height="1" fill="url(#g0)" opacity="0.45"/><rect x="320.4" y="175" width="48.5" height="1" fill="#fff" opacity="0.0627"/><rect x="298.5" y="175" width="89.9" height="1" fill="url(#g0)" opacity="0.088"/><rect x="322.8" y="175" width="40.8" height="1" fill="url(#g0)" opacity="0.532"/><rect x="320.4" y="176" width="48.5" height="1" fill="#fff" opacity="0.0678"/><rect x="301.9" y="176" width="83.1" height="1" fill="url(#g0)" opacity="0.12"/><rect x="324.4" y="176" width="37.8" height="1" fill="url(#g0)" opacity="0.5"/><rect x="320.4" y="177" width="48.5" height="1" fill="#fff" opacity="0.0126"/><rect x="306.1" y="177" width="74.7" height="1" fill="url(#g0)" opacity="0.11"/><rect x="326.5" y="177" width="34.0" height="1" fill="url(#g0)" opacity="0.413"/><rect x="320.4" y="178" width="48.5" height="1" fill="#fff" opacity="0.0512"/><rect x="308.2" y="178" width="70.4" height="1" fill="url(#g0)" opacity="0.073"/><rect x="327.1" y="178" width="32.0" height="1" fill="url(#g0)" opacity="0.504"/><rect x="320.4" y="179" width="48.5" height="1" fill="#fff" opacity="0.0437"/><rect x="304.5" y="179" width="77.8" height="1" fill="url(#g0)" opacity="0.11"/><rect x="325.4" y="179" width="35.4" height="1" fill="url(#g0)" opacity="0.452"/><rect x="320.4" y="180" width="48.5" height="1" fill="#fff" opacity="0.0139"/><rect x="307.2" y="180" width="72.5" height="1" fill="url(#g0)" opacity="0.081"/><rect x="326.3" y="180" width="33.0" height="1" fill="url(#g0)" opacity="0.442"/><rect x="320.4" y="181" width="48.5" height="1" fill="#fff" opacity="0.0119"/><rect x="313.5" y="181" width="59.8" height="1" fill="url(#g0)" opacity="0.098"/><rect x="330.0" y="181" width="27.2" height="1" fill="url(#g0)" opacity="0.383"/><rect x="320.4" y="182" width="48.5" height="1" fill="#fff" opacity="0.0074"/><rect x="308.1" y="182" width="70.7" height="1" fill="url(#g0)" opacity="0.055"/><rect x="326.8" y="182" width="32.1" height="1" fill="url(#g0)" opacity="0.32"/><rect x="320.4" y="183" width="48.5" height="1" fill="#fff" opacity="0.00992"/><rect x="311.1" y="183" width="64.7" height="1" fill="url(#g0)" opacity="0.065"/><rect x="328.5" y="183" width="29.4" height="1" fill="url(#g0)" opacity="0.287"/><rect x="320.4" y="184" width="48.5" height="1" fill="#fff" opacity="0.00892"/><rect x="311.3" y="184" width="64.4" height="1" fill="url(#g0)" opacity="0.056"/><rect x="328.3" y="184" width="29.3" height="1" fill="url(#g0)" opacity="0.297"/><rect x="320.4" y="185" width="48.5" height="1" fill="#fff" opacity="0.0135"/><rect x="317.7" y="185" width="51.5" height="1" fill="url(#g0)" opacity="0.055"/><rect x="332.3" y="185" width="23.4" height="1" fill="url(#g0)" opacity="0.25"/><rect x="320.4" y="186" width="48.5" height="1" fill="#fff" opacity="0.00414"/><rect x="312.8" y="186" width="61.4" height="1" fill="url(#g0)" opacity="0.043"/><rect x="328.9" y="186" width="27.9" height="1" fill="url(#g0)" opacity="0.238"/><rect x="321.0" y="187" width="44.9" height="1" fill="url(#g0)" opacity="0.036"/><rect x="333.8" y="187" width="20.4" height="1" fill="url(#g0)" opacity="0.257"/><rect x="320.4" y="187" width="48.5" height="1" fill="#fff" opacity="0.524"/><rect x="269.9" y="187" width="147.1" height="1" fill="url(#g0)" opacity="0.16"/><rect x="310.8" y="187" width="66.9" height="1" fill="url(#g0)" opacity="0.602"/><rect x="320.4" y="188" width="48.5" height="1" fill="#fff" opacity="0.127"/><rect x="280.0" y="188" width="126.9" height="1" fill="url(#g0)" opacity="0.12"/><rect x="314.3" y="188" width="57.7" height="1" fill="url(#g0)" opacity="0.807"/><rect x="320.4" y="189" width="48.5" height="1" fill="#fff" opacity="0.124"/><rect x="292.9" y="189" width="101.0" height="1" fill="url(#g0)" opacity="0.13"/><rect x="320.5" y="189" width="45.9" height="1" fill="url(#g0)" opacity="0.673"/><rect x="320.4" y="190" width="48.5" height="1" fill="#fff" opacity="0.0506"/><rect x="295.3" y="190" width="96.2" height="1" fill="url(#g0)" opacity="0.099"/><rect x="321.6" y="190" width="43.7" height="1" fill="url(#g0)" opacity="0.548"/><rect x="320.4" y="191" width="48.5" height="1" fill="#fff" opacity="0.0492"/><rect x="299.7" y="191" width="87.5" height="1" fill="url(#g0)" opacity="0.13"/><rect x="323.2" y="191" width="39.8" height="1" fill="url(#g0)" opacity="0.576"/><rect x="320.4" y="192" width="48.5" height="1" fill="#fff" opacity="0.0909"/><rect x="293.8" y="192" width="99.3" height="1" fill="url(#g0)" opacity="0.13"/><rect x="320.5" y="192" width="45.1" height="1" fill="url(#g0)" opacity="0.525"/><rect x="320.4" y="193" width="48.5" height="1" fill="#fff" opacity="0.0335"/><rect x="301.8" y="193" width="83.3" height="1" fill="url(#g0)" opacity="0.12"/><rect x="324.2" y="193" width="37.9" height="1" fill="url(#g0)" opacity="0.497"/><rect x="320.4" y="194" width="48.5" height="1" fill="#fff" opacity="0.0333"/><rect x="305.7" y="194" width="75.6" height="1" fill="url(#g0)" opacity="0.067"/><rect x="326.6" y="194" width="34.3" height="1" fill="url(#g0)" opacity="0.423"/><rect x="320.4" y="195" width="48.5" height="1" fill="#fff" opacity="0.0207"/><rect x="306.4" y="195" width="74.2" height="1" fill="url(#g0)" opacity="0.065"/><rect x="326.5" y="195" width="33.7" height="1" fill="url(#g0)" opacity="0.464"/><rect x="320.4" y="196" width="48.5" height="1" fill="#fff" opacity="0.0183"/><rect x="304.6" y="196" width="77.8" height="1" fill="url(#g0)" opacity="0.077"/><rect x="326.5" y="196" width="35.4" height="1" fill="url(#g0)" opacity="0.418"/><rect x="320.4" y="197" width="48.5" height="1" fill="#fff" opacity="0.0207"/><rect x="310.5" y="197" width="66.0" height="1" fill="url(#g0)" opacity="0.072"/><rect x="328.8" y="197" width="30.0" height="1" fill="url(#g0)" opacity="0.44"/><rect x="320.4" y="198" width="48.5" height="1" fill="#fff" opacity="0.00543"/><rect x="310.8" y="198" width="65.2" height="1" fill="url(#g0)" opacity="0.071"/><rect x="328.5" y="198" width="29.6" height="1" fill="url(#g0)" opacity="0.342"/><rect x="320.4" y="199" width="48.5" height="1" fill="#fff" opacity="0.0112"/><rect x="307.4" y="199" width="72.1" height="1" fill="url(#g0)" opacity="0.064"/><rect x="327.5" y="199" width="32.8" height="1" fill="url(#g0)" opacity="0.408"/><rect x="320.4" y="200" width="48.5" height="1" fill="#fff" opacity="0.00762"/><rect x="316.0" y="200" width="54.8" height="1" fill="url(#g0)" opacity="0.058"/><rect x="331.0" y="200" width="24.9" height="1" fill="url(#g0)" opacity="0.327"/><rect x="320.4" y="201" width="48.5" height="1" fill="#fff" opacity="0.00686"/><rect x="313.8" y="201" width="59.4" height="1" fill="url(#g0)" opacity="0.07"/><rect x="330.6" y="201" width="27.0" height="1" fill="url(#g0)" opacity="0.285"/><rect x="320.4" y="202" width="48.5" height="1" fill="#fff" opacity="0.013"/><rect x="315.4" y="202" width="56.0" height="1" fill="url(#g0)" opacity="0.049"/><rect x="330.2" y="202" width="25.5" height="1" fill="url(#g0)" opacity="0.321"/><rect x="320.4" y="203" width="48.5" height="1" fill="#fff" opacity="0.00867"/><rect x="314.4" y="203" width="58.0" height="1" fill="url(#g0)" opacity="0.067"/><rect x="329.9" y="203" width="26.4" height="1" fill="url(#g0)" opacity="0.26"/><rect x="320.4" y="204" width="48.5" height="1" fill="#fff" opacity="0.0048"/><rect x="318.4" y="204" width="50.1" height="1" fill="url(#g0)" opacity="0.051"/><rect x="332.7" y="204" width="22.8" height="1" fill="url(#g0)" opacity="0.271"/></g></g><path d="M42.50 31.80V204.70M90.50 31.80V204.70" stroke="#262626" stroke-width="1.10" fill="none"/><path d="M42.50 32.30H90.50" stroke="#262626" stroke-width="1.0"/><path d="M42.50 125.45H90.50" stroke="#262626" stroke-width="1.0"/><path d="M42.50 127.95H90.50" stroke="#262626" stroke-width="1.0"/><path d="M42.50 171.50H90.50" stroke="#262626" stroke-width="1.0"/><path d="M42.50 187.40H90.50" stroke="#262626" stroke-width="1.0"/><path d="M42.50 204.20H90.50" stroke="#262626" stroke-width="1.0"/><path d="M42.50 204.2V206.6" stroke="#262626" stroke-width="0.9"/><path d="M66.50 204.2V206.6" stroke="#262626" stroke-width="0.9"/><path d="M90.50 204.2V206.6" stroke="#262626" stroke-width="0.9"/><path d="M80.5 196.6H88.5" stroke="#b0a8a6" stroke-width="0.6"/><text transform="translate(45.4 209.8) rotate(-90)" text-anchor="end" font-size="7.3" fill="#222">−0.5</text><text transform="translate(68.5 209.8) rotate(-90)" text-anchor="end" font-size="7.3" fill="#222">peak center</text><text transform="translate(92.8 209.8) rotate(-90)" text-anchor="end" font-size="7.3" fill="#222">0.5Kb</text><path d="M97.70 31.80V204.70M146.30 31.80V204.70" stroke="#262626" stroke-width="1.10" fill="none"/><path d="M97.70 32.30H146.30" stroke="#262626" stroke-width="1.0"/><path d="M97.70 125.45H146.30" stroke="#262626" stroke-width="1.0"/><path d="M97.70 127.95H146.30" stroke="#262626" stroke-width="1.0"/><path d="M97.70 171.50H146.30" stroke="#262626" stroke-width="1.0"/><path d="M97.70 187.40H146.30" stroke="#262626" stroke-width="1.0"/><path d="M97.70 204.20H146.30" stroke="#262626" stroke-width="1.0"/><path d="M97.70 204.2V206.6" stroke="#262626" stroke-width="0.9"/><path d="M122.00 204.2V206.6" stroke="#262626" stroke-width="0.9"/><path d="M146.30 204.2V206.6" stroke="#262626" stroke-width="0.9"/><path d="M135.7 196.6H143.7" stroke="#b0a8a6" stroke-width="0.6"/><text transform="translate(100.6 209.8) rotate(-90)" text-anchor="end" font-size="7.3" fill="#222">−0.5</text><text transform="translate(124.0 209.8) rotate(-90)" text-anchor="end" font-size="7.3" fill="#222">peak center</text><text transform="translate(148.6 209.8) rotate(-90)" text-anchor="end" font-size="7.3" fill="#222">0.5Kb</text><path d="M153.50 31.80V204.70M201.90 31.80V204.70" stroke="#262626" stroke-width="1.10" fill="none"/><path d="M153.50 32.30H201.90" stroke="#262626" stroke-width="1.0"/><path d="M153.50 125.45H201.90" stroke="#262626" stroke-width="1.0"/><path d="M153.50 127.95H201.90" stroke="#262626" stroke-width="1.0"/><path d="M153.50 171.50H201.90" stroke="#262626" stroke-width="1.0"/><path d="M153.50 187.40H201.90" stroke="#262626" stroke-width="1.0"/><path d="M153.50 204.20H201.90" stroke="#262626" stroke-width="1.0"/><path d="M153.50 204.2V206.6" stroke="#262626" stroke-width="0.9"/><path d="M177.70 204.2V206.6" stroke="#262626" stroke-width="0.9"/><path d="M201.90 204.2V206.6" stroke="#262626" stroke-width="0.9"/><path d="M191.5 196.6H199.5" stroke="#b0a8a6" stroke-width="0.6"/><text transform="translate(156.4 209.8) rotate(-90)" text-anchor="end" font-size="7.3" fill="#222">−0.5</text><text transform="translate(179.7 209.8) rotate(-90)" text-anchor="end" font-size="7.3" fill="#222">peak center</text><text transform="translate(204.2 209.8) rotate(-90)" text-anchor="end" font-size="7.3" fill="#222">0.5Kb</text><path d="M209.40 31.80V204.70M257.45 31.80V204.70" stroke="#262626" stroke-width="1.10" fill="none"/><path d="M209.40 32.30H257.45" stroke="#262626" stroke-width="1.0"/><path d="M209.40 125.45H257.45" stroke="#262626" stroke-width="1.0"/><path d="M209.40 127.95H257.45" stroke="#262626" stroke-width="1.0"/><path d="M209.40 171.50H257.45" stroke="#262626" stroke-width="1.0"/><path d="M209.40 187.40H257.45" stroke="#262626" stroke-width="1.0"/><path d="M209.40 204.20H257.45" stroke="#262626" stroke-width="1.0"/><path d="M209.40 204.2V206.6" stroke="#262626" stroke-width="0.9"/><path d="M233.43 204.2V206.6" stroke="#262626" stroke-width="0.9"/><path d="M257.45 204.2V206.6" stroke="#262626" stroke-width="0.9"/><path d="M247.4 196.6H255.4" stroke="#b0a8a6" stroke-width="0.6"/><text transform="translate(212.3 209.8) rotate(-90)" text-anchor="end" font-size="7.3" fill="#222">−0.5</text><text transform="translate(235.4 209.8) rotate(-90)" text-anchor="end" font-size="7.3" fill="#222">peak center</text><text transform="translate(259.8 209.8) rotate(-90)" text-anchor="end" font-size="7.3" fill="#222">0.5Kb</text><path d="M264.40 31.80V204.70M313.40 31.80V204.70" stroke="#262626" stroke-width="1.10" fill="none"/><path d="M264.40 32.30H313.40" stroke="#262626" stroke-width="1.0"/><path d="M264.40 125.45H313.40" stroke="#262626" stroke-width="1.0"/><path d="M264.40 127.95H313.40" stroke="#262626" stroke-width="1.0"/><path d="M264.40 171.50H313.40" stroke="#262626" stroke-width="1.0"/><path d="M264.40 187.40H313.40" stroke="#262626" stroke-width="1.0"/><path d="M264.40 204.20H313.40" stroke="#262626" stroke-width="1.0"/><path d="M264.40 204.2V206.6" stroke="#262626" stroke-width="0.9"/><path d="M288.90 204.2V206.6" stroke="#262626" stroke-width="0.9"/><path d="M313.40 204.2V206.6" stroke="#262626" stroke-width="0.9"/><path d="M302.4 196.6H310.4" stroke="#b0a8a6" stroke-width="0.6"/><text transform="translate(267.3 209.8) rotate(-90)" text-anchor="end" font-size="7.3" fill="#222">−0.5</text><text transform="translate(290.9 209.8) rotate(-90)" text-anchor="end" font-size="7.3" fill="#222">peak center</text><text transform="translate(315.7 209.8) rotate(-90)" text-anchor="end" font-size="7.3" fill="#222">0.5Kb</text><path d="M320.40 31.80V204.70M368.90 31.80V204.70" stroke="#262626" stroke-width="1.10" fill="none"/><path d="M320.40 32.30H368.90" stroke="#262626" stroke-width="1.0"/><path d="M320.40 125.45H368.90" stroke="#262626" stroke-width="1.0"/><path d="M320.40 127.95H368.90" stroke="#262626" stroke-width="1.0"/><path d="M320.40 171.50H368.90" stroke="#262626" stroke-width="1.0"/><path d="M320.40 187.40H368.90" stroke="#262626" stroke-width="1.0"/><path d="M320.40 204.20H368.90" stroke="#262626" stroke-width="1.0"/><path d="M320.40 204.2V206.6" stroke="#262626" stroke-width="0.9"/><path d="M344.65 204.2V206.6" stroke="#262626" stroke-width="0.9"/><path d="M368.90 204.2V206.6" stroke="#262626" stroke-width="0.9"/><path d="M358.4 196.6H366.4" stroke="#b0a8a6" stroke-width="0.6"/><text transform="translate(323.3 209.8) rotate(-90)" text-anchor="end" font-size="7.3" fill="#222">−0.5</text><text transform="translate(346.6 209.8) rotate(-90)" text-anchor="end" font-size="7.3" fill="#222">peak center</text><text transform="translate(371.2 209.8) rotate(-90)" text-anchor="end" font-size="7.3" fill="#222">0.5Kb</text><text x="39.20" y="65.40" font-size="7.40" text-anchor="end" fill="#1e1e1e">Proximal</text><text x="39.20" y="76.40" font-size="7.40" text-anchor="end" fill="#1e1e1e">Promoter</text><text x="39.20" y="127.90" font-size="7.40" text-anchor="end" fill="#1e1e1e">Distal</text><text x="39.20" y="136.70" font-size="7.40" text-anchor="end" fill="#1e1e1e">Promoter</text><text x="39.20" y="158.40" font-size="7.40" text-anchor="end" fill="#1e1e1e">Intron</text><text x="39.20" y="181.70" font-size="7.40" text-anchor="end" fill="#1e1e1e">Exon</text><text x="39.20" y="199.40" font-size="7.40" text-anchor="end" fill="#1e1e1e">Intergenic</text><rect x="371.5" y="32.4" width="4.4" height="171.8" fill="url(#cbar)" stroke="#2b2b2b" stroke-width="0.9"/><path d="M376 204.2H378.5" stroke="#2b2b2b" stroke-width="0.90" fill="none"/><text x="381.40" y="206.85" font-size="7.30" textLength="4.40" lengthAdjust="spacingAndGlyphs" fill="#1e1e1e">0</text><path d="M376 178.8H378.5" stroke="#2b2b2b" stroke-width="0.90" fill="none"/><text x="381.40" y="181.45" font-size="7.30" textLength="8.80" lengthAdjust="spacingAndGlyphs" fill="#1e1e1e">50</text><path d="M376 153.4H378.5" stroke="#2b2b2b" stroke-width="0.90" fill="none"/><text x="381.40" y="156.05" font-size="7.30" textLength="13.20" lengthAdjust="spacingAndGlyphs" fill="#1e1e1e">100</text><path d="M376 128.0H378.5" stroke="#2b2b2b" stroke-width="0.90" fill="none"/><text x="381.40" y="130.65" font-size="7.30" textLength="13.20" lengthAdjust="spacingAndGlyphs" fill="#1e1e1e">150</text><path d="M376 102.6H378.5" stroke="#2b2b2b" stroke-width="0.90" fill="none"/><text x="381.40" y="105.25" font-size="7.30" textLength="13.20" lengthAdjust="spacingAndGlyphs" fill="#1e1e1e">200</text><path d="M376 77.2H378.5" stroke="#2b2b2b" stroke-width="0.90" fill="none"/><text x="381.40" y="79.85" font-size="7.30" textLength="13.20" lengthAdjust="spacingAndGlyphs" fill="#1e1e1e">250</text><path d="M376 51.8H378.5" stroke="#2b2b2b" stroke-width="0.90" fill="none"/><text x="381.40" y="54.45" font-size="7.30" textLength="13.20" lengthAdjust="spacingAndGlyphs" fill="#1e1e1e">300</text><text x="404.30" y="16.00" font-size="11.00" font-weight="bold" style="stroke-width:0.45px;stroke:#111" textLength="7.60" lengthAdjust="spacingAndGlyphs" fill="#111">B</text><path d="M443.8 151.6V41.0" stroke="#222" stroke-width="0.90" fill="none"/><path d="M441.2 151.6H443.8" stroke="#222" stroke-width="0.90" fill="none"/><text x="438.30" y="154.30" font-size="7.40" text-anchor="end" textLength="4.60" lengthAdjust="spacingAndGlyphs" fill="#1e1e1e">0</text><path d="M441.2 124.5H443.8" stroke="#222" stroke-width="0.90" fill="none"/><text x="438.30" y="127.20" font-size="7.40" text-anchor="end" textLength="18.40" lengthAdjust="spacingAndGlyphs" fill="#1e1e1e">1000</text><path d="M441.2 97.4H443.8" stroke="#222" stroke-width="0.90" fill="none"/><text x="438.30" y="100.10" font-size="7.40" text-anchor="end" textLength="18.40" lengthAdjust="spacingAndGlyphs" fill="#1e1e1e">2000</text><path d="M441.2 70.3H443.8" stroke="#222" stroke-width="0.90" fill="none"/><text x="438.30" y="73.00" font-size="7.40" text-anchor="end" textLength="18.40" lengthAdjust="spacingAndGlyphs" fill="#1e1e1e">3000</text><path d="M441.2 43.2H443.8" stroke="#222" stroke-width="0.90" fill="none"/><text x="438.30" y="45.90" font-size="7.40" text-anchor="end" textLength="18.40" lengthAdjust="spacingAndGlyphs" fill="#1e1e1e">4000</text><path d="M441.6 151.6H504.8" stroke="#222" stroke-width="0.90" fill="none"/><text transform="translate(415.2 95.5) rotate(-90)" font-size="9.6" text-anchor="middle" textLength="40.5" lengthAdjust="spacingAndGlyphs" fill="#1e1e1e">Peak numbers</text><rect x="449.5" y="103.8" width="19" height="8.4" fill="#fabc10"/><rect x="449.5" y="112.2" width="19" height="39.4" fill="#c80a28"/><rect x="477.6" y="55.9" width="19" height="56.3" fill="#114b86"/><rect x="477.6" y="112.2" width="19" height="39.4" fill="#c80a28"/><path d="M459.0 151.6V154.0" stroke="#222" stroke-width="0.90" fill="none"/><path d="M487.1 151.6V154.0" stroke="#222" stroke-width="0.90" fill="none"/><text x="459.00" y="164.00" font-size="7.60" text-anchor="middle" textLength="22.60" lengthAdjust="spacingAndGlyphs" fill="#1e1e1e">SMC3</text><text x="486.40" y="164.00" font-size="7.60" text-anchor="middle" textLength="13.20" lengthAdjust="spacingAndGlyphs" fill="#1e1e1e">YY1</text><rect x="433.1" y="174.6" width="5.6" height="5.6" fill="#fabc10"/><text x="442.00" y="179.30" font-size="7.50" textLength="71.80" lengthAdjust="spacingAndGlyphs" fill="#1e1e1e">SMC3 Binding Peaks</text><rect x="433.1" y="185.6" width="5.6" height="5.6" fill="#114b86"/><text x="442.00" y="190.40" font-size="7.50" textLength="63.60" lengthAdjust="spacingAndGlyphs" fill="#1e1e1e">YY1 Binding Peaks</text><rect x="433.1" y="196.8" width="5.6" height="5.6" fill="#c80a28"/><text x="442.00" y="202.00" font-size="7.50" textLength="62.80" lengthAdjust="spacingAndGlyphs" fill="#1e1e1e">Co-localized Peaks</text><text x="6.60" y="273.40" font-size="10.80" font-weight="bold" style="stroke-width:0.45px;stroke:#111" fill="#111">C</text><path d="M116.30 335.20L116.30 300.60A34.60 34.60 0 0 1 133.63 305.25Z" fill="#c9c4e7" stroke="#151515" stroke-width="1.15" stroke-linejoin="round"/><path d="M116.30 335.20L133.63 305.25A34.60 34.60 0 0 1 146.19 352.63Z" fill="#fabe12" stroke="#151515" stroke-width="1.15" stroke-linejoin="round"/><path d="M116.30 335.20L146.19 352.63A34.60 34.60 0 0 1 131.54 366.26Z" fill="#3aa836" stroke="#151515" stroke-width="1.15" stroke-linejoin="round"/><path d="M116.30 335.20L131.54 366.26A34.60 34.60 0 0 1 128.39 367.62Z" fill="#183862" stroke="#151515" stroke-width="1.15" stroke-linejoin="round"/><path d="M116.30 335.20L128.39 367.62A34.60 34.60 0 1 1 116.30 300.60Z" fill="#37a3dd" stroke="#151515" stroke-width="1.15" stroke-linejoin="round"/><path d="M128.9 366.2L130.6 375.0" stroke="#151515" stroke-width="0.90" fill="none"/><text x="115.80" y="285.90" font-size="7.40" text-anchor="middle" textLength="22.30" lengthAdjust="spacingAndGlyphs" fill="#1e1e1e">8.35%</text><text x="116.00" y="296.00" font-size="7.40" text-anchor="middle" textLength="33.50" lengthAdjust="spacingAndGlyphs" fill="#1e1e1e">Intergenic</text><text x="47.30" y="329.00" font-size="7.40" text-anchor="middle" textLength="27.00" lengthAdjust="spacingAndGlyphs" fill="#1e1e1e">55.69%</text><text x="47.30" y="338.40" font-size="7.40" text-anchor="middle" textLength="59.60" lengthAdjust="spacingAndGlyphs" fill="#1e1e1e">Proximal Promoter</text><text x="165.90" y="326.00" font-size="7.40" text-anchor="middle" textLength="25.80" lengthAdjust="spacingAndGlyphs" fill="#1e1e1e">25.05%</text><text x="166.40" y="335.50" font-size="7.40" text-anchor="middle" textLength="17.30" lengthAdjust="spacingAndGlyphs" fill="#1e1e1e">Intron</text><text x="153.50" y="367.00" font-size="7.40" text-anchor="middle" textLength="22.30" lengthAdjust="spacingAndGlyphs" fill="#1e1e1e">9.34%</text><text x="153.40" y="375.80" font-size="7.40" text-anchor="middle" textLength="14.80" lengthAdjust="spacingAndGlyphs" fill="#1e1e1e">Exon</text><text x="124.60" y="383.60" font-size="7.40" text-anchor="middle" textLength="21.60" lengthAdjust="spacingAndGlyphs" fill="#1e1e1e">1.58%</text><text x="125.00" y="392.60" font-size="7.40" text-anchor="middle" textLength="51.60" lengthAdjust="spacingAndGlyphs" fill="#1e1e1e">Distal Promoter</text><text x="208.20" y="273.50" font-size="10.80" font-weight="bold" style="stroke-width:0.45px;stroke:#111" fill="#111">D</text><text x="418.40" y="287.80" font-size="9.00" text-anchor="middle" textLength="139.00" lengthAdjust="spacingAndGlyphs" fill="#1e1e1e">SMC3 and YY1 co-localized genes</text><rect x="422.2" y="296.20" width="57.2" height="6.0" fill="#c80a28"/><path d="M419.0 299.20H422.2" stroke="#222" stroke-width="0.90" fill="none"/><text x="417.20" y="301.90" font-size="7.60" text-anchor="end" fill="#1e1e1e">Cellular Metabolic Process (612 genes)</text><rect x="422.2" y="305.30" width="56.6" height="6.0" fill="#c80a28"/><path d="M419.0 308.30H422.2" stroke="#222" stroke-width="0.90" fill="none"/><text x="417.20" y="311.00" font-size="7.60" text-anchor="end" fill="#1e1e1e">Nitrogen Compound Metabolic Process (581 genes)</text><rect x="422.2" y="314.40" width="54.7" height="6.0" fill="#c80a28"/><path d="M419.0 317.40H422.2" stroke="#222" stroke-width="0.90" fill="none"/><text x="417.20" y="320.10" font-size="7.60" text-anchor="end" fill="#1e1e1e">Primary Metabolic Process (599 genes)</text><rect x="422.2" y="323.50" width="51.6" height="6.0" fill="#c80a28"/><path d="M419.0 326.50H422.2" stroke="#222" stroke-width="0.90" fill="none"/><text x="417.20" y="329.20" font-size="7.60" text-anchor="end" fill="#1e1e1e">Organic Substance Metabolic Process (622 genes)</text><rect x="422.2" y="332.60" width="51.6" height="6.0" fill="#c80a28"/><path d="M419.0 335.60H422.2" stroke="#222" stroke-width="0.90" fill="none"/><text x="417.20" y="338.30" font-size="7.60" text-anchor="end" fill="#1e1e1e">Metabolic Process (638 genes)</text><rect x="422.2" y="341.70" width="50.6" height="6.0" fill="#c80a28"/><path d="M419.0 344.70H422.2" stroke="#222" stroke-width="0.90" fill="none"/><text x="417.20" y="347.40" font-size="7.60" text-anchor="end" fill="#1e1e1e">Macromolecule Metabolic Process (560 genes)</text><rect x="422.2" y="350.80" width="46.9" height="6.0" fill="#c80a28"/><path d="M419.0 353.80H422.2" stroke="#222" stroke-width="0.90" fill="none"/><text x="417.20" y="356.50" font-size="7.60" text-anchor="end" fill="#1e1e1e">Cellular Macromolecule Metabolic Process (490 genes)</text><rect x="422.2" y="359.90" width="35.2" height="6.0" fill="#c80a28"/><path d="M419.0 362.90H422.2" stroke="#222" stroke-width="0.90" fill="none"/><text x="417.20" y="365.60" font-size="7.60" text-anchor="end" fill="#1e1e1e">Cellular Nitrogen Compound Metabolic Process (395 genes)</text><rect x="422.2" y="369.00" width="34.9" height="6.0" fill="#c80a28"/><path d="M419.0 372.00H422.2" stroke="#222" stroke-width="0.90" fill="none"/><text x="417.20" y="374.70" font-size="7.60" text-anchor="end" fill="#1e1e1e">Cellular Process (800 genes)</text><rect x="422.2" y="378.10" width="31.8" height="6.0" fill="#c80a28"/><path d="M419.0 381.10H422.2" stroke="#222" stroke-width="0.90" fill="none"/><text x="417.20" y="383.80" font-size="7.60" text-anchor="end" fill="#1e1e1e">Cellular Protein Metabolic Process (319 genes)</text><path d="M422.2 292.6V387.2H488.6" stroke="#222" stroke-width="1.00" fill="none"/><path d="M422.0 387.2V389.6" stroke="#222" stroke-width="0.90" fill="none"/><text x="422.00" y="399.70" font-size="7.20" text-anchor="middle" textLength="4.00" lengthAdjust="spacingAndGlyphs" fill="#1e1e1e">0</text><path d="M443.2 387.2V389.6" stroke="#222" stroke-width="0.90" fill="none"/><text x="443.20" y="399.70" font-size="7.20" text-anchor="middle" textLength="8.00" lengthAdjust="spacingAndGlyphs" fill="#1e1e1e">20</text><path d="M464.0 387.2V389.6" stroke="#222" stroke-width="0.90" fill="none"/><text x="464.00" y="399.70" font-size="7.20" text-anchor="middle" textLength="8.00" lengthAdjust="spacingAndGlyphs" fill="#1e1e1e">40</text><path d="M485.0 387.2V389.6" stroke="#222" stroke-width="0.90" fill="none"/><text x="485.00" y="399.70" font-size="7.20" text-anchor="middle" textLength="8.00" lengthAdjust="spacingAndGlyphs" fill="#1e1e1e">60</text><text x="429.0" y="412.1" font-size="8.2" textLength="53.2" lengthAdjust="spacingAndGlyphs" fill="#1e1e1e">-log<tspan font-size="5.6" dy="2.0">10</tspan><tspan dy="-2.0"> (adjusted P)</tspan></text><text x="6.40" y="440.90" font-size="10.80" font-weight="bold" style="stroke-width:0.45px;stroke:#111" fill="#111">E</text><text x="100.00" y="455.90" font-size="9.00" text-anchor="middle" textLength="131.30" lengthAdjust="spacingAndGlyphs" fill="#1e1e1e">Total 1,824 SMC3 binding peaks</text><path d="M75.40 502.90L75.40 463.90A39.00 39.00 0 0 1 114.09 507.79Z" fill="#1c4b85" stroke="#151515" stroke-width="1.15" stroke-linejoin="round"/><path d="M75.40 502.90L114.09 507.79A39.00 39.00 0 1 1 75.38 463.90Z" fill="#f9b912" stroke="#151515" stroke-width="1.15" stroke-linejoin="round"/><text x="146.90" y="484.20" font-size="7.40" text-anchor="middle" textLength="15.40" lengthAdjust="spacingAndGlyphs" fill="#1e1e1e">27%</text><text x="147.50" y="495.10" font-size="7.40" text-anchor="middle" textLength="62.60" lengthAdjust="spacingAndGlyphs" fill="#1e1e1e">Lost Binding Peaks</text><text x="104.60" y="544.60" font-size="7.40" text-anchor="middle" textLength="15.40" lengthAdjust="spacingAndGlyphs" fill="#1e1e1e">73%</text><text x="105.80" y="554.80" font-size="7.40" text-anchor="middle" textLength="82.30" lengthAdjust="spacingAndGlyphs" fill="#1e1e1e">Remained Binding Peaks</text><text x="208.40" y="440.90" font-size="10.80" font-weight="bold" style="stroke-width:0.45px;stroke:#111" fill="#111">F</text><text x="417.80" y="455.10" font-size="9.00" text-anchor="middle" textLength="138.50" lengthAdjust="spacingAndGlyphs" fill="#1e1e1e">Genes with loss of SMC3 bindings</text><rect x="422.2" y="464.10" width="47.8" height="6.0" fill="#c80a28"/><path d="M419.0 467.10H422.2" stroke="#222" stroke-width="0.90" fill="none"/><text x="417.20" y="469.80" font-size="7.60" text-anchor="end" fill="#1e1e1e">Cellular Process (218 genes)</text><rect x="422.2" y="473.17" width="47.8" height="6.0" fill="#c80a28"/><path d="M419.0 476.17H422.2" stroke="#222" stroke-width="0.90" fill="none"/><text x="417.20" y="478.87" font-size="7.60" text-anchor="end" fill="#1e1e1e">Cellular Metabolic Process (157 genes)</text><rect x="422.2" y="482.24" width="46.3" height="6.0" fill="#c80a28"/><path d="M419.0 485.24H422.2" stroke="#222" stroke-width="0.90" fill="none"/><text x="417.20" y="487.94" font-size="7.60" text-anchor="end" fill="#1e1e1e">Primary Metabolic Process (154 genes)</text><rect x="422.2" y="491.31" width="44.7" height="6.0" fill="#c80a28"/><path d="M419.0 494.31H422.2" stroke="#222" stroke-width="0.90" fill="none"/><text x="417.20" y="497.01" font-size="7.60" text-anchor="end" fill="#1e1e1e">Nitrogen Compound Metabolic Process (147 genes)</text><rect x="422.2" y="500.38" width="44.1" height="6.0" fill="#c80a28"/><path d="M419.0 503.38H422.2" stroke="#222" stroke-width="0.90" fill="none"/><text x="417.20" y="506.08" font-size="7.60" text-anchor="end" fill="#1e1e1e">Organic Substance Metabolic Process (160 genes)</text><rect x="422.2" y="509.45" width="42.3" height="6.0" fill="#c80a28"/><path d="M419.0 512.45H422.2" stroke="#222" stroke-width="0.90" fill="none"/><text x="417.20" y="515.15" font-size="7.60" text-anchor="end" fill="#1e1e1e">Metabolic Process (163 genes)</text><rect x="422.2" y="518.52" width="36.4" height="6.0" fill="#c80a28"/><path d="M419.0 521.52H422.2" stroke="#222" stroke-width="0.90" fill="none"/><text x="417.20" y="524.22" font-size="7.60" text-anchor="end" fill="#1e1e1e">Macromolecule Metabolic Process (140 genes)</text><rect x="422.2" y="527.59" width="36.1" height="6.0" fill="#c80a28"/><path d="M419.0 530.59H422.2" stroke="#222" stroke-width="0.90" fill="none"/><text x="417.20" y="533.29" font-size="7.60" text-anchor="end" fill="#1e1e1e">Cellular Macromolecule Metabolic Process (124 genes)</text><rect x="422.2" y="536.66" width="28.8" height="6.0" fill="#c80a28"/><path d="M419.0 539.66H422.2" stroke="#222" stroke-width="0.90" fill="none"/><text x="417.20" y="542.36" font-size="7.60" text-anchor="end" fill="#1e1e1e">Cellular Response To Stress (48 genes)</text><rect x="422.2" y="545.73" width="22.9" height="6.0" fill="#c80a28"/><path d="M419.0 548.73H422.2" stroke="#222" stroke-width="0.90" fill="none"/><text x="417.20" y="551.43" font-size="7.60" text-anchor="end" fill="#1e1e1e">Regulation Of Metabolic Process (105 genes)</text><path d="M422.2 460.5V554.6H488.6" stroke="#222" stroke-width="1.00" fill="none"/><path d="M422.0 554.6V557.0" stroke="#222" stroke-width="0.90" fill="none"/><text x="422.00" y="567.10" font-size="7.20" text-anchor="middle" textLength="4.00" lengthAdjust="spacingAndGlyphs" fill="#1e1e1e">0</text><path d="M443.2 554.6V557.0" stroke="#222" stroke-width="0.90" fill="none"/><text x="443.20" y="567.10" font-size="7.20" text-anchor="middle" textLength="4.00" lengthAdjust="spacingAndGlyphs" fill="#1e1e1e">5</text><path d="M464.0 554.6V557.0" stroke="#222" stroke-width="0.90" fill="none"/><text x="464.00" y="567.10" font-size="7.20" text-anchor="middle" textLength="8.00" lengthAdjust="spacingAndGlyphs" fill="#1e1e1e">10</text><path d="M485.0 554.6V557.0" stroke="#222" stroke-width="0.90" fill="none"/><text x="485.00" y="567.10" font-size="7.20" text-anchor="middle" textLength="8.00" lengthAdjust="spacingAndGlyphs" fill="#1e1e1e">15</text><text x="429.0" y="580.0" font-size="8.2" textLength="53.2" lengthAdjust="spacingAndGlyphs" fill="#1e1e1e">-log<tspan font-size="5.6" dy="2.0">10</tspan><tspan dy="-2.0"> (adjusted P)</tspan></text><rect x="0.5" y="0.5" width="519" height="590" fill="none" stroke="#5c5c5c" stroke-width="1"/></svg></body></html>
